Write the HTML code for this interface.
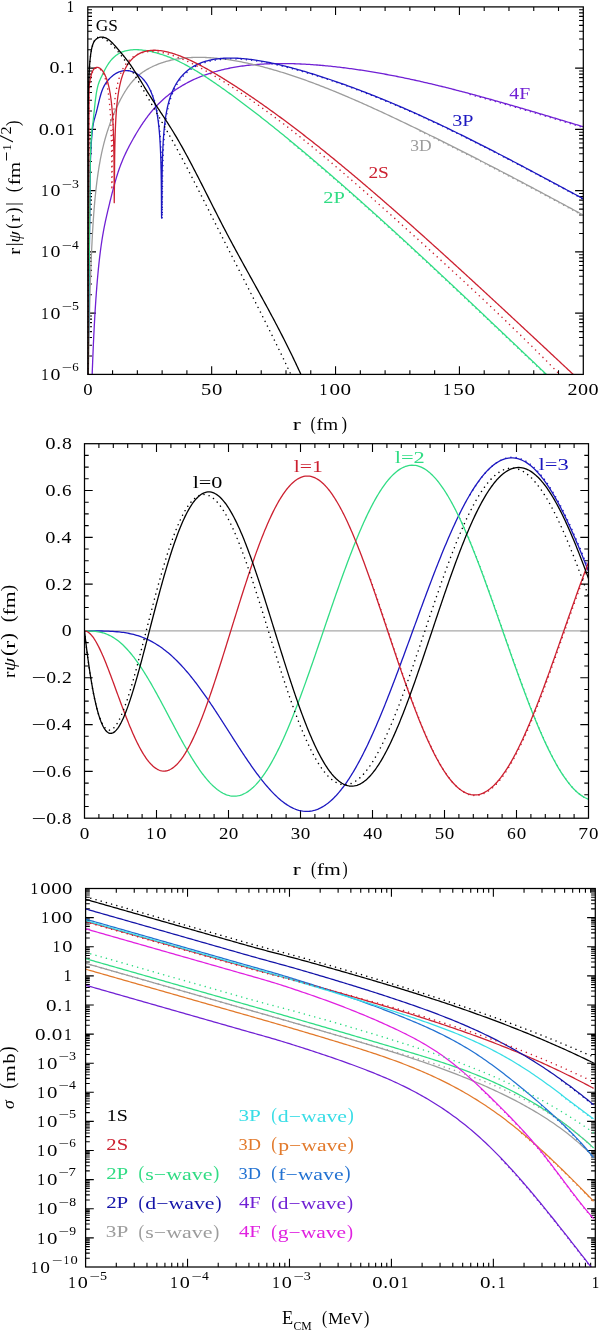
<!DOCTYPE html>
<html><head><meta charset="utf-8"><style>
html,body{margin:0;padding:0;background:#fff;}
body{width:600px;height:1331px;overflow:hidden;font-family:"Liberation Serif",serif;}
svg{display:block;will-change:transform;}
</style></head><body>
<svg width="600" height="1331" viewBox="0 0 600 1331">
<rect width="600" height="1331" fill="#fff"/>
<path d="M112.57 374.40v-4.2M112.57 6.90v4.2M137.35 374.40v-4.2M137.35 6.90v4.2M162.12 374.40v-4.2M162.12 6.90v4.2M186.90 374.40v-4.2M186.90 6.90v4.2M211.67 374.40v-8.2M211.67 6.90v8.2M236.45 374.40v-4.2M236.45 6.90v4.2M261.22 374.40v-4.2M261.22 6.90v4.2M286.00 374.40v-4.2M286.00 6.90v4.2M310.77 374.40v-4.2M310.77 6.90v4.2M335.55 374.40v-8.2M335.55 6.90v8.2M360.32 374.40v-4.2M360.32 6.90v4.2M385.10 374.40v-4.2M385.10 6.90v4.2M409.88 374.40v-4.2M409.88 6.90v4.2M434.65 374.40v-4.2M434.65 6.90v4.2M459.42 374.40v-8.2M459.42 6.90v8.2M484.20 374.40v-4.2M484.20 6.90v4.2M508.97 374.40v-4.2M508.97 6.90v4.2M533.75 374.40v-4.2M533.75 6.90v4.2M558.52 374.40v-4.2M558.52 6.90v4.2M87.80 49.71h4.2M583.30 49.71h-4.2M87.80 38.93h4.2M583.30 38.93h-4.2M87.80 31.27h4.2M583.30 31.27h-4.2M87.80 25.34h4.2M583.30 25.34h-4.2M87.80 20.49h4.2M583.30 20.49h-4.2M87.80 16.39h4.2M583.30 16.39h-4.2M87.80 12.84h4.2M583.30 12.84h-4.2M87.80 9.70h4.2M583.30 9.70h-4.2M87.80 110.96h4.2M583.30 110.96h-4.2M87.80 100.18h4.2M583.30 100.18h-4.2M87.80 92.52h4.2M583.30 92.52h-4.2M87.80 86.59h4.2M583.30 86.59h-4.2M87.80 81.74h4.2M583.30 81.74h-4.2M87.80 77.64h4.2M583.30 77.64h-4.2M87.80 74.09h4.2M583.30 74.09h-4.2M87.80 70.95h4.2M583.30 70.95h-4.2M87.80 172.21h4.2M583.30 172.21h-4.2M87.80 161.43h4.2M583.30 161.43h-4.2M87.80 153.77h4.2M583.30 153.77h-4.2M87.80 147.84h4.2M583.30 147.84h-4.2M87.80 142.99h4.2M583.30 142.99h-4.2M87.80 138.89h4.2M583.30 138.89h-4.2M87.80 135.34h4.2M583.30 135.34h-4.2M87.80 132.20h4.2M583.30 132.20h-4.2M87.80 233.46h4.2M583.30 233.46h-4.2M87.80 222.68h4.2M583.30 222.68h-4.2M87.80 215.02h4.2M583.30 215.02h-4.2M87.80 209.09h4.2M583.30 209.09h-4.2M87.80 204.24h4.2M583.30 204.24h-4.2M87.80 200.14h4.2M583.30 200.14h-4.2M87.80 196.59h4.2M583.30 196.59h-4.2M87.80 193.45h4.2M583.30 193.45h-4.2M87.80 294.71h4.2M583.30 294.71h-4.2M87.80 283.93h4.2M583.30 283.93h-4.2M87.80 276.27h4.2M583.30 276.27h-4.2M87.80 270.34h4.2M583.30 270.34h-4.2M87.80 265.49h4.2M583.30 265.49h-4.2M87.80 261.39h4.2M583.30 261.39h-4.2M87.80 257.84h4.2M583.30 257.84h-4.2M87.80 254.70h4.2M583.30 254.70h-4.2M87.80 355.96h4.2M583.30 355.96h-4.2M87.80 345.18h4.2M583.30 345.18h-4.2M87.80 337.52h4.2M583.30 337.52h-4.2M87.80 331.59h4.2M583.30 331.59h-4.2M87.80 326.74h4.2M583.30 326.74h-4.2M87.80 322.64h4.2M583.30 322.64h-4.2M87.80 319.09h4.2M583.30 319.09h-4.2M87.80 315.95h4.2M583.30 315.95h-4.2M87.80 68.15h8.2M583.30 68.15h-8.2M87.80 129.40h8.2M583.30 129.40h-8.2M87.80 190.65h8.2M583.30 190.65h-8.2M87.80 251.90h8.2M583.30 251.90h-8.2M87.80 313.15h8.2M583.30 313.15h-8.2" stroke="#000" stroke-width="1.1" fill="none"/>
<path d="M98.90 818.20v-4.2M98.90 443.70v4.2M113.30 818.20v-4.2M113.30 443.70v4.2M127.70 818.20v-4.2M127.70 443.70v4.2M142.10 818.20v-4.2M142.10 443.70v4.2M156.50 818.20v-8.2M156.50 443.70v8.2M170.90 818.20v-4.2M170.90 443.70v4.2M185.30 818.20v-4.2M185.30 443.70v4.2M199.70 818.20v-4.2M199.70 443.70v4.2M214.10 818.20v-4.2M214.10 443.70v4.2M228.50 818.20v-8.2M228.50 443.70v8.2M242.90 818.20v-4.2M242.90 443.70v4.2M257.30 818.20v-4.2M257.30 443.70v4.2M271.70 818.20v-4.2M271.70 443.70v4.2M286.10 818.20v-4.2M286.10 443.70v4.2M300.50 818.20v-8.2M300.50 443.70v8.2M314.90 818.20v-4.2M314.90 443.70v4.2M329.30 818.20v-4.2M329.30 443.70v4.2M343.70 818.20v-4.2M343.70 443.70v4.2M358.10 818.20v-4.2M358.10 443.70v4.2M372.50 818.20v-8.2M372.50 443.70v8.2M386.90 818.20v-4.2M386.90 443.70v4.2M401.30 818.20v-4.2M401.30 443.70v4.2M415.70 818.20v-4.2M415.70 443.70v4.2M430.10 818.20v-4.2M430.10 443.70v4.2M444.50 818.20v-8.2M444.50 443.70v8.2M458.90 818.20v-4.2M458.90 443.70v4.2M473.30 818.20v-4.2M473.30 443.70v4.2M487.70 818.20v-4.2M487.70 443.70v4.2M502.10 818.20v-4.2M502.10 443.70v4.2M516.50 818.20v-8.2M516.50 443.70v8.2M530.90 818.20v-4.2M530.90 443.70v4.2M545.30 818.20v-4.2M545.30 443.70v4.2M559.70 818.20v-4.2M559.70 443.70v4.2M574.10 818.20v-4.2M574.10 443.70v4.2M84.50 455.40h4.2M588.50 455.40h-4.2M84.50 467.11h4.2M588.50 467.11h-4.2M84.50 478.81h4.2M588.50 478.81h-4.2M84.50 490.51h8.2M588.50 490.51h-8.2M84.50 502.22h4.2M588.50 502.22h-4.2M84.50 513.92h4.2M588.50 513.92h-4.2M84.50 525.62h4.2M588.50 525.62h-4.2M84.50 537.33h8.2M588.50 537.33h-8.2M84.50 549.03h4.2M588.50 549.03h-4.2M84.50 560.73h4.2M588.50 560.73h-4.2M84.50 572.43h4.2M588.50 572.43h-4.2M84.50 584.14h8.2M588.50 584.14h-8.2M84.50 595.84h4.2M588.50 595.84h-4.2M84.50 607.54h4.2M588.50 607.54h-4.2M84.50 619.25h4.2M588.50 619.25h-4.2M84.50 630.95h8.2M588.50 630.95h-8.2M84.50 642.65h4.2M588.50 642.65h-4.2M84.50 654.36h4.2M588.50 654.36h-4.2M84.50 666.06h4.2M588.50 666.06h-4.2M84.50 677.76h8.2M588.50 677.76h-8.2M84.50 689.47h4.2M588.50 689.47h-4.2M84.50 701.17h4.2M588.50 701.17h-4.2M84.50 712.87h4.2M588.50 712.87h-4.2M84.50 724.58h8.2M588.50 724.58h-8.2M84.50 736.28h4.2M588.50 736.28h-4.2M84.50 747.98h4.2M588.50 747.98h-4.2M84.50 759.68h4.2M588.50 759.68h-4.2M84.50 771.39h8.2M588.50 771.39h-8.2M84.50 783.09h4.2M588.50 783.09h-4.2M84.50 794.79h4.2M588.50 794.79h-4.2M84.50 806.50h4.2M588.50 806.50h-4.2" stroke="#000" stroke-width="1.1" fill="none"/>
<path d="M116.29 1267.00v-4.2M116.29 888.50v4.2M134.24 1267.00v-4.2M134.24 888.50v4.2M146.97 1267.00v-4.2M146.97 888.50v4.2M156.85 1267.00v-4.2M156.85 888.50v4.2M164.92 1267.00v-4.2M164.92 888.50v4.2M171.75 1267.00v-4.2M171.75 888.50v4.2M177.66 1267.00v-4.2M177.66 888.50v4.2M182.88 1267.00v-4.2M182.88 888.50v4.2M187.54 1267.00v-8.2M187.54 888.50v8.2M218.23 1267.00v-4.2M218.23 888.50v4.2M236.18 1267.00v-4.2M236.18 888.50v4.2M248.91 1267.00v-4.2M248.91 888.50v4.2M258.79 1267.00v-4.2M258.79 888.50v4.2M266.86 1267.00v-4.2M266.86 888.50v4.2M273.69 1267.00v-4.2M273.69 888.50v4.2M279.60 1267.00v-4.2M279.60 888.50v4.2M284.82 1267.00v-4.2M284.82 888.50v4.2M289.48 1267.00v-8.2M289.48 888.50v8.2M320.17 1267.00v-4.2M320.17 888.50v4.2M338.12 1267.00v-4.2M338.12 888.50v4.2M350.85 1267.00v-4.2M350.85 888.50v4.2M360.73 1267.00v-4.2M360.73 888.50v4.2M368.80 1267.00v-4.2M368.80 888.50v4.2M375.63 1267.00v-4.2M375.63 888.50v4.2M381.54 1267.00v-4.2M381.54 888.50v4.2M386.76 1267.00v-4.2M386.76 888.50v4.2M391.42 1267.00v-8.2M391.42 888.50v8.2M422.11 1267.00v-4.2M422.11 888.50v4.2M440.06 1267.00v-4.2M440.06 888.50v4.2M452.79 1267.00v-4.2M452.79 888.50v4.2M462.67 1267.00v-4.2M462.67 888.50v4.2M470.74 1267.00v-4.2M470.74 888.50v4.2M477.57 1267.00v-4.2M477.57 888.50v4.2M483.48 1267.00v-4.2M483.48 888.50v4.2M488.70 1267.00v-4.2M488.70 888.50v4.2M493.36 1267.00v-8.2M493.36 888.50v8.2M524.05 1267.00v-4.2M524.05 888.50v4.2M542.00 1267.00v-4.2M542.00 888.50v4.2M554.73 1267.00v-4.2M554.73 888.50v4.2M564.61 1267.00v-4.2M564.61 888.50v4.2M572.68 1267.00v-4.2M572.68 888.50v4.2M579.51 1267.00v-4.2M579.51 888.50v4.2M585.42 1267.00v-4.2M585.42 888.50v4.2M590.64 1267.00v-4.2M590.64 888.50v4.2M85.60 1258.24h4.2M595.30 1258.24h-4.2M85.60 1253.11h4.2M595.30 1253.11h-4.2M85.60 1249.47h4.2M595.30 1249.47h-4.2M85.60 1246.65h4.2M595.30 1246.65h-4.2M85.60 1244.34h4.2M595.30 1244.34h-4.2M85.60 1242.39h4.2M595.30 1242.39h-4.2M85.60 1240.71h4.2M595.30 1240.71h-4.2M85.60 1239.22h4.2M595.30 1239.22h-4.2M85.60 1237.88h8.2M595.30 1237.88h-8.2M85.60 1229.12h4.2M595.30 1229.12h-4.2M85.60 1223.99h4.2M595.30 1223.99h-4.2M85.60 1220.36h4.2M595.30 1220.36h-4.2M85.60 1217.53h4.2M595.30 1217.53h-4.2M85.60 1215.23h4.2M595.30 1215.23h-4.2M85.60 1213.28h4.2M595.30 1213.28h-4.2M85.60 1211.59h4.2M595.30 1211.59h-4.2M85.60 1210.10h4.2M595.30 1210.10h-4.2M85.60 1208.77h8.2M595.30 1208.77h-8.2M85.60 1200.00h4.2M595.30 1200.00h-4.2M85.60 1194.88h4.2M595.30 1194.88h-4.2M85.60 1191.24h4.2M595.30 1191.24h-4.2M85.60 1188.42h4.2M595.30 1188.42h-4.2M85.60 1186.11h4.2M595.30 1186.11h-4.2M85.60 1184.16h4.2M595.30 1184.16h-4.2M85.60 1182.48h4.2M595.30 1182.48h-4.2M85.60 1180.99h4.2M595.30 1180.99h-4.2M85.60 1179.65h8.2M595.30 1179.65h-8.2M85.60 1170.89h4.2M595.30 1170.89h-4.2M85.60 1165.76h4.2M595.30 1165.76h-4.2M85.60 1162.12h4.2M595.30 1162.12h-4.2M85.60 1159.30h4.2M595.30 1159.30h-4.2M85.60 1157.00h4.2M595.30 1157.00h-4.2M85.60 1155.05h4.2M595.30 1155.05h-4.2M85.60 1153.36h4.2M595.30 1153.36h-4.2M85.60 1151.87h4.2M595.30 1151.87h-4.2M85.60 1150.54h8.2M595.30 1150.54h-8.2M85.60 1141.77h4.2M595.30 1141.77h-4.2M85.60 1136.65h4.2M595.30 1136.65h-4.2M85.60 1133.01h4.2M595.30 1133.01h-4.2M85.60 1130.19h4.2M595.30 1130.19h-4.2M85.60 1127.88h4.2M595.30 1127.88h-4.2M85.60 1125.93h4.2M595.30 1125.93h-4.2M85.60 1124.24h4.2M595.30 1124.24h-4.2M85.60 1122.76h4.2M595.30 1122.76h-4.2M85.60 1121.42h8.2M595.30 1121.42h-8.2M85.60 1112.66h4.2M595.30 1112.66h-4.2M85.60 1107.53h4.2M595.30 1107.53h-4.2M85.60 1103.89h4.2M595.30 1103.89h-4.2M85.60 1101.07h4.2M595.30 1101.07h-4.2M85.60 1098.77h4.2M595.30 1098.77h-4.2M85.60 1096.82h4.2M595.30 1096.82h-4.2M85.60 1095.13h4.2M595.30 1095.13h-4.2M85.60 1093.64h4.2M595.30 1093.64h-4.2M85.60 1092.31h8.2M595.30 1092.31h-8.2M85.60 1083.54h4.2M595.30 1083.54h-4.2M85.60 1078.42h4.2M595.30 1078.42h-4.2M85.60 1074.78h4.2M595.30 1074.78h-4.2M85.60 1071.96h4.2M595.30 1071.96h-4.2M85.60 1069.65h4.2M595.30 1069.65h-4.2M85.60 1067.70h4.2M595.30 1067.70h-4.2M85.60 1066.01h4.2M595.30 1066.01h-4.2M85.60 1064.52h4.2M595.30 1064.52h-4.2M85.60 1063.19h8.2M595.30 1063.19h-8.2M85.60 1054.43h4.2M595.30 1054.43h-4.2M85.60 1049.30h4.2M595.30 1049.30h-4.2M85.60 1045.66h4.2M595.30 1045.66h-4.2M85.60 1042.84h4.2M595.30 1042.84h-4.2M85.60 1040.54h4.2M595.30 1040.54h-4.2M85.60 1038.59h4.2M595.30 1038.59h-4.2M85.60 1036.90h4.2M595.30 1036.90h-4.2M85.60 1035.41h4.2M595.30 1035.41h-4.2M85.60 1034.08h8.2M595.30 1034.08h-8.2M85.60 1025.31h4.2M595.30 1025.31h-4.2M85.60 1020.19h4.2M595.30 1020.19h-4.2M85.60 1016.55h4.2M595.30 1016.55h-4.2M85.60 1013.73h4.2M595.30 1013.73h-4.2M85.60 1011.42h4.2M595.30 1011.42h-4.2M85.60 1009.47h4.2M595.30 1009.47h-4.2M85.60 1007.78h4.2M595.30 1007.78h-4.2M85.60 1006.29h4.2M595.30 1006.29h-4.2M85.60 1004.96h8.2M595.30 1004.96h-8.2M85.60 996.20h4.2M595.30 996.20h-4.2M85.60 991.07h4.2M595.30 991.07h-4.2M85.60 987.43h4.2M595.30 987.43h-4.2M85.60 984.61h4.2M595.30 984.61h-4.2M85.60 982.31h4.2M595.30 982.31h-4.2M85.60 980.36h4.2M595.30 980.36h-4.2M85.60 978.67h4.2M595.30 978.67h-4.2M85.60 977.18h4.2M595.30 977.18h-4.2M85.60 975.85h8.2M595.30 975.85h-8.2M85.60 967.08h4.2M595.30 967.08h-4.2M85.60 961.95h4.2M595.30 961.95h-4.2M85.60 958.32h4.2M595.30 958.32h-4.2M85.60 955.50h4.2M595.30 955.50h-4.2M85.60 953.19h4.2M595.30 953.19h-4.2M85.60 951.24h4.2M595.30 951.24h-4.2M85.60 949.55h4.2M595.30 949.55h-4.2M85.60 948.06h4.2M595.30 948.06h-4.2M85.60 946.73h8.2M595.30 946.73h-8.2M85.60 937.97h4.2M595.30 937.97h-4.2M85.60 932.84h4.2M595.30 932.84h-4.2M85.60 929.20h4.2M595.30 929.20h-4.2M85.60 926.38h4.2M595.30 926.38h-4.2M85.60 924.07h4.2M595.30 924.07h-4.2M85.60 922.13h4.2M595.30 922.13h-4.2M85.60 920.44h4.2M595.30 920.44h-4.2M85.60 918.95h4.2M595.30 918.95h-4.2M85.60 917.62h8.2M595.30 917.62h-8.2M85.60 908.85h4.2M595.30 908.85h-4.2M85.60 903.72h4.2M595.30 903.72h-4.2M85.60 900.09h4.2M595.30 900.09h-4.2M85.60 897.26h4.2M595.30 897.26h-4.2M85.60 894.96h4.2M595.30 894.96h-4.2M85.60 893.01h4.2M595.30 893.01h-4.2M85.60 891.32h4.2M595.30 891.32h-4.2M85.60 889.83h4.2M595.30 889.83h-4.2" stroke="#000" stroke-width="1.1" fill="none"/>
<line x1="84.50" y1="630.95" x2="588.50" y2="630.95" stroke="#a8a8a8" stroke-width="1.2"/>
<defs><clipPath id="cp1"><rect x="87.8" y="6.9" width="495.49999999999994" height="367.5"/></clipPath><clipPath id="cp2"><rect x="84.5" y="443.7" width="504" height="374.5"/></clipPath><clipPath id="cp3"><rect x="85.6" y="888.5" width="509.7" height="378.5"/></clipPath></defs>
<polyline points="91.92,380.93 91.98,379.36 92.04,377.82 92.10,376.29 92.16,374.79 92.22,373.23 92.28,371.54 92.34,369.88 92.40,368.24 92.47,366.61 92.53,365.01 92.59,363.42 92.65,361.85 92.71,360.29 92.77,358.76 92.83,357.23 92.89,355.73 92.96,354.24 93.02,352.76 93.08,351.30 93.14,349.86 93.26,347.00 93.38,344.21 93.51,341.53 93.63,338.95 93.75,336.42 93.87,333.93 94.00,331.49 94.12,329.09 94.24,326.72 94.36,324.40 94.49,322.11 94.61,319.86 94.73,317.70 94.85,315.63 94.98,313.58 95.10,311.56 95.22,309.58 95.34,307.62 95.46,305.69 95.59,303.79 95.71,301.92 95.83,300.07 95.95,298.29 96.08,296.58 96.20,294.90 96.32,293.24 96.44,291.59 96.57,289.98 96.69,288.38 96.81,286.80 96.93,285.24 97.06,283.70 97.18,282.22 97.30,280.80 97.42,279.39 97.55,278.00 97.73,275.95 97.91,273.94 98.10,271.96 98.28,270.02 98.46,268.16 98.65,266.38 98.83,264.63 99.01,262.91 99.20,261.22 99.38,259.56 99.57,257.92 99.75,256.38 99.93,254.88 100.12,253.40 100.30,251.94 100.48,250.51 100.67,249.10 100.85,247.72 101.10,245.98 101.34,244.28 101.59,242.61 101.83,240.98 102.07,239.39 102.32,237.88 102.56,236.39 102.81,234.94 103.05,233.52 103.30,232.12 103.54,230.79 103.79,229.47 104.03,228.18 104.28,226.92 104.58,225.38 104.89,223.87 105.20,222.40 105.50,220.97 105.81,219.56 106.11,218.16 106.42,216.79 106.73,215.45 107.03,214.12 107.34,212.78 107.64,211.47 107.95,210.18 108.26,208.90 108.56,207.59 108.87,206.31 109.17,205.04 109.48,203.79 109.79,202.52 110.09,201.26 110.40,200.03 110.70,198.80 111.01,197.56 111.32,196.34 111.62,195.14 111.99,193.70 112.30,192.51 112.66,191.09 113.03,189.70 113.40,188.31 113.76,186.94 114.13,185.59 114.50,184.25 114.87,182.94 115.23,181.64 115.60,180.36 115.97,179.10 116.33,177.86 116.70,176.64 117.07,175.45 117.44,174.28 117.80,173.13 118.23,171.82 118.66,170.55 119.09,169.29 119.52,168.08 119.95,166.89 120.37,165.72 120.80,164.59 121.23,163.48 121.66,162.39 122.15,161.17 122.64,159.99 123.13,158.82 123.62,157.69 124.11,156.58 124.60,155.49 125.09,154.43 125.58,153.38 126.07,152.36 126.62,151.22 127.17,150.11 127.72,149.01 128.27,147.93 128.82,146.87 129.37,145.82 129.92,144.78 130.47,143.75 131.02,142.73 131.57,141.73 132.12,140.73 132.68,139.74 133.23,138.76 133.78,137.79 134.33,136.83 134.88,135.87 135.49,134.83 136.10,133.79 136.71,132.76 137.33,131.75 137.94,130.75 138.55,129.76 139.16,128.78 139.77,127.81 140.39,126.85 141.00,125.90 141.61,124.97 142.22,124.05 142.83,123.14 143.45,122.24 144.12,121.26 144.79,120.30 145.47,119.36 146.14,118.43 146.81,117.51 147.49,116.61 148.16,115.73 148.83,114.86 149.51,114.01 150.18,113.17 150.91,112.28 151.65,111.39 152.38,110.53 153.12,109.68 153.85,108.85 154.59,108.03 155.32,107.23 156.05,106.44 156.79,105.67 157.58,104.84 158.38,104.04 159.18,103.25 159.97,102.47 160.77,101.71 161.56,100.96 162.36,100.23 163.15,99.51 163.95,98.80 164.81,98.06 165.66,97.33 166.52,96.61 167.38,95.91 168.23,95.22 169.09,94.54 169.95,93.88 170.80,93.23 171.72,92.55 172.64,91.88 173.56,91.22 174.48,90.58 175.39,89.94 176.31,89.33 177.23,88.72 178.15,88.12 179.07,87.54 180.05,86.93 181.02,86.33 182.00,85.74 182.98,85.17 183.96,84.61 184.94,84.06 185.92,83.52 186.90,82.99 188.02,82.40 189.01,81.89 190.50,81.14 191.98,80.41 193.47,79.71 194.96,79.03 196.45,78.37 197.94,77.73 199.42,77.11 200.91,76.51 202.40,75.93 203.89,75.37 205.37,74.83 206.86,74.30 208.35,73.80 209.84,73.30 211.33,72.83 212.81,72.37 214.30,71.93 215.79,71.50 217.28,71.08 218.77,70.68 220.25,70.30 221.74,69.93 223.23,69.57 224.72,69.22 226.21,68.89 227.69,68.57 229.18,68.26 230.67,67.97 232.16,67.68 233.64,67.41 235.13,67.15 236.62,66.90 238.11,66.66 239.60,66.43 241.08,66.21 242.57,66.00 244.06,65.80 245.55,65.61 247.04,65.43 248.52,65.26 250.01,65.10 251.50,64.95 252.99,64.80 254.48,64.67 255.96,64.54 257.45,64.42 258.94,64.31 260.43,64.21 261.91,64.11 263.40,64.03 264.89,63.95 266.38,63.87 267.87,63.81 269.35,63.75 270.84,63.70 272.33,63.66 273.82,63.62 275.31,63.59 276.79,63.57 278.28,63.55 280.27,63.53 282.25,63.53 284.23,63.54 285.72,63.55 287.21,63.57 288.70,63.59 290.18,63.62 291.67,63.66 293.16,63.70 294.65,63.74 296.14,63.79 297.62,63.85 299.11,63.91 300.60,63.98 302.09,64.05 303.58,64.12 305.06,64.20 306.55,64.29 308.04,64.37 309.53,64.47 311.02,64.57 312.50,64.67 313.99,64.78 315.48,64.89 316.97,65.00 318.45,65.12 319.94,65.25 321.43,65.37 322.92,65.50 324.41,65.64 325.89,65.78 327.38,65.92 328.87,66.07 330.36,66.22 331.85,66.38 333.33,66.54 334.82,66.70 336.31,66.87 337.80,67.04 339.29,67.21 340.77,67.39 342.26,67.57 343.75,67.75 345.24,67.94 346.72,68.13 348.21,68.33 349.70,68.53 351.19,68.73 352.68,68.93 354.16,69.14 355.65,69.35 357.14,69.57 358.63,69.79 360.12,70.01 361.60,70.23 363.09,70.46 364.58,70.69 366.07,70.93 367.56,71.16 369.04,71.40 370.53,71.64 372.02,71.89 373.51,72.14 374.99,72.39 376.48,72.65 377.97,72.90 379.46,73.17 380.95,73.43 382.43,73.70 383.92,73.96 385.41,74.24 386.90,74.51 388.39,74.79 389.87,75.07 391.36,75.35 392.85,75.64 394.34,75.93 395.83,76.22 397.31,76.51 398.80,76.81 400.29,77.11 401.78,77.41 403.26,77.72 404.75,78.03 406.24,78.34 407.73,78.65 409.22,78.96 410.70,79.28 412.19,79.60 413.68,79.93 415.17,80.25 416.66,80.58 418.14,80.91 419.63,81.24 421.12,81.58 422.61,81.92 424.10,82.26 425.58,82.60 427.07,82.94 428.56,83.29 430.05,83.64 431.53,83.99 433.02,84.34 434.51,84.70 436.00,85.05 437.49,85.41 438.97,85.78 440.46,86.14 441.95,86.50 443.44,86.87 444.93,87.24 446.41,87.61 447.90,87.99 449.39,88.36 450.88,88.74 452.37,89.12 453.85,89.50 455.34,89.88 456.83,90.26 458.32,90.65 459.80,91.03 461.29,91.42 462.78,91.81 464.27,92.21 465.76,92.60 467.24,92.99 468.73,93.39 470.22,93.79 471.71,94.19 473.20,94.59 474.68,94.99 476.17,95.39 477.66,95.80 479.15,96.21 480.64,96.61 482.12,97.02 483.61,97.43 485.10,97.84 486.59,98.26 488.07,98.67 489.56,99.09 491.05,99.50 492.54,99.92 494.03,100.34 495.51,100.76 497.00,101.18 498.49,101.60 499.98,102.03 501.47,102.45 502.95,102.87 504.44,103.30 505.93,103.73 507.42,104.15 508.91,104.58 510.39,105.01 511.88,105.44 513.37,105.87 514.86,106.31 516.34,106.74 517.83,107.17 519.32,107.61 520.81,108.04 522.30,108.48 523.78,108.92 525.27,109.35 526.76,109.79 528.25,110.23 529.74,110.67 531.22,111.11 532.71,111.55 534.20,111.99 535.69,112.43 537.18,112.87 538.66,113.32 540.15,113.76 541.64,114.20 543.13,114.65 544.61,115.09 546.10,115.54 547.59,115.98 549.08,116.43 550.57,116.87 552.05,117.32 553.54,117.77 555.03,118.22 556.52,118.66 558.01,119.11 559.49,119.56 560.98,120.01 562.47,120.45 563.96,120.90 565.45,121.35 566.93,121.80 568.42,122.25 569.91,122.70 571.40,123.15 572.88,123.60 574.37,124.05 575.86,124.50 577.35,124.95 578.84,125.40 580.32,125.85 581.81,126.30 583.30,126.74" fill="none" stroke="#7020d4" stroke-width="1.3" stroke-linejoin="round" clip-path="url(#cp1)"/>
<polyline points="470.22,94.59 471.71,94.99 473.20,95.39 474.68,95.79 476.17,96.19 477.66,96.60 479.15,97.01 480.64,97.41 482.12,97.82 483.61,98.23 485.10,98.64 486.59,99.06 488.07,99.47 489.56,99.89 491.05,100.30 492.54,100.72 494.03,101.14 495.51,101.56 497.00,101.98 498.49,102.40 499.98,102.83 501.47,103.25 502.95,103.67 504.44,104.10 505.93,104.53 507.42,104.95 508.91,105.38 510.39,105.81 511.88,106.24 513.37,106.67 514.86,107.11 516.34,107.54 517.83,107.97 519.32,108.41 520.81,108.84 522.30,109.28 523.78,109.72 525.27,110.15 526.76,110.59 528.25,111.03 529.74,111.47 531.22,111.91 532.71,112.35 534.20,112.79 535.69,113.23 537.18,113.67 538.66,114.12 540.15,114.56 541.64,115.00 543.13,115.45 544.61,115.89 546.10,116.34 547.59,116.78 549.08,117.23 550.57,117.67 552.05,118.12 553.54,118.57 555.03,119.02 556.52,119.46 558.01,119.91 559.49,120.36 560.98,120.81 562.47,121.25 563.96,121.70 565.45,122.15 566.93,122.60 568.42,123.05 569.91,123.50 571.40,123.95 572.88,124.40 574.37,124.85 575.86,125.30 577.35,125.75 578.84,126.20 580.32,126.65 581.81,127.10 583.30,127.54" fill="none" stroke="#7020d4" stroke-width="1.5" stroke-dasharray="0.01 5.2" stroke-linecap="round" clip-path="url(#cp1)"/>
<polyline points="87.80,400.00 89.04,340.23 89.10,336.38 89.16,332.71 89.22,329.20 89.28,325.84 89.34,322.61 89.41,319.51 89.47,316.52 89.53,313.65 89.59,310.87 89.65,308.19 89.71,305.59 89.77,303.08 89.83,300.64 89.90,298.27 89.96,295.98 90.02,293.74 90.08,291.57 90.14,289.46 90.20,287.40 90.26,285.39 90.32,283.43 90.39,281.52 90.45,279.65 90.51,277.83 90.57,276.04 90.63,274.30 90.69,272.59 90.75,270.92 90.81,269.28 90.87,267.68 90.94,266.10 91.00,264.56 91.06,263.05 91.12,261.56 91.18,260.11 91.30,257.27 91.43,254.53 91.55,251.88 91.67,249.31 91.79,246.83 91.92,244.40 92.04,241.94 92.16,239.55 92.28,237.22 92.40,234.95 92.53,232.74 92.65,230.58 92.77,228.47 92.89,226.41 93.02,224.39 93.14,222.43 93.26,220.63 93.38,218.87 93.51,217.14 93.63,215.46 93.75,213.81 93.87,212.19 94.00,210.60 94.12,209.05 94.24,207.52 94.36,206.03 94.49,204.63 94.67,202.58 94.85,200.58 95.04,198.64 95.22,196.75 95.40,194.91 95.59,193.11 95.77,191.39 95.95,189.72 96.14,188.09 96.32,186.49 96.51,184.94 96.69,183.42 96.87,181.93 97.06,180.50 97.24,179.10 97.42,177.73 97.61,176.39 97.85,174.65 98.10,172.95 98.34,171.33 98.59,169.74 98.83,168.19 99.08,166.69 99.32,165.22 99.57,163.80 99.81,162.41 100.06,161.06 100.30,159.74 100.54,158.45 100.85,156.89 101.16,155.37 101.46,153.89 101.77,152.45 102.07,151.06 102.38,149.70 102.69,148.37 102.99,147.08 103.30,145.82 103.60,144.58 103.91,143.38 104.28,141.98 104.65,140.61 105.01,139.27 105.38,137.97 105.75,136.70 106.11,135.45 106.48,134.24 106.85,133.05 107.22,131.88 107.58,130.73 108.01,129.43 108.44,128.14 108.87,126.88 109.30,125.65 109.72,124.44 110.15,123.25 110.58,122.08 111.01,120.93 111.44,119.81 111.87,118.69 112.30,117.60 112.78,116.38 113.27,115.17 113.76,113.99 114.25,112.83 114.74,111.68 115.23,110.56 115.72,109.46 116.21,108.37 116.70,107.30 117.19,106.25 117.68,105.22 118.17,104.20 118.72,103.08 119.27,101.97 119.82,100.89 120.37,99.82 120.92,98.78 121.48,97.76 122.03,96.75 122.58,95.76 123.13,94.80 123.74,93.74 124.35,92.71 124.96,91.71 125.58,90.73 126.19,89.77 126.80,88.84 127.41,87.93 128.09,86.95 128.76,86.01 129.43,85.10 130.10,84.21 130.78,83.36 131.51,82.46 132.25,81.60 132.98,80.77 133.72,79.96 134.45,79.19 135.25,78.39 136.04,77.61 136.84,76.87 137.63,76.16 138.49,75.42 139.35,74.72 140.20,74.04 141.06,73.38 141.98,72.72 142.90,72.07 143.81,71.46 144.73,70.86 145.71,70.25 146.69,69.67 147.67,69.10 148.65,68.56 149.63,68.03 150.67,67.49 151.71,66.97 152.75,66.46 153.79,65.98 154.83,65.51 155.93,65.04 157.03,64.58 158.14,64.14 159.24,63.72 160.34,63.32 161.50,62.91 162.66,62.53 163.83,62.15 164.99,61.80 166.15,61.46 167.38,61.12 168.60,60.80 169.82,60.50 171.05,60.21 172.33,59.93 173.62,59.66 174.90,59.41 176.19,59.18 177.47,58.96 178.82,58.75 180.17,58.56 181.51,58.38 182.86,58.22 184.27,58.06 185.68,57.93 187.52,57.77 189.01,57.67 190.50,57.58 191.98,57.50 193.47,57.44 194.96,57.40 196.45,57.37 197.94,57.36 199.92,57.36 201.41,57.38 202.89,57.41 204.38,57.45 205.87,57.51 207.36,57.58 208.85,57.66 210.33,57.75 211.82,57.85 213.31,57.97 214.80,58.09 216.29,58.23 217.77,58.37 219.26,58.53 220.75,58.70 222.24,58.87 223.73,59.06 225.21,59.25 226.70,59.46 228.19,59.67 229.68,59.90 231.16,60.13 232.65,60.37 234.14,60.61 235.63,60.87 237.12,61.14 238.60,61.41 240.09,61.69 241.58,61.98 243.07,62.27 244.56,62.57 246.04,62.88 247.53,63.20 249.02,63.52 250.51,63.86 252.00,64.19 253.48,64.54 254.97,64.89 256.46,65.25 257.95,65.61 259.43,65.98 260.92,66.36 262.41,66.74 263.90,67.13 265.39,67.53 266.87,67.93 268.36,68.33 269.85,68.75 271.34,69.16 272.83,69.59 274.31,70.02 275.80,70.45 277.29,70.89 278.78,71.34 280.27,71.79 281.75,72.25 283.24,72.71 284.73,73.17 286.22,73.65 287.70,74.12 289.19,74.61 290.68,75.09 292.17,75.58 293.66,76.08 295.14,76.58 296.63,77.09 298.12,77.60 299.61,78.11 301.10,78.63 302.58,79.16 304.07,79.69 305.56,80.22 307.05,80.76 308.54,81.30 310.02,81.85 311.51,82.40 313.00,82.95 314.49,83.51 315.97,84.08 317.46,84.64 318.95,85.21 320.44,85.79 321.93,86.36 323.41,86.95 324.90,87.53 326.39,88.12 327.88,88.71 329.37,89.31 330.85,89.91 332.34,90.51 333.83,91.12 335.32,91.72 336.81,92.34 338.29,92.95 339.78,93.57 341.27,94.19 342.76,94.82 344.24,95.44 345.73,96.07 347.22,96.71 348.71,97.34 350.20,97.98 351.68,98.62 353.17,99.27 354.66,99.91 356.15,100.56 357.64,101.21 359.12,101.87 360.61,102.53 362.10,103.19 363.59,103.85 365.08,104.51 366.56,105.18 368.05,105.85 369.54,106.52 371.03,107.19 372.51,107.86 374.00,108.54 375.49,109.22 376.98,109.90 378.47,110.58 379.95,111.27 381.44,111.96 382.93,112.65 384.42,113.34 385.91,114.03 387.39,114.72 388.88,115.42 390.37,116.12 391.86,116.82 393.35,117.52 394.83,118.22 396.32,118.92 397.81,119.63 399.30,120.34 400.78,121.05 402.27,121.76 403.76,122.47 405.25,123.18 406.74,123.89 408.22,124.61 409.71,125.33 411.20,126.04 412.69,126.76 414.18,127.48 415.66,128.20 417.15,128.93 418.64,129.65 420.13,130.38 421.62,131.10 423.10,131.83 424.59,132.56 426.08,133.29 427.57,134.02 429.05,134.75 430.54,135.48 432.03,136.22 433.52,136.95 435.01,137.69 436.49,138.43 437.98,139.16 439.47,139.90 440.96,140.64 442.45,141.38 443.93,142.13 445.42,142.87 446.91,143.61 448.40,144.36 449.89,145.10 451.37,145.85 452.86,146.60 454.35,147.35 455.84,148.10 457.32,148.85 458.81,149.60 460.30,150.35 461.79,151.10 463.28,151.86 464.76,152.61 466.25,153.37 467.74,154.13 469.23,154.88 470.72,155.64 472.20,156.40 473.69,157.16 475.18,157.92 476.67,158.68 477.66,159.19 478.65,159.70 479.64,160.21 480.64,160.72 481.63,161.23 482.62,161.74 483.61,162.25 484.60,162.76 485.59,163.27 486.59,163.78 487.58,164.30 488.57,164.81 489.56,165.32 490.55,165.83 491.55,166.35 492.54,166.86 493.53,167.37 494.52,167.89 495.51,168.40 496.51,168.92 497.50,169.43 498.49,169.95 499.48,170.46 500.47,170.98 501.47,171.50 502.46,172.01 503.45,172.53 504.44,173.05 505.43,173.57 506.43,174.08 507.42,174.60 508.41,175.12 509.40,175.64 510.39,176.16 511.39,176.68 512.38,177.20 513.37,177.72 514.36,178.24 515.35,178.76 516.34,179.28 517.34,179.80 518.33,180.33 519.32,180.85 520.31,181.37 521.30,181.89 522.30,182.42 523.29,182.94 524.28,183.46 525.27,183.99 526.26,184.51 527.26,185.04 528.25,185.56 529.24,186.09 530.23,186.61 531.22,187.14 532.22,187.66 533.21,188.19 534.20,188.72 535.19,189.24 536.18,189.77 537.18,190.30 538.17,190.83 539.16,191.35 540.15,191.88 541.14,192.41 542.13,192.94 543.13,193.47 544.12,194.00 545.11,194.53 546.10,195.06 547.09,195.59 548.09,196.12 549.08,196.65 550.07,197.18 551.06,197.71 552.05,198.24 553.05,198.77 554.04,199.31 555.03,199.84 556.02,200.37 557.01,200.90 558.01,201.44 559.00,201.97 559.99,202.50 560.98,203.04 561.97,203.57 562.97,204.11 563.96,204.64 564.95,205.18 565.94,205.71 566.93,206.25 567.93,206.78 568.92,207.32 569.91,207.85 570.90,208.39 571.89,208.93 572.88,209.47 573.88,210.00 574.87,210.54 575.86,211.08 576.85,211.62 577.84,212.15 578.84,212.69 579.83,213.23 580.82,213.77 581.81,214.31 582.80,214.85 583.30,215.12" fill="none" stroke="#9c9c9c" stroke-width="1.3" stroke-linejoin="round" clip-path="url(#cp1)"/>
<polyline points="420.13,131.18 421.62,131.90 423.10,132.63 424.59,133.36 426.08,134.09 427.57,134.82 429.05,135.55 430.54,136.28 432.03,137.02 433.52,137.75 435.01,138.49 436.49,139.23 437.98,139.96 439.47,140.70 440.96,141.44 442.45,142.18 443.93,142.93 445.42,143.67 446.91,144.41 448.40,145.16 449.89,145.90 451.37,146.65 452.86,147.40 454.35,148.15 455.84,148.90 457.32,149.65 458.81,150.40 460.30,151.15 461.79,151.90 463.28,152.66 464.76,153.41 466.25,154.17 467.74,154.93 469.23,155.68 470.72,156.44 472.20,157.20 473.69,157.96 475.18,158.72 476.67,159.48 477.66,159.99 478.65,160.50 479.64,161.01 480.64,161.52 481.63,162.03 482.62,162.54 483.61,163.05 484.60,163.56 485.59,164.07 486.59,164.58 487.58,165.10 488.57,165.61 489.56,166.12 490.55,166.63 491.55,167.15 492.54,167.66 493.53,168.17 494.52,168.69 495.51,169.20 496.51,169.72 497.50,170.23 498.49,170.75 499.48,171.26 500.47,171.78 501.47,172.30 502.46,172.81 503.45,173.33 504.44,173.85 505.43,174.37 506.43,174.88 507.42,175.40 508.41,175.92 509.40,176.44 510.39,176.96 511.39,177.48 512.38,178.00 513.37,178.52 514.36,179.04 515.35,179.56 516.34,180.08 517.34,180.60 518.33,181.13 519.32,181.65 520.31,182.17 521.30,182.69 522.30,183.22 523.29,183.74 524.28,184.26 525.27,184.79 526.26,185.31 527.26,185.84 528.25,186.36 529.24,186.89 530.23,187.41 531.22,187.94 532.22,188.46 533.21,188.99 534.20,189.52 535.19,190.04 536.18,190.57 537.18,191.10 538.17,191.63 539.16,192.15 540.15,192.68 541.14,193.21 542.13,193.74 543.13,194.27 544.12,194.80 545.11,195.33 546.10,195.86 547.09,196.39 548.09,196.92 549.08,197.45 550.07,197.98 551.06,198.51 552.05,199.04 553.05,199.57 554.04,200.11 555.03,200.64 556.02,201.17 557.01,201.70 558.01,202.24 559.00,202.77 559.99,203.30 560.98,203.84 561.97,204.37 562.97,204.91 563.96,205.44 564.95,205.98 565.94,206.51 566.93,207.05 567.93,207.58 568.92,208.12 569.91,208.65 570.90,209.19 571.89,209.73 572.88,210.27 573.88,210.80 574.87,211.34 575.86,211.88 576.85,212.42 577.84,212.95 578.84,213.49 579.83,214.03 580.82,214.57 581.81,215.11 582.80,215.65 583.30,215.92" fill="none" stroke="#9c9c9c" stroke-width="1.5" stroke-dasharray="0.01 5.2" stroke-linecap="round" clip-path="url(#cp1)"/>
<polyline points="87.80,400.00 90.28,164.16 90.34,162.68 90.40,161.23 90.52,158.42 90.64,155.71 90.76,153.10 90.88,150.58 91.00,148.14 91.12,145.77 91.24,143.52 91.37,141.86 91.49,140.26 91.61,138.72 91.73,137.23 91.85,135.79 91.97,134.40 92.15,132.40 92.33,130.49 92.51,128.77 92.75,127.10 93.00,125.55 93.24,124.12 93.48,122.79 93.78,121.31 94.08,120.10 94.45,118.81 94.87,117.50 95.23,116.16 95.60,114.86 95.96,113.67 96.32,112.37 96.62,111.09 96.92,109.86 97.29,108.47 97.59,107.21 97.89,105.87 98.19,104.59 98.50,103.35 98.80,102.09 99.10,100.82 99.40,99.58 99.70,98.38 100.07,97.02 100.43,95.72 100.79,94.47 101.15,93.27 101.58,92.03 102.00,90.84 102.42,89.71 102.91,88.56 103.39,87.47 103.93,86.36 104.48,85.33 105.08,84.29 105.69,83.34 106.35,82.38 107.02,81.50 107.74,80.60 108.47,79.76 109.19,78.95 109.98,78.15 110.76,77.38 111.55,76.66 112.39,75.94 113.24,75.27 114.15,74.60 115.05,73.99 116.02,73.40 116.99,72.87 118.01,72.37 119.10,71.91 120.25,71.51 121.46,71.17 122.73,70.90 124.06,70.72 125.51,70.62 127.02,70.64 128.41,70.76 129.74,70.98 131.01,71.27 132.21,71.63 133.36,72.05 134.45,72.52 135.48,73.02 136.44,73.56 137.41,74.15 138.32,74.77 139.22,75.44 140.07,76.13 140.92,76.87 141.70,77.61 142.49,78.41 143.21,79.20 143.94,80.03 144.66,80.93 145.33,81.80 145.99,82.73 146.66,83.71 147.26,84.66 147.86,85.66 148.47,86.72 149.01,87.73 149.56,88.79 150.10,89.91 150.58,90.96 151.07,92.07 151.55,93.24 152.03,94.47 152.46,95.61 152.88,96.81 153.30,98.07 153.67,99.21 154.03,100.40 154.39,101.66 154.75,102.99 155.12,104.40 155.42,105.63 155.72,106.93 156.02,108.30 156.32,109.75 156.63,111.29 156.87,112.58 157.11,113.95 157.35,115.40 157.59,116.93 157.83,118.56 158.08,120.30 158.26,121.68 158.44,123.14 158.62,124.69 158.80,126.34 158.98,128.09 159.16,129.97 159.35,132.00 159.47,133.44 159.59,134.96 159.71,136.58 159.83,138.31 159.95,140.15 160.07,142.13 160.19,144.28 160.31,146.61 160.43,149.17 160.55,152.00 160.61,153.53 160.67,155.17 160.74,156.90 160.80,158.76 160.86,160.76 160.92,162.93 160.98,165.28 161.04,167.87 161.10,170.73 161.16,173.94 161.22,177.59 161.28,181.82 161.34,186.85 161.40,193.06 161.46,201.19 161.52,212.94 161.58,218.00 161.76,207.60 161.82,197.63 161.88,190.40 161.94,184.72 162.00,180.04 162.06,176.06 162.12,172.60 162.19,169.54 162.25,166.80 162.31,164.31 162.37,162.04 162.43,159.94 162.49,158.00 162.55,156.19 162.61,154.49 162.67,152.90 162.73,151.40 162.85,148.63 162.97,146.12 163.09,143.82 163.21,141.71 163.33,139.76 163.45,137.94 163.58,136.23 163.70,134.63 163.82,133.12 163.94,131.70 164.12,129.69 164.30,127.83 164.48,126.08 164.66,124.45 164.84,122.91 165.03,121.46 165.21,120.08 165.45,118.35 165.69,116.73 165.93,115.21 166.17,113.76 166.42,112.40 166.66,111.10 166.96,109.56 167.26,108.12 167.56,106.75 167.87,105.44 168.17,104.21 168.53,102.80 168.89,101.46 169.26,100.20 169.62,98.99 169.98,97.84 170.40,96.57 170.83,95.36 171.25,94.20 171.67,93.10 172.16,91.90 172.64,90.76 173.12,89.67 173.61,88.64 174.15,87.52 174.69,86.46 175.24,85.45 175.78,84.48 176.39,83.45 176.99,82.47 177.59,81.54 178.26,80.56 178.92,79.62 179.59,78.73 180.25,77.87 180.98,76.99 181.70,76.14 182.43,75.33 183.21,74.49 184.00,73.69 184.79,72.93 185.57,72.21 186.42,71.46 187.52,70.54 188.51,69.76 189.50,69.02 190.50,68.32 191.49,67.66 192.48,67.04 193.47,66.44 194.46,65.88 195.46,65.35 196.94,64.60 198.43,63.91 199.92,63.27 201.41,62.69 202.89,62.15 204.38,61.65 205.87,61.20 207.36,60.78 208.85,60.41 210.33,60.06 211.82,59.75 213.31,59.47 214.80,59.22 216.29,59.00 217.77,58.81 219.26,58.64 220.75,58.49 222.24,58.37 223.73,58.27 225.21,58.19 226.70,58.13 228.19,58.09 229.68,58.07 231.66,58.07 233.15,58.09 234.64,58.13 236.12,58.18 237.61,58.25 239.10,58.33 240.59,58.43 242.08,58.54 243.56,58.66 245.05,58.80 246.54,58.95 248.03,59.11 249.52,59.28 251.00,59.47 252.49,59.66 253.98,59.87 255.47,60.09 256.95,60.31 258.44,60.55 259.93,60.79 261.42,61.05 262.91,61.31 264.39,61.59 265.88,61.87 267.37,62.16 268.86,62.45 270.35,62.76 271.83,63.07 273.32,63.39 274.81,63.71 276.30,64.05 277.79,64.39 279.27,64.74 280.76,65.09 282.25,65.45 283.74,65.81 285.22,66.19 286.71,66.56 288.20,66.95 289.69,67.33 291.18,67.73 292.66,68.13 294.15,68.53 295.64,68.94 297.13,69.35 298.62,69.77 300.10,70.19 301.59,70.62 303.08,71.05 304.57,71.49 306.06,71.93 307.54,72.37 309.03,72.82 310.52,73.27 312.01,73.73 313.49,74.19 314.98,74.65 316.47,75.12 317.96,75.59 319.45,76.07 320.93,76.55 322.42,77.03 323.91,77.52 325.40,78.01 326.89,78.50 328.37,79.00 329.86,79.50 331.35,80.00 332.84,80.51 334.33,81.02 335.81,81.54 337.30,82.05 338.79,82.57 340.28,83.10 341.76,83.62 343.25,84.15 344.74,84.69 346.23,85.22 347.72,85.76 349.20,86.30 350.69,86.85 352.18,87.40 353.67,87.95 355.16,88.50 356.64,89.06 358.13,89.62 359.62,90.18 361.11,90.74 362.60,91.31 364.08,91.88 365.57,92.46 367.06,93.04 368.55,93.61 370.04,94.20 371.52,94.78 373.01,95.37 374.50,95.96 375.99,96.56 377.47,97.15 378.96,97.75 380.45,98.35 381.94,98.96 383.43,99.56 384.91,100.17 386.40,100.79 387.89,101.40 389.38,102.02 390.87,102.64 392.35,103.27 393.84,103.89 395.33,104.52 396.82,105.15 398.31,105.79 399.79,106.43 401.28,107.07 402.77,107.71 404.26,108.35 405.74,109.00 407.23,109.65 408.72,110.31 410.21,110.96 411.70,111.62 413.18,112.28 414.67,112.95 416.16,113.61 417.65,114.28 419.14,114.96 420.62,115.63 422.11,116.31 423.60,116.99 425.09,117.67 426.58,118.35 428.06,119.04 429.55,119.73 431.04,120.42 432.53,121.11 434.01,121.81 435.50,122.51 436.99,123.21 438.48,123.91 439.97,124.62 441.45,125.32 442.94,126.03 444.43,126.74 445.92,127.46 447.41,128.17 448.89,128.89 450.38,129.61 451.87,130.33 453.36,131.05 454.85,131.77 456.33,132.50 457.82,133.23 459.31,133.96 460.80,134.69 462.28,135.42 463.77,136.16 465.26,136.89 466.75,137.63 468.24,138.37 469.72,139.11 471.21,139.86 472.70,140.60 474.19,141.35 475.68,142.10 477.16,142.85 478.65,143.60 480.14,144.35 481.63,145.10 483.12,145.86 484.60,146.61 486.09,147.37 487.58,148.13 489.07,148.89 490.55,149.65 491.55,150.16 492.54,150.67 493.53,151.18 494.52,151.69 495.51,152.20 496.51,152.71 497.50,153.22 498.49,153.74 499.48,154.25 500.47,154.76 501.47,155.28 502.46,155.79 503.45,156.31 504.44,156.82 505.43,157.34 506.43,157.85 507.42,158.37 508.41,158.89 509.40,159.40 510.39,159.92 511.39,160.44 512.38,160.96 513.37,161.48 514.36,162.00 515.35,162.52 516.34,163.04 517.34,163.56 518.33,164.08 519.32,164.60 520.31,165.13 521.30,165.65 522.30,166.17 523.29,166.69 524.28,167.22 525.27,167.74 526.26,168.27 527.26,168.79 528.25,169.32 529.24,169.84 530.23,170.37 531.22,170.89 532.22,171.42 533.21,171.95 534.20,172.47 535.19,173.00 536.18,173.53 537.18,174.05 538.17,174.58 539.16,175.11 540.15,175.64 541.14,176.17 542.13,176.70 543.13,177.23 544.12,177.76 545.11,178.29 546.10,178.82 547.09,179.35 548.09,179.88 549.08,180.41 550.07,180.94 551.06,181.47 552.05,182.00 553.05,182.53 554.04,183.06 555.03,183.60 556.02,184.13 557.01,184.66 558.01,185.19 559.00,185.72 559.99,186.26 560.98,186.79 561.97,187.32 562.97,187.86 563.96,188.39 564.95,188.92 565.94,189.46 566.93,189.99 567.93,190.52 568.92,191.06 569.91,191.59 570.90,192.13 571.89,192.66 572.88,193.19 573.88,193.73 574.87,194.26 575.86,194.80 576.85,195.33 577.84,195.87 578.84,196.40 579.83,196.94 580.82,197.47 581.81,198.01 582.80,198.54 583.30,198.81" fill="none" stroke="#1c18c0" stroke-width="1.3" stroke-linejoin="round" clip-path="url(#cp1)"/>
<polyline points="150.78,90.88 151.27,91.95 151.76,93.09 152.25,94.28 152.68,95.38 153.10,96.54 153.53,97.76 153.96,99.05 154.33,100.21 154.70,101.44 155.06,102.72 155.43,104.09 155.74,105.28 156.04,106.53 156.35,107.86 156.65,109.25 156.96,110.73 157.27,112.30 157.51,113.63 157.76,115.03 158.00,116.51 158.25,118.08 158.49,119.75 158.67,121.08 158.86,122.48 159.04,123.96 159.22,125.53 159.41,127.20 159.59,128.98 159.78,130.90 159.96,132.96 160.08,134.43 160.20,135.99 160.33,137.64 160.45,139.41 160.57,141.30 160.69,143.33 160.82,145.54 160.94,147.95 161.06,150.59 161.18,153.54 161.24,155.14 161.31,156.84 161.37,158.67 161.43,160.62 161.49,162.74 161.55,165.03 161.61,167.54 161.67,170.32 161.73,173.41 161.80,176.92 161.86,180.96 161.92,185.73 161.98,191.54 162.04,198.99 162.10,209.38 162.16,218.80 162.35,211.87 162.41,200.65 162.47,192.79 162.53,186.73 162.59,181.79 162.65,177.63 162.71,174.03 162.77,170.87 162.84,168.04 162.90,165.48 162.96,163.14 163.02,161.00 163.08,159.01 163.14,157.17 163.20,155.44 163.26,153.82 163.33,152.29 163.39,150.85 163.51,148.17 163.63,145.74 163.75,143.52 163.88,141.47 164.00,139.56 164.12,137.78 164.24,136.12 164.37,134.55 164.49,133.07 164.61,131.67 164.79,129.70 164.98,127.87 165.16,126.15 165.35,124.54 165.53,123.03 165.71,121.59 165.90,120.23 166.14,118.52 166.39,116.92 166.63,115.41 166.88,113.98 167.12,112.63 167.36,111.34 167.67,109.82 167.98,108.38 168.28,107.02 168.59,105.73 168.89,104.50 169.26,103.11 169.63,101.78 170.00,100.52 170.36,99.32 170.73,98.18 171.16,96.91 171.59,95.71 172.02,94.56 172.44,93.47 172.93,92.27 173.42,91.14 173.91,90.06 174.40,89.03 174.95,87.92 175.50,86.86 176.06,85.86 176.61,84.89 177.22,83.87 177.83,82.90 178.44,81.97 179.05,81.08 179.73,80.14 180.40,79.25 181.07,78.40 181.81,77.51 182.54,76.67 183.28,75.86 184.01,75.09 184.81,74.29 185.60,73.53 186.40,72.80 187.26,72.06 188.12,71.34 189.11,70.56 190.10,69.82 191.10,69.12 192.09,68.46 193.08,67.84 194.07,67.24 195.06,66.68 196.06,66.15 197.54,65.40 199.03,64.71 200.52,64.07 202.01,63.49 203.49,62.95 204.98,62.45 206.47,62.00 207.96,61.58 209.45,61.21 210.93,60.86 212.42,60.55 213.91,60.27 215.40,60.02 216.89,59.80 218.37,59.61 219.86,59.44 221.35,59.29 222.84,59.17 224.33,59.07 225.81,58.99 227.30,58.93 228.79,58.89 230.28,58.87 232.26,58.87 233.75,58.89 235.24,58.93 236.72,58.98 238.21,59.05 239.70,59.13 241.19,59.23 242.68,59.34 244.16,59.46 245.65,59.60 247.14,59.75 248.63,59.91 250.12,60.08 251.60,60.27 253.09,60.46 254.58,60.67 256.07,60.89 257.55,61.11 259.04,61.35 260.53,61.59 262.02,61.85 263.51,62.11 264.99,62.39 266.48,62.67 267.97,62.96 269.46,63.25 270.95,63.56 272.43,63.87 273.92,64.19 275.41,64.51 276.90,64.85 278.39,65.19 279.87,65.54 281.36,65.89 282.85,66.25 284.34,66.61 285.82,66.99 287.31,67.36 288.80,67.75 290.29,68.13 291.78,68.53 293.26,68.93 294.75,69.33 296.24,69.74 297.73,70.15 299.22,70.57 300.70,70.99 302.19,71.42 303.68,71.85 305.17,72.29 306.66,72.73 308.14,73.17 309.63,73.62 311.12,74.07 312.61,74.53 314.09,74.99 315.58,75.45 317.07,75.92 318.56,76.39 320.05,76.87 321.53,77.35 323.02,77.83 324.51,78.32 326.00,78.81 327.49,79.30 328.97,79.80 330.46,80.30 331.95,80.80 333.44,81.31 334.93,81.82 336.41,82.34 337.90,82.85 339.39,83.37 340.88,83.90 342.36,84.42 343.85,84.95 345.34,85.49 346.83,86.02 348.32,86.56 349.80,87.10 351.29,87.65 352.78,88.20 354.27,88.75 355.76,89.30 357.24,89.86 358.73,90.42 360.22,90.98 361.71,91.54 363.20,92.11 364.68,92.68 366.17,93.26 367.66,93.84 369.15,94.41 370.64,95.00 372.12,95.58 373.61,96.17 375.10,96.76 376.59,97.36 378.07,97.95 379.56,98.55 381.05,99.15 382.54,99.76 384.03,100.36 385.51,100.97 387.00,101.59 388.49,102.20 389.98,102.82 391.47,103.44 392.95,104.07 394.44,104.69 395.93,105.32 397.42,105.95 398.91,106.59 400.39,107.23 401.88,107.87 403.37,108.51 404.86,109.15 406.34,109.80 407.83,110.45 409.32,111.11 410.81,111.76 412.30,112.42 413.78,113.08 415.27,113.75 416.76,114.41 418.25,115.08 419.74,115.76 421.22,116.43 422.71,117.11 424.20,117.79 425.69,118.47 427.18,119.15 428.66,119.84 430.15,120.53 431.64,121.22 433.13,121.91 434.61,122.61 436.10,123.31 437.59,124.01 439.08,124.71 440.57,125.42 442.05,126.12 443.54,126.83 445.03,127.54 446.52,128.26 448.01,128.97 449.49,129.69 450.98,130.41 452.47,131.13 453.96,131.85 455.45,132.57 456.93,133.30 458.42,134.03 459.91,134.76 461.40,135.49 462.88,136.22 464.37,136.96 465.86,137.69 467.35,138.43 468.84,139.17 470.32,139.91 471.81,140.66 473.30,141.40 474.79,142.15 476.28,142.90 477.76,143.65 479.25,144.40 480.74,145.15 482.23,145.90 483.72,146.66 485.20,147.41 486.69,148.17 488.18,148.93 489.67,149.69 491.15,150.45 492.15,150.96 493.14,151.47 494.13,151.98 495.12,152.49 496.11,153.00 497.11,153.51 498.10,154.02 499.09,154.54 500.08,155.05 501.07,155.56 502.07,156.08 503.06,156.59 504.05,157.11 505.04,157.62 506.03,158.14 507.03,158.65 508.02,159.17 509.01,159.69 510.00,160.20 510.99,160.72 511.99,161.24 512.98,161.76 513.97,162.28 514.96,162.80 515.95,163.32 516.94,163.84 517.94,164.36 518.93,164.88 519.92,165.40 520.91,165.93 521.90,166.45 522.90,166.97 523.89,167.49 524.88,168.02 525.87,168.54 526.86,169.07 527.86,169.59 528.85,170.12 529.84,170.64 530.83,171.17 531.82,171.69 532.82,172.22 533.81,172.75 534.80,173.27 535.79,173.80 536.78,174.33 537.78,174.85 538.77,175.38 539.76,175.91 540.75,176.44 541.74,176.97 542.73,177.50 543.73,178.03 544.72,178.56 545.71,179.09 546.70,179.62 547.69,180.15 548.69,180.68 549.68,181.21 550.67,181.74 551.66,182.27 552.65,182.80 553.65,183.33 554.64,183.86 555.63,184.40 556.62,184.93 557.61,185.46 558.61,185.99 559.60,186.52 560.59,187.06 561.58,187.59 562.57,188.12 563.57,188.66 564.56,189.19 565.55,189.72 566.54,190.26 567.53,190.79 568.53,191.32 569.52,191.86 570.51,192.39 571.50,192.93 572.49,193.46 573.48,193.99 574.48,194.53 575.47,195.06 576.46,195.60 577.45,196.13 578.44,196.67 579.44,197.20 580.43,197.74 581.42,198.27 582.41,198.81 583.40,199.34 583.90,199.61" fill="none" stroke="#1c18c0" stroke-width="1.5" stroke-dasharray="0.01 5.2" stroke-linecap="round" clip-path="url(#cp1)"/>
<polyline points="87.80,400.00 90.28,156.90 90.40,154.37 90.52,151.95 90.64,149.64 90.76,147.42 90.88,145.29 91.00,143.25 91.12,141.28 91.24,139.37 91.37,137.54 91.49,135.77 91.61,134.05 91.73,132.39 91.85,130.78 92.03,129.05 92.21,127.66 92.45,125.95 92.69,124.38 92.94,122.94 93.12,121.54 93.30,119.68 93.48,117.88 93.66,116.14 93.84,114.44 94.02,112.80 94.21,111.15 94.39,109.34 94.57,107.56 94.75,105.82 94.93,104.11 95.11,102.44 95.29,100.81 95.47,99.42 95.66,98.09 95.90,96.35 96.14,94.67 96.38,93.03 96.62,91.67 96.92,90.14 97.23,88.68 97.53,87.26 97.89,85.90 98.25,84.66 98.62,83.48 99.04,82.29 99.52,81.07 100.01,79.92 100.49,78.82 100.97,77.79 101.46,76.71 101.94,75.69 102.42,74.67 102.97,73.54 103.51,72.45 104.05,71.36 104.60,70.30 105.14,69.26 105.69,68.26 106.23,67.27 106.83,66.23 107.44,65.23 108.04,64.27 108.65,63.37 109.31,62.42 109.98,61.53 110.64,60.70 111.37,59.83 112.09,59.03 112.88,58.21 113.66,57.44 114.51,56.68 115.35,55.97 116.20,55.32 117.11,54.67 118.07,54.04 119.04,53.47 120.07,52.92 121.10,52.43 122.18,51.96 123.33,51.53 124.48,51.16 125.69,50.82 126.96,50.52 128.23,50.27 129.55,50.06 130.94,49.89 132.33,49.78 133.78,49.70 135.30,49.67 136.81,49.69 138.26,49.74 139.71,49.84 141.10,49.96 142.49,50.10 143.88,50.28 145.21,50.47 146.53,50.69 147.86,50.93 149.13,51.17 150.40,51.43 151.67,51.71 152.94,52.01 154.15,52.31 155.36,52.62 156.57,52.95 157.77,53.29 158.98,53.64 160.19,54.01 161.34,54.37 162.49,54.75 163.64,55.14 164.78,55.53 165.93,55.95 167.08,56.37 168.17,56.78 169.26,57.21 170.34,57.64 171.43,58.09 172.52,58.54 173.61,59.01 174.69,59.49 175.78,59.98 176.87,60.48 177.90,60.96 178.92,61.45 179.95,61.96 180.98,62.46 182.01,62.98 183.03,63.51 184.06,64.04 185.09,64.58 186.11,65.14 187.52,65.90 188.51,66.45 189.50,67.00 190.50,67.56 191.49,68.13 192.48,68.71 193.47,69.29 194.46,69.87 195.46,70.46 196.45,71.06 197.44,71.66 198.43,72.27 199.42,72.89 200.41,73.50 201.41,74.13 202.40,74.76 203.39,75.39 204.38,76.03 205.37,76.67 206.37,77.32 207.36,77.97 208.35,78.62 209.34,79.28 210.33,79.94 211.33,80.61 212.32,81.28 213.31,81.96 214.30,82.63 215.29,83.31 216.29,84.00 217.28,84.68 218.27,85.38 219.26,86.07 220.25,86.76 221.25,87.46 222.24,88.16 223.23,88.87 224.22,89.58 225.21,90.28 226.21,91.00 227.20,91.71 228.19,92.42 229.18,93.14 230.17,93.86 231.16,94.59 232.16,95.31 233.15,96.04 234.14,96.76 235.13,97.50 236.12,98.23 237.12,98.96 238.11,99.70 239.10,100.44 240.09,101.18 241.08,101.92 242.08,102.67 243.07,103.41 244.06,104.16 245.05,104.91 246.04,105.66 247.04,106.41 248.03,107.17 249.02,107.93 250.01,108.68 251.00,109.44 252.00,110.21 252.99,110.97 253.98,111.73 254.97,112.50 255.96,113.27 256.95,114.04 257.95,114.81 258.94,115.58 259.93,116.36 260.92,117.13 261.91,117.91 262.91,118.69 263.90,119.47 264.89,120.25 265.88,121.04 266.87,121.82 267.87,122.61 268.86,123.40 269.85,124.18 270.84,124.97 271.83,125.77 272.83,126.56 273.82,127.35 274.81,128.15 275.80,128.95 276.79,129.75 277.79,130.55 278.78,131.35 279.77,132.15 280.76,132.95 281.75,133.76 282.75,134.56 283.74,135.37 284.73,136.18 285.72,136.99 286.71,137.80 287.70,138.61 288.70,139.43 289.69,140.24 290.68,141.06 291.67,141.88 292.66,142.69 293.66,143.51 294.65,144.33 295.64,145.16 296.63,145.98 297.62,146.80 298.62,147.63 299.61,148.46 300.60,149.28 301.59,150.11 302.58,150.94 303.58,151.77 304.57,152.61 305.56,153.44 306.55,154.27 307.54,155.11 308.54,155.94 309.53,156.78 310.52,157.62 311.51,158.46 312.50,159.30 313.49,160.14 314.49,160.99 315.48,161.83 316.47,162.67 317.46,163.52 318.45,164.37 319.45,165.21 320.44,166.06 321.43,166.91 322.42,167.76 323.41,168.61 324.41,169.46 325.40,170.32 326.39,171.17 327.38,172.03 328.37,172.88 329.37,173.74 330.36,174.60 331.35,175.46 332.34,176.32 333.33,177.18 334.33,178.04 335.32,178.90 336.31,179.76 337.30,180.62 338.29,181.49 339.29,182.35 340.28,183.22 341.27,184.09 342.26,184.96 343.25,185.82 344.24,186.69 345.24,187.56 346.23,188.43 347.22,189.31 348.21,190.18 349.20,191.05 350.20,191.93 351.19,192.80 352.18,193.68 353.17,194.55 354.16,195.43 355.16,196.31 356.15,197.19 357.14,198.07 358.13,198.95 359.12,199.83 360.12,200.71 361.11,201.59 362.10,202.47 363.09,203.36 364.08,204.24 365.08,205.13 366.07,206.01 367.06,206.90 368.05,207.79 369.04,208.67 370.04,209.56 371.03,210.45 372.02,211.34 373.01,212.23 374.00,213.12 374.99,214.02 375.99,214.91 376.98,215.80 377.97,216.70 378.96,217.59 379.95,218.48 380.95,219.38 381.94,220.28 382.93,221.17 383.92,222.07 384.91,222.97 385.91,223.87 386.90,224.77 387.89,225.67 388.88,226.57 389.87,227.47 390.87,228.37 391.86,229.28 392.85,230.18 393.84,231.08 394.83,231.99 395.83,232.89 396.82,233.80 397.81,234.70 398.80,235.61 399.79,236.52 400.78,237.43 401.78,238.33 402.77,239.24 403.76,240.15 404.75,241.06 405.74,241.97 406.74,242.88 407.73,243.80 408.72,244.71 409.71,245.62 410.70,246.54 411.70,247.45 412.69,248.36 413.68,249.28 414.67,250.20 415.66,251.11 416.66,252.03 417.65,252.95 418.64,253.86 419.63,254.78 420.62,255.70 421.62,256.62 422.61,257.54 423.60,258.46 424.59,259.38 425.58,260.30 426.58,261.22 427.57,262.14 428.56,263.07 429.55,263.99 430.54,264.91 431.53,265.84 432.53,266.76 433.52,267.69 434.51,268.61 435.50,269.54 436.49,270.46 437.49,271.39 438.48,272.32 439.47,273.24 440.46,274.17 441.45,275.10 442.45,276.03 443.44,276.95 444.43,277.88 445.42,278.81 446.41,279.74 447.41,280.67 448.40,281.60 449.39,282.53 450.38,283.46 451.37,284.40 452.37,285.33 453.36,286.26 454.35,287.19 455.34,288.12 456.33,289.06 457.32,289.99 458.32,290.92 459.31,291.86 460.30,292.79 461.29,293.73 462.28,294.66 463.28,295.59 464.27,296.53 465.26,297.46 466.25,298.40 467.24,299.34 468.24,300.27 469.23,301.21 470.22,302.14 471.21,303.08 472.20,304.02 473.20,304.96 474.19,305.89 475.18,306.83 476.17,307.77 477.16,308.71 478.16,309.64 479.15,310.58 480.14,311.52 481.13,312.46 482.12,313.40 483.12,314.34 484.11,315.28 485.10,316.22 486.09,317.16 487.08,318.10 488.07,319.03 489.07,319.97 490.06,320.91 491.05,321.85 492.04,322.80 493.03,323.74 494.03,324.68 495.02,325.62 496.01,326.56 497.00,327.50 497.99,328.44 498.99,329.38 499.98,330.32 500.97,331.26 501.96,332.20 502.95,333.15 503.95,334.09 504.94,335.03 505.93,335.97 506.92,336.91 507.91,337.85 508.91,338.79 509.90,339.74 510.89,340.68 511.88,341.62 512.87,342.56 513.86,343.50 514.86,344.45 515.85,345.39 516.84,346.33 517.83,347.27 518.82,348.21 519.82,349.16 520.81,350.10 521.80,351.04 522.79,351.98 523.78,352.92 524.78,353.86 525.77,354.81 526.76,355.75 527.75,356.69 528.74,357.63 529.74,358.57 530.73,359.51 531.72,360.46 532.71,361.40 533.70,362.34 534.70,363.28 535.69,364.22 536.68,365.16 537.67,366.10 538.66,367.05 539.66,367.99 540.65,368.93 541.64,369.87 542.63,370.81 543.62,371.75 544.61,372.69 545.61,373.63 546.60,374.57 547.59,375.51 548.58,376.45 549.57,377.39 550.57,378.34 551.56,379.28 552.55,380.22" fill="none" stroke="#30dc84" stroke-width="1.3" stroke-linejoin="round" clip-path="url(#cp1)"/>
<polyline points="290.18,141.45 291.18,142.27 292.17,143.08 293.16,143.90 294.15,144.72 295.14,145.55 296.14,146.37 297.13,147.19 298.12,148.02 299.11,148.84 300.10,149.67 301.10,150.50 302.09,151.33 303.08,152.16 304.07,152.99 305.06,153.82 306.06,154.66 307.05,155.49 308.04,156.33 309.03,157.16 310.02,158.00 311.02,158.84 312.01,159.68 313.00,160.52 313.99,161.36 314.98,162.21 315.97,163.05 316.97,163.90 317.96,164.74 318.95,165.59 319.94,166.44 320.93,167.29 321.93,168.14 322.92,168.99 323.91,169.84 324.90,170.69 325.89,171.54 326.89,172.40 327.88,173.25 328.87,174.11 329.86,174.97 330.85,175.83 331.85,176.69 332.84,177.55 333.83,178.41 334.82,179.27 335.81,180.13 336.81,180.99 337.80,181.86 338.79,182.72 339.78,183.59 340.77,184.45 341.76,185.32 342.76,186.19 343.75,187.06 344.74,187.93 345.73,188.80 346.72,189.67 347.72,190.54 348.71,191.42 349.70,192.29 350.69,193.16 351.68,194.04 352.68,194.92 353.67,195.79 354.66,196.67 355.65,197.55 356.64,198.43 357.64,199.31 358.63,200.19 359.62,201.07 360.61,201.95 361.60,202.83 362.60,203.72 363.59,204.60 364.58,205.48 365.57,206.37 366.56,207.26 367.56,208.14 368.55,209.03 369.54,209.92 370.53,210.81 371.52,211.70 372.51,212.59 373.51,213.48 374.50,214.37 375.49,215.26 376.48,216.15 377.47,217.05 378.47,217.94 379.46,218.84 380.45,219.73 381.44,220.63 382.43,221.53 383.43,222.42 384.42,223.32 385.41,224.22 386.40,225.12 387.39,226.02 388.39,226.92 389.38,227.82 390.37,228.72 391.36,229.62 392.35,230.53 393.35,231.43 394.34,232.33 395.33,233.24 396.32,234.14 397.31,235.05 398.31,235.96 399.30,236.86 400.29,237.77 401.28,238.68 402.27,239.59 403.26,240.50 404.26,241.41 405.25,242.32 406.24,243.23 407.23,244.14 408.22,245.05 409.22,245.97 410.21,246.88 411.20,247.79 412.19,248.71 413.18,249.62 414.18,250.54 415.17,251.45 416.16,252.37 417.15,253.29 418.14,254.20 419.14,255.12 420.13,256.04 421.12,256.96 422.11,257.88 423.10,258.80 424.10,259.72 425.09,260.64 426.08,261.56 427.07,262.48 428.06,263.41 429.05,264.33 430.05,265.25 431.04,266.18 432.03,267.10 433.02,268.02 434.01,268.95 435.01,269.87 436.00,270.80 436.99,271.73 437.98,272.65 438.97,273.58 439.97,274.51 440.96,275.43 441.95,276.36 442.94,277.29 443.93,278.22 444.93,279.15 445.92,280.08 446.91,281.01 447.90,281.94 448.89,282.87 449.89,283.80 450.88,284.73 451.87,285.66 452.86,286.59 453.85,287.53 454.85,288.46 455.84,289.39 456.83,290.32 457.82,291.26 458.81,292.19 459.80,293.12 460.80,294.06 461.79,294.99 462.78,295.93 463.77,296.86 464.76,297.80 465.76,298.73 466.75,299.67 467.74,300.60 468.73,301.54 469.72,302.48 470.72,303.41 471.71,304.35 472.70,305.29 473.69,306.22 474.68,307.16 475.68,308.10 476.67,309.04 477.66,309.98 478.65,310.91 479.64,311.85 480.64,312.79 481.63,313.73 482.62,314.67 483.61,315.61 484.60,316.55 485.59,317.49 486.59,318.43 487.58,319.36 488.57,320.30 489.56,321.24 490.55,322.18 491.55,323.13 492.54,324.07 493.53,325.01 494.52,325.95 495.51,326.89 496.51,327.83 497.50,328.77 498.49,329.71 499.48,330.65 500.47,331.59 501.47,332.53 502.46,333.47 503.45,334.42 504.44,335.36 505.43,336.30 506.43,337.24 507.42,338.18 508.41,339.12 509.40,340.07 510.39,341.01 511.39,341.95 512.38,342.89 513.37,343.83 514.36,344.77 515.35,345.72 516.34,346.66 517.34,347.60 518.33,348.54 519.32,349.48 520.31,350.43 521.30,351.37 522.30,352.31 523.29,353.25 524.28,354.19 525.27,355.14 526.26,356.08 527.26,357.02 528.25,357.96 529.24,358.90 530.23,359.84 531.22,360.79 532.22,361.73 533.21,362.67 534.20,363.61 535.19,364.55 536.18,365.49 537.18,366.43 538.17,367.38 539.16,368.32 540.15,369.26 541.14,370.20 542.13,371.14 543.13,372.08 544.12,373.02 545.11,373.96 546.10,374.90 547.09,375.84 548.09,376.78 549.08,377.72 550.07,378.66 551.06,379.61 552.05,380.55 552.55,381.02" fill="none" stroke="#30dc84" stroke-width="1.5" stroke-dasharray="0.01 5.2" stroke-linecap="round" clip-path="url(#cp1)"/>
<polyline points="87.80,400.00 89.04,86.92 89.22,85.05 89.41,83.64 89.65,82.29 89.96,80.62 90.20,79.11 90.51,77.62 90.87,76.27 91.24,74.94 91.61,73.65 92.04,72.47 92.53,71.31 93.08,70.24 93.69,69.33 94.42,68.49 95.28,67.81 96.38,67.37 97.91,67.39 99.08,67.79 100.06,68.38 100.91,69.08 101.71,69.88 102.44,70.75 103.12,71.68 103.73,72.63 104.28,73.58 104.83,74.64 105.32,75.67 105.81,76.80 106.24,77.88 106.66,79.04 107.09,80.30 107.46,81.47 107.83,82.73 108.19,84.08 108.50,85.29 108.81,86.58 109.11,87.95 109.42,89.43 109.66,90.70 109.91,92.04 110.15,93.46 110.40,94.99 110.64,96.62 110.89,98.38 111.07,99.79 111.25,101.28 111.44,102.88 111.62,104.58 111.81,106.41 111.99,108.39 112.11,109.81 112.23,111.30 112.36,112.89 112.48,114.58 112.60,116.40 112.72,118.35 112.85,120.46 112.97,122.76 113.09,125.29 113.21,128.08 113.27,129.60 113.34,131.21 113.40,132.93 113.46,134.77 113.52,136.74 113.58,138.88 113.64,141.20 113.70,143.75 113.76,146.58 113.83,149.73 113.89,153.32 113.95,157.48 114.01,162.40 114.07,168.46 114.13,176.32 114.19,187.53 114.25,202.70 114.44,185.01 114.50,174.62 114.56,167.16 114.62,161.34 114.68,156.57 114.74,152.52 114.80,149.01 114.87,145.91 114.93,143.13 114.99,140.61 115.05,138.31 115.11,136.19 115.17,134.23 115.23,132.40 115.29,130.69 115.36,129.09 115.42,127.58 115.54,124.78 115.66,122.26 115.78,119.95 115.91,117.83 116.03,115.86 116.15,114.03 116.27,112.32 116.40,110.72 116.52,109.20 116.64,107.77 116.82,105.76 117.01,103.90 117.19,102.16 117.38,100.53 117.56,99.00 117.74,97.55 117.93,96.19 118.17,94.48 118.42,92.87 118.66,91.37 118.91,89.95 119.15,88.61 119.39,87.34 119.70,85.85 120.01,84.44 120.31,83.12 120.62,81.87 120.99,80.46 121.35,79.13 121.72,77.88 122.09,76.70 122.52,75.41 122.94,74.20 123.37,73.06 123.80,71.98 124.29,70.82 124.78,69.74 125.27,68.71 125.82,67.63 126.37,66.62 126.92,65.67 127.53,64.68 128.15,63.76 128.82,62.80 129.49,61.91 130.17,61.08 130.90,60.23 131.64,59.43 132.43,58.63 133.23,57.88 134.08,57.14 134.94,56.45 135.86,55.76 136.78,55.13 137.76,54.52 138.73,53.95 139.77,53.41 140.82,52.92 141.92,52.45 143.02,52.04 144.18,51.65 145.41,51.31 146.63,51.01 147.91,50.76 149.26,50.55 150.67,50.39 152.08,50.29 153.55,50.24 155.08,50.25 156.54,50.30 157.95,50.40 159.36,50.53 160.71,50.70 162.05,50.90 163.34,51.12 164.62,51.36 165.91,51.63 167.13,51.91 168.36,52.22 169.58,52.54 170.80,52.88 171.97,53.22 173.13,53.58 174.29,53.95 175.46,54.34 176.62,54.74 177.78,55.16 178.88,55.57 179.98,55.98 181.09,56.41 182.19,56.85 183.29,57.30 184.39,57.76 185.49,58.23 186.59,58.71 188.02,59.34 189.50,60.01 190.99,60.70 192.48,61.41 193.97,62.13 195.46,62.86 196.94,63.61 198.43,64.37 199.42,64.88 200.41,65.40 201.41,65.92 202.40,66.45 203.39,66.98 204.38,67.52 205.37,68.06 206.37,68.61 207.36,69.16 208.35,69.72 209.34,70.28 210.33,70.84 211.33,71.41 212.32,71.98 213.31,72.56 214.30,73.14 215.29,73.72 216.29,74.30 217.28,74.89 218.27,75.49 219.26,76.08 220.25,76.68 221.25,77.29 222.24,77.89 223.23,78.50 224.22,79.11 225.21,79.72 226.21,80.34 227.20,80.96 228.19,81.58 229.18,82.21 230.17,82.83 231.16,83.46 232.16,84.10 233.15,84.73 234.14,85.37 235.13,86.01 236.12,86.65 237.12,87.29 238.11,87.94 239.10,88.59 240.09,89.24 241.08,89.89 242.08,90.55 243.07,91.20 244.06,91.86 245.05,92.53 246.04,93.19 247.04,93.86 248.03,94.52 249.02,95.19 250.01,95.87 251.00,96.54 252.00,97.22 252.99,97.89 253.98,98.57 254.97,99.26 255.96,99.94 256.95,100.63 257.95,101.31 258.94,102.00 259.93,102.70 260.92,103.39 261.91,104.08 262.91,104.78 263.90,105.48 264.89,106.18 265.88,106.88 266.87,107.59 267.87,108.29 268.86,109.00 269.85,109.71 270.84,110.42 271.83,111.14 272.83,111.85 273.82,112.57 274.81,113.29 275.80,114.01 276.79,114.73 277.79,115.45 278.78,116.18 279.77,116.90 280.76,117.63 281.75,118.36 282.75,119.10 283.74,119.83 284.73,120.56 285.72,121.30 286.71,122.04 287.70,122.78 288.70,123.52 289.69,124.27 290.68,125.01 291.67,125.76 292.66,126.51 293.66,127.26 294.65,128.01 295.64,128.77 296.63,129.52 297.62,130.28 298.62,131.04 299.61,131.80 300.60,132.56 301.59,133.33 302.58,134.09 303.58,134.86 304.57,135.63 305.56,136.40 306.55,137.17 307.54,137.95 308.54,138.72 309.53,139.50 310.52,140.28 311.51,141.06 312.50,141.84 313.49,142.62 314.49,143.41 315.48,144.19 316.47,144.98 317.46,145.77 318.45,146.56 319.45,147.35 320.44,148.14 321.43,148.94 322.42,149.73 323.41,150.53 324.41,151.33 325.40,152.13 326.39,152.93 327.38,153.73 328.37,154.53 329.37,155.34 330.36,156.14 331.35,156.95 332.34,157.76 333.33,158.57 334.33,159.38 335.32,160.19 336.31,161.01 337.30,161.82 338.29,162.64 339.29,163.46 340.28,164.27 341.27,165.09 342.26,165.91 343.25,166.74 344.24,167.56 345.24,168.38 346.23,169.21 347.22,170.03 348.21,170.86 349.20,171.69 350.20,172.52 351.19,173.35 352.18,174.18 353.17,175.01 354.16,175.85 355.16,176.68 356.15,177.52 357.14,178.36 358.13,179.19 359.12,180.03 360.12,180.87 361.11,181.71 362.10,182.56 363.09,183.40 364.08,184.24 365.08,185.09 366.07,185.93 367.06,186.78 368.05,187.63 369.04,188.47 370.04,189.32 371.03,190.17 372.02,191.02 373.01,191.88 374.00,192.73 374.99,193.58 375.99,194.44 376.98,195.29 377.97,196.15 378.96,197.01 379.95,197.86 380.95,198.72 381.94,199.58 382.93,200.44 383.92,201.31 384.91,202.17 385.91,203.03 386.90,203.89 387.89,204.76 388.88,205.62 389.87,206.49 390.87,207.36 391.86,208.22 392.85,209.09 393.84,209.96 394.83,210.83 395.83,211.70 396.82,212.57 397.81,213.45 398.80,214.32 399.79,215.19 400.78,216.07 401.78,216.94 402.77,217.82 403.76,218.69 404.75,219.57 405.74,220.45 406.74,221.32 407.73,222.20 408.72,223.08 409.71,223.96 410.70,224.84 411.70,225.73 412.69,226.61 413.68,227.49 414.67,228.37 415.66,229.26 416.66,230.14 417.65,231.03 418.64,231.91 419.63,232.80 420.62,233.69 421.62,234.57 422.61,235.46 423.60,236.35 424.59,237.24 425.58,238.13 426.58,239.02 427.57,239.91 428.56,240.80 429.55,241.69 430.54,242.59 431.53,243.48 432.53,244.37 433.52,245.27 434.51,246.16 435.50,247.06 436.49,247.95 437.49,248.85 438.48,249.75 439.47,250.64 440.46,251.54 441.45,252.44 442.45,253.34 443.44,254.24 444.43,255.14 445.42,256.04 446.41,256.94 447.41,257.84 448.40,258.74 449.39,259.64 450.38,260.54 451.37,261.45 452.37,262.35 453.36,263.25 454.35,264.16 455.34,265.06 456.33,265.97 457.32,266.87 458.32,267.78 459.31,268.68 460.30,269.59 461.29,270.50 462.28,271.41 463.28,272.31 464.27,273.22 465.26,274.13 466.25,275.04 467.24,275.95 468.24,276.86 469.23,277.77 470.22,278.68 471.21,279.59 472.20,280.50 473.20,281.41 474.19,282.32 475.18,283.23 476.17,284.15 477.16,285.06 478.16,285.97 479.15,286.88 480.14,287.80 481.13,288.71 482.12,289.63 483.12,290.54 484.11,291.46 485.10,292.37 486.09,293.29 487.08,294.20 488.07,295.12 489.07,296.03 490.06,296.95 491.05,297.87 492.04,298.78 493.03,299.70 494.03,300.62 495.02,301.54 496.01,302.45 497.00,303.37 497.99,304.29 498.99,305.21 499.98,306.13 500.97,307.05 501.96,307.97 502.95,308.89 503.95,309.81 504.94,310.73 505.93,311.65 506.92,312.57 507.91,313.49 508.91,314.41 509.90,315.33 510.89,316.25 511.88,317.17 512.87,318.10 513.86,319.02 514.86,319.94 515.85,320.86 516.84,321.79 517.83,322.71 518.82,323.63 519.82,324.55 520.81,325.48 521.80,326.40 522.79,327.32 523.78,328.25 524.78,329.17 525.77,330.10 526.76,331.02 527.75,331.94 528.74,332.87 529.74,333.79 530.73,334.72 531.72,335.64 532.71,336.57 533.70,337.49 534.70,338.42 535.69,339.34 536.68,340.27 537.67,341.19 538.66,342.12 539.66,343.04 540.65,343.97 541.64,344.89 542.63,345.82 543.62,346.75 544.61,347.67 545.61,348.60 546.60,349.52 547.59,350.45 548.58,351.38 549.57,352.30 550.57,353.23 551.56,354.16 552.55,355.08 553.54,356.01 554.53,356.93 555.53,357.86 556.52,358.79 557.51,359.71 558.50,360.64 559.49,361.57 560.49,362.50 561.48,363.42 562.47,364.35 563.46,365.28 564.45,366.20 565.45,367.13 566.44,368.06 567.43,368.98 568.42,369.91 569.41,370.84 570.40,371.76 571.40,372.69 572.39,373.62 573.38,374.54 574.37,375.47 575.36,376.40 576.36,377.33 577.35,378.25 578.34,379.18 579.33,380.11" fill="none" stroke="#cc2030" stroke-width="1.3" stroke-linejoin="round" clip-path="url(#cp1)"/>
<polyline points="87.80,400.00 89.04,96.37 89.16,94.01 89.28,91.86 89.41,89.90 89.53,88.09 89.65,86.41 89.77,84.86 89.90,83.40 90.08,81.39 90.26,80.07 90.51,78.62 90.81,77.11 91.12,75.89 91.49,74.60 91.92,73.31 92.40,72.20 92.89,71.19 93.51,70.26 94.18,69.42 95.04,68.69 96.08,68.18 97.42,68.02 98.65,68.32 99.63,68.87 100.48,69.57 101.22,70.34 101.89,71.22 102.50,72.16 103.05,73.14 103.60,74.26 104.09,75.38 104.52,76.47 104.95,77.68 105.38,79.00 105.75,80.26 106.11,81.63 106.42,82.85 106.73,84.18 107.03,85.63 107.34,87.18 107.58,88.52 107.83,89.95 108.07,91.49 108.32,93.15 108.50,94.48 108.68,95.88 108.87,97.37 109.05,98.97 109.24,100.68 109.42,102.52 109.60,104.50 109.72,105.91 109.85,107.40 109.97,108.98 110.09,110.66 110.21,112.47 110.34,114.41 110.46,116.51 110.58,118.79 110.70,121.27 110.83,124.02 110.89,125.50 110.95,127.08 111.01,128.75 111.07,130.54 111.13,132.45 111.19,134.51 111.25,136.74 111.32,139.18 111.38,141.87 111.44,144.85 111.50,148.21 111.56,152.06 111.62,156.55 111.68,161.95 111.74,168.74 111.81,177.85 111.87,190.00 112.11,176.84 112.17,168.05 112.23,161.46 112.30,156.19 112.36,151.79 112.42,148.03 112.48,144.74 112.54,141.81 112.60,139.18 112.66,136.79 112.72,134.59 112.78,132.57 112.85,130.70 112.91,128.95 112.97,127.31 113.03,125.76 113.09,124.31 113.21,121.62 113.34,119.19 113.46,116.97 113.58,114.92 113.70,113.03 113.83,111.28 113.95,109.63 114.07,108.09 114.19,106.64 114.38,104.62 114.56,102.74 114.74,101.00 114.93,99.38 115.11,97.87 115.29,96.44 115.48,95.10 115.72,93.43 115.97,91.86 116.21,90.40 116.46,89.03 116.70,87.74 117.01,86.23 117.31,84.82 117.62,83.49 117.93,82.25 118.29,80.85 118.66,79.54 119.03,78.31 119.39,77.15 119.82,75.88 120.25,74.69 120.68,73.58 121.17,72.39 121.66,71.27 122.15,70.22 122.70,69.11 123.25,68.08 123.80,67.11 124.41,66.10 125.03,65.16 125.70,64.19 126.37,63.29 127.04,62.45 127.78,61.59 128.51,60.79 129.31,59.99 130.10,59.24 130.96,58.50 131.82,57.81 132.74,57.13 133.65,56.50 134.63,55.89 135.61,55.33 136.65,54.79 137.69,54.30 138.80,53.83 139.90,53.42 141.06,53.03 142.22,52.69 143.45,52.38 144.73,52.11 146.02,51.89 147.36,51.72 148.77,51.59 150.24,51.51 151.77,51.49 153.30,51.52 154.77,51.60 156.18,51.71 157.58,51.87 158.93,52.05 160.28,52.26 161.56,52.49 162.85,52.75 164.13,53.03 165.36,53.32 166.58,53.63 167.81,53.96 169.03,54.30 170.19,54.65 171.35,55.01 172.52,55.39 173.68,55.78 174.84,56.19 176.01,56.61 177.11,57.02 178.21,57.44 179.31,57.87 180.41,58.32 181.51,58.77 182.62,59.24 183.72,59.71 184.82,60.19 185.86,60.66 186.90,61.13 188.02,61.64 189.50,62.35 190.99,63.06 192.48,63.79 193.97,64.53 195.46,65.29 196.45,65.80 197.44,66.32 198.43,66.84 199.42,67.37 200.41,67.90 201.41,68.44 202.40,68.98 203.39,69.53 204.38,70.09 205.37,70.64 206.37,71.20 207.36,71.77 208.35,72.34 209.34,72.92 210.33,73.49 211.33,74.08 212.32,74.66 213.31,75.25 214.30,75.85 215.29,76.45 216.29,77.05 217.28,77.65 218.27,78.26 219.26,78.87 220.25,79.49 221.25,80.11 222.24,80.73 223.23,81.35 224.22,81.98 225.21,82.61 226.21,83.25 227.20,83.88 228.19,84.52 229.18,85.16 230.17,85.81 231.16,86.46 232.16,87.11 233.15,87.76 234.14,88.42 235.13,89.07 236.12,89.74 237.12,90.40 238.11,91.06 239.10,91.73 240.09,92.40 241.08,93.08 242.08,93.75 243.07,94.43 244.06,95.11 245.05,95.79 246.04,96.48 247.04,97.17 248.03,97.86 249.02,98.55 250.01,99.24 251.00,99.94 252.00,100.64 252.99,101.34 253.98,102.04 254.97,102.74 255.96,103.45 256.95,104.16 257.95,104.87 258.94,105.59 259.93,106.30 260.92,107.02 261.91,107.74 262.91,108.46 263.90,109.18 264.89,109.91 265.88,110.64 266.87,111.36 267.87,112.10 268.86,112.83 269.85,113.57 270.84,114.30 271.83,115.04 272.83,115.78 273.82,116.53 274.81,117.27 275.80,118.02 276.79,118.77 277.79,119.52 278.78,120.27 279.77,121.03 280.76,121.78 281.75,122.54 282.75,123.30 283.74,124.06 284.73,124.83 285.72,125.59 286.71,126.36 287.70,127.13 288.70,127.90 289.69,128.67 290.68,129.45 291.67,130.23 292.66,131.01 293.66,131.79 294.65,132.57 295.64,133.35 296.63,134.14 297.62,134.93 298.62,135.72 299.61,136.51 300.60,137.30 301.59,138.10 302.58,138.90 303.58,139.69 304.57,140.49 305.56,141.30 306.55,142.10 307.54,142.91 308.54,143.71 309.53,144.52 310.52,145.33 311.51,146.15 312.50,146.96 313.49,147.78 314.49,148.59 315.48,149.41 316.47,150.23 317.46,151.05 318.45,151.88 319.45,152.70 320.44,153.53 321.43,154.35 322.42,155.18 323.41,156.01 324.41,156.84 325.40,157.68 326.39,158.51 327.38,159.35 328.37,160.18 329.37,161.02 330.36,161.86 331.35,162.70 332.34,163.54 333.33,164.39 334.33,165.23 335.32,166.08 336.31,166.92 337.30,167.77 338.29,168.62 339.29,169.47 340.28,170.32 341.27,171.17 342.26,172.03 343.25,172.88 344.24,173.74 345.24,174.59 346.23,175.45 347.22,176.31 348.21,177.17 349.20,178.03 350.20,178.89 351.19,179.76 352.18,180.62 353.17,181.48 354.16,182.35 355.16,183.22 356.15,184.08 357.14,184.95 358.13,185.82 359.12,186.69 360.12,187.56 361.11,188.43 362.10,189.30 363.09,190.18 364.08,191.05 365.08,191.93 366.07,192.80 367.06,193.68 368.05,194.55 369.04,195.43 370.04,196.31 371.03,197.19 372.02,198.07 373.01,198.95 374.00,199.83 374.99,200.71 375.99,201.59 376.98,202.48 377.97,203.36 378.96,204.24 379.95,205.13 380.95,206.01 381.94,206.90 382.93,207.79 383.92,208.67 384.91,209.56 385.91,210.45 386.90,211.34 387.89,212.22 388.88,213.11 389.87,214.00 390.87,214.89 391.86,215.78 392.85,216.68 393.84,217.57 394.83,218.46 395.83,219.35 396.82,220.24 397.81,221.14 398.80,222.03 399.79,222.92 400.78,223.82 401.78,224.71 402.77,225.61 403.76,226.50 404.75,227.40 405.74,228.29 406.74,229.19 407.73,230.08 408.72,230.98 409.71,231.88 410.70,232.77 411.70,233.67 412.69,234.57 413.68,235.47 414.67,236.36 415.66,237.26 416.66,238.16 417.65,239.06 418.64,239.96 419.63,240.86 420.62,241.76 421.62,242.66 422.61,243.56 423.60,244.46 424.59,245.36 425.58,246.26 426.58,247.16 427.57,248.06 428.56,248.96 429.55,249.86 430.54,250.77 431.53,251.67 432.53,252.57 433.52,253.48 434.51,254.38 435.50,255.29 436.49,256.19 437.49,257.10 438.48,258.00 439.47,258.91 440.46,259.81 441.45,260.72 442.45,261.63 443.44,262.54 444.43,263.45 445.42,264.35 446.41,265.26 447.41,266.17 448.40,267.08 449.39,268.00 450.38,268.91 451.37,269.82 452.37,270.73 453.36,271.64 454.35,272.56 455.34,273.47 456.33,274.39 457.32,275.30 458.32,276.22 459.31,277.13 460.30,278.05 461.29,278.97 462.28,279.89 463.28,280.81 464.27,281.73 465.26,282.65 466.25,283.57 467.24,284.49 468.24,285.41 469.23,286.33 470.22,287.26 471.21,288.18 472.20,289.10 473.20,290.03 474.19,290.96 475.18,291.88 476.17,292.81 477.16,293.74 478.16,294.67 479.15,295.60 480.14,296.53 481.13,297.46 482.12,298.39 483.12,299.33 484.11,300.26 485.10,301.19 486.09,302.13 487.08,303.07 488.07,304.00 489.07,304.94 490.06,305.88 491.05,306.82 492.04,307.76 493.03,308.70 494.03,309.64 495.02,310.59 496.01,311.53 497.00,312.47 497.99,313.42 498.99,314.37 499.98,315.31 500.97,316.26 501.96,317.21 502.95,318.16 503.95,319.11 504.94,320.07 505.93,321.02 506.92,321.97 507.91,322.93 508.91,323.89 509.90,324.84 510.89,325.80 511.88,326.76 512.87,327.72 513.86,328.68 514.86,329.65 515.85,330.61 516.84,331.58 517.83,332.54 518.82,333.51 519.82,334.48 520.81,335.45 521.80,336.42 522.79,337.39 523.78,338.36 524.78,339.33 525.77,340.31 526.76,341.28 527.75,342.26 528.74,343.24 529.74,344.22 530.73,345.20 531.72,346.18 532.71,347.17 533.70,348.15 534.70,349.14 535.69,350.12 536.68,351.11 537.67,352.10 538.66,353.09 539.66,354.08 540.65,355.08 541.64,356.07 542.63,357.07 543.62,358.07 544.61,359.06 545.61,360.06 546.60,361.06 547.59,362.07 548.58,363.07 549.57,364.08 550.57,365.08 551.56,366.09 552.55,367.10 553.54,368.11 554.53,369.13 555.53,370.14 556.52,371.15 557.51,372.17 558.50,373.19 559.49,374.21 560.49,375.23 561.48,376.25 562.47,377.27 563.46,378.29 564.45,379.31 565.45,380.34" fill="none" stroke="#cc2030" stroke-width="1.5" stroke-dasharray="0.01 5.2" stroke-linecap="round" clip-path="url(#cp1)"/>
<polyline points="87.80,400.00 88.05,117.65 88.11,111.72 88.17,106.88 88.23,102.79 88.30,99.24 88.36,96.11 88.42,93.31 88.48,90.77 88.54,88.46 88.60,86.33 88.67,84.36 88.73,82.53 88.79,80.81 88.85,79.20 88.91,77.68 89.04,74.88 89.16,72.34 89.28,70.03 89.41,67.90 89.53,65.98 89.66,64.35 89.78,62.84 89.90,61.44 90.09,59.51 90.27,57.77 90.46,56.17 90.64,54.72 90.83,53.40 91.08,51.79 91.32,50.37 91.57,49.09 91.88,47.68 92.19,46.45 92.56,45.18 92.99,43.93 93.49,42.75 94.04,41.69 94.66,40.76 95.40,39.88 96.21,39.12 97.07,38.48 98.06,37.92 99.18,37.48 100.41,37.19 101.83,37.10 103.26,37.24 104.49,37.54 105.60,37.94 106.66,38.43 107.65,39.00 108.57,39.63 109.44,40.30 110.30,41.02 111.11,41.75 111.91,42.52 112.71,43.33 113.46,44.10 114.20,44.90 114.94,45.72 115.68,46.55 116.42,47.40 117.17,48.25 117.91,49.11 118.65,49.97 119.39,50.84 120.13,51.71 120.87,52.58 121.62,53.46 122.36,54.35 123.04,55.18 123.72,56.01 124.40,56.85 125.08,57.70 125.76,58.56 126.44,59.44 127.12,60.32 127.80,61.22 128.48,62.14 129.16,63.07 129.84,64.02 130.52,64.98 131.14,65.88 131.76,66.78 132.37,67.70 132.99,68.63 133.61,69.57 134.23,70.52 134.85,71.49 135.46,72.45 136.08,73.43 136.70,74.42 137.32,75.41 137.94,76.40 138.56,77.41 139.17,78.41 139.79,79.42 140.41,80.43 141.03,81.45 141.65,82.46 142.27,83.48 142.88,84.50 143.50,85.51 144.12,86.53 144.74,87.54 145.36,88.55 145.97,89.55 146.59,90.55 147.21,91.55 147.83,92.54 148.45,93.53 149.07,94.51 149.68,95.48 150.30,96.45 150.92,97.42 151.54,98.38 152.16,99.34 152.77,100.29 153.39,101.25 154.01,102.19 154.63,103.14 155.25,104.08 155.87,105.02 156.48,105.96 157.10,106.90 157.72,107.84 158.34,108.78 158.96,109.71 159.57,110.65 160.19,111.58 160.81,112.52 161.43,113.45 162.05,114.39 162.67,115.33 163.28,116.27 163.90,117.21 164.52,118.15 165.14,119.10 165.76,120.05 166.38,121.00 166.99,121.96 167.61,122.92 168.23,123.88 168.85,124.84 169.47,125.82 170.08,126.79 170.70,127.77 171.32,128.76 171.94,129.75 172.56,130.75 173.18,131.76 173.79,132.77 174.41,133.79 175.03,134.82 175.65,135.85 176.27,136.89 176.88,137.94 177.44,138.89 178.00,139.84 178.55,140.80 179.11,141.77 179.67,142.74 180.22,143.72 180.78,144.70 181.34,145.68 181.89,146.67 182.45,147.67 183.01,148.67 183.56,149.67 184.12,150.68 184.67,151.69 185.23,152.71 185.79,153.73 186.34,154.75 186.90,155.78 187.52,156.93 188.51,158.78 189.50,160.64 190.50,162.51 191.49,164.39 192.48,166.28 193.47,168.18 194.46,170.09 195.46,172.01 196.45,173.93 197.44,175.86 198.43,177.80 199.42,179.74 200.41,181.68 201.41,183.64 202.40,185.59 203.39,187.55 204.38,189.51 205.37,191.47 206.37,193.44 207.36,195.40 208.35,197.37 209.34,199.34 210.33,201.31 211.33,203.27 212.32,205.24 213.31,207.20 214.30,209.16 215.29,211.12 216.29,213.07 217.28,215.02 218.27,216.97 219.26,218.91 220.25,220.84 221.25,222.77 222.24,224.69 223.23,226.60 224.22,228.51 225.21,230.41 226.21,232.30 227.20,234.18 228.19,236.06 229.18,237.93 230.17,239.79 231.16,241.64 232.16,243.49 233.15,245.34 234.14,247.18 235.13,249.01 236.12,250.84 237.12,252.66 238.11,254.48 239.10,256.30 240.09,258.11 241.08,259.92 242.08,261.72 243.07,263.52 244.06,265.32 245.05,267.12 246.04,268.92 247.04,270.71 248.03,272.50 249.02,274.30 250.01,276.09 251.00,277.88 252.00,279.67 252.99,281.46 253.98,283.25 254.97,285.04 255.96,286.84 256.95,288.63 257.95,290.43 258.94,292.23 259.93,294.03 260.92,295.84 261.91,297.64 262.91,299.45 263.90,301.27 264.89,303.08 265.88,304.91 266.87,306.73 267.87,308.56 268.86,310.40 269.85,312.24 270.84,314.09 271.83,315.95 272.83,317.81 273.82,319.67 274.81,321.55 275.80,323.43 276.79,325.32 277.79,327.21 278.78,329.12 279.77,331.03 280.76,332.95 281.75,334.88 282.75,336.83 283.74,338.78 284.73,340.74 285.72,342.71 286.71,344.69 287.70,346.68 288.70,348.69 289.19,349.69 289.69,350.70 290.18,351.71 290.68,352.73 291.18,353.75 291.67,354.77 292.17,355.79 292.66,356.82 293.16,357.85 293.66,358.89 294.15,359.92 294.65,360.96 295.14,362.01 295.64,363.06 296.14,364.11 296.63,365.16 297.13,366.22 297.62,367.28 298.12,368.35 298.62,369.41 299.11,370.49 299.61,371.56 300.10,372.64 300.60,373.73 301.10,374.81 301.59,375.90 302.09,376.99 302.58,378.07 303.08,379.16 303.58,380.25" fill="none" stroke="#000000" stroke-width="1.3" stroke-linejoin="round" clip-path="url(#cp1)"/>
<polyline points="87.80,400.00 88.05,119.08 88.11,113.15 88.17,108.31 88.23,104.21 88.30,100.66 88.36,97.53 88.42,94.73 88.48,92.20 88.54,89.89 88.60,87.76 88.67,85.79 88.73,83.95 88.79,82.24 88.85,80.62 88.91,79.10 89.04,76.30 89.16,73.77 89.28,71.46 89.41,69.33 89.53,67.36 89.66,65.52 89.78,63.80 89.90,62.19 90.03,60.72 90.21,58.93 90.40,57.30 90.58,55.81 90.77,54.44 91.02,52.78 91.26,51.29 91.51,49.94 91.82,48.43 92.13,47.08 92.44,45.87 92.81,44.60 93.24,43.30 93.67,42.19 94.17,41.12 94.72,40.11 95.34,39.22 96.08,38.40 96.95,37.74 98.00,37.28 99.36,37.09 100.72,37.26 101.90,37.60 103.01,38.07 104.00,38.58 104.99,39.17 105.91,39.79 106.84,40.46 107.71,41.13 108.57,41.84 109.44,42.59 110.24,43.32 111.05,44.07 111.85,44.85 112.65,45.65 113.39,46.41 114.14,47.19 114.88,47.98 115.62,48.80 116.36,49.63 117.10,50.49 117.85,51.35 118.59,52.24 119.27,53.06 119.95,53.90 120.63,54.75 121.31,55.62 121.99,56.50 122.67,57.39 123.35,58.29 124.03,59.21 124.71,60.14 125.39,61.08 126.07,62.04 126.75,63.00 127.37,63.89 127.98,64.79 128.60,65.71 129.22,66.63 129.84,67.56 130.46,68.50 131.08,69.46 131.69,70.42 132.31,71.39 132.93,72.38 133.55,73.37 134.17,74.37 134.78,75.37 135.40,76.39 136.02,77.41 136.64,78.43 137.26,79.47 137.88,80.50 138.49,81.55 139.11,82.59 139.67,83.54 140.22,84.49 140.78,85.44 141.34,86.40 141.89,87.36 142.45,88.32 143.01,89.28 143.56,90.24 144.12,91.21 144.68,92.17 145.23,93.14 145.79,94.10 146.35,95.07 146.90,96.03 147.46,97.00 148.01,97.96 148.57,98.93 149.13,99.89 149.68,100.86 150.24,101.82 150.80,102.78 151.35,103.74 151.91,104.71 152.47,105.67 153.02,106.63 153.58,107.59 154.13,108.55 154.69,109.52 155.25,110.48 155.80,111.44 156.36,112.40 156.92,113.37 157.47,114.33 158.03,115.29 158.59,116.26 159.14,117.22 159.70,118.19 160.26,119.15 160.81,120.12 161.37,121.09 161.92,122.06 162.48,123.03 163.04,124.00 163.59,124.97 164.15,125.95 164.71,126.92 165.26,127.90 165.82,128.88 166.38,129.86 166.93,130.84 167.49,131.82 168.04,132.80 168.60,133.79 169.16,134.78 169.71,135.77 170.27,136.76 170.83,137.76 171.38,138.75 171.94,139.75 172.50,140.75 173.05,141.76 173.61,142.77 174.16,143.77 174.72,144.79 175.28,145.80 175.83,146.82 176.39,147.84 176.95,148.86 177.50,149.89 178.06,150.92 178.62,151.95 179.17,152.98 179.73,154.01 180.29,155.05 180.84,156.09 181.40,157.13 181.95,158.18 182.51,159.23 183.07,160.28 183.62,161.33 184.18,162.38 184.74,163.43 185.29,164.49 185.85,165.55 186.41,166.61 187.02,167.79 188.02,169.69 189.01,171.60 190.00,173.51 190.99,175.42 191.98,177.34 192.98,179.27 193.97,181.20 194.96,183.13 195.95,185.07 196.94,187.01 197.94,188.95 198.93,190.90 199.92,192.85 200.91,194.80 201.90,196.76 202.89,198.72 203.89,200.68 204.88,202.64 205.87,204.61 206.86,206.57 207.85,208.54 208.85,210.51 209.84,212.48 210.83,214.45 211.82,216.42 212.81,218.39 213.81,220.36 214.80,222.33 215.79,224.30 216.78,226.27 217.77,228.24 218.77,230.21 219.76,232.17 220.75,234.14 221.74,236.10 222.73,238.07 223.73,240.03 224.72,241.99 225.71,243.94 226.70,245.90 227.69,247.85 228.68,249.80 229.68,251.75 230.67,253.70 231.66,255.64 232.65,257.59 233.64,259.53 234.64,261.47 235.63,263.41 236.62,265.36 237.61,267.30 238.60,269.24 239.60,271.18 240.59,273.12 241.58,275.06 242.57,277.00 243.56,278.94 244.56,280.88 245.55,282.82 246.54,284.76 247.53,286.70 248.52,288.65 249.52,290.59 250.51,292.54 251.50,294.49 252.49,296.43 253.48,298.38 254.48,300.34 255.47,302.29 256.46,304.25 257.45,306.20 258.44,308.17 259.43,310.13 260.43,312.09 261.42,314.06 262.41,316.03 263.40,318.01 264.39,319.99 265.39,321.97 266.38,323.95 267.37,325.94 268.36,327.93 269.35,329.92 270.35,331.92 271.34,333.93 272.33,335.93 272.83,336.94 273.32,337.95 273.82,338.95 274.31,339.96 274.81,340.97 275.31,341.98 275.80,343.00 276.30,344.01 276.79,345.03 277.29,346.04 277.79,347.06 278.28,348.08 278.78,349.10 279.27,350.12 279.77,351.14 280.27,352.17 280.76,353.19 281.26,354.22 281.75,355.25 282.25,356.28 282.75,357.31 283.24,358.34 283.74,359.38 284.23,360.41 284.73,361.45 285.22,362.49 285.72,363.53 286.22,364.57 286.71,365.61 287.21,366.66 287.70,367.71 288.20,368.75 288.70,369.81 289.19,370.86 289.69,371.91 290.18,372.97 290.68,374.02 291.18,375.08 291.67,376.14 292.17,377.19 292.66,378.25 293.16,379.31 293.66,380.36" fill="none" stroke="#000000" stroke-width="1.5" stroke-dasharray="0.01 5.2" stroke-linecap="round" clip-path="url(#cp1)"/>
<polyline points="84.57,630.95 86.73,630.95 88.90,630.95 91.06,630.95 93.22,630.95 95.39,630.96 97.55,630.97 99.71,630.99 101.87,631.02 104.04,631.06 106.20,631.12 108.36,631.19 110.53,631.29 112.69,631.41 114.85,631.55 117.01,631.73 119.18,631.94 120.62,632.10 122.06,632.28 123.50,632.48 124.94,632.70 126.39,632.94 127.83,633.20 129.27,633.49 130.71,633.79 132.15,634.13 133.60,634.49 135.04,634.87 136.48,635.29 137.92,635.73 139.36,636.20 140.80,636.70 142.25,637.24 143.69,637.80 145.13,638.40 146.57,639.03 148.01,639.69 149.46,640.39 150.90,641.13 152.34,641.90 153.78,642.70 155.22,643.55 156.66,644.43 158.11,645.35 159.55,646.30 160.99,647.29 162.43,648.33 163.87,649.40 165.32,650.51 166.76,651.65 168.20,652.84 169.64,654.07 171.08,655.33 172.53,656.63 173.97,657.98 175.41,659.36 176.85,660.77 178.29,662.23 179.73,663.72 181.18,665.25 182.62,666.82 184.06,668.43 185.50,670.07 186.94,671.74 188.39,673.45 189.83,675.19 190.55,676.08 191.27,676.97 191.99,677.87 192.71,678.78 193.43,679.69 194.15,680.62 194.87,681.55 195.59,682.49 196.32,683.44 197.04,684.39 197.76,685.35 198.48,686.32 199.20,687.30 199.92,688.28 200.64,689.27 201.36,690.26 202.08,691.27 202.80,692.27 203.52,693.29 204.25,694.31 204.97,695.34 205.69,696.37 206.41,697.41 207.13,698.45 207.85,699.50 208.57,700.56 209.29,701.61 210.01,702.68 210.73,703.75 211.46,704.82 212.18,705.90 212.90,706.98 213.62,708.07 214.34,709.16 215.06,710.25 215.78,711.35 216.50,712.45 217.22,713.55 217.94,714.66 218.66,715.77 219.39,716.88 220.11,718.00 220.83,719.12 221.55,720.24 222.27,721.36 222.99,722.48 223.71,723.60 224.43,724.73 225.15,725.86 225.87,726.99 226.59,728.12 227.32,729.24 228.04,730.37 228.76,731.50 229.48,732.63 230.20,733.76 230.92,734.89 231.64,736.02 232.36,737.15 233.08,738.28 233.80,739.40 234.52,740.53 235.25,741.65 235.97,742.77 236.69,743.89 237.41,745.01 238.13,746.12 238.85,747.23 239.57,748.34 240.29,749.45 241.01,750.55 241.73,751.65 242.46,752.74 243.18,753.84 243.90,754.92 244.62,756.01 245.34,757.08 246.06,758.16 246.78,759.23 247.50,760.29 248.22,761.35 248.94,762.40 249.66,763.45 250.39,764.49 251.11,765.52 251.83,766.55 252.55,767.57 253.27,768.58 253.99,769.59 254.71,770.59 255.43,771.58 256.15,772.57 256.87,773.54 257.59,774.51 258.32,775.47 259.04,776.42 259.76,777.37 260.48,778.30 261.20,779.23 261.92,780.14 262.64,781.05 263.36,781.95 264.08,782.83 265.52,784.58 266.97,786.28 268.41,787.93 269.85,789.55 271.29,791.11 272.73,792.63 274.18,794.10 275.62,795.52 277.06,796.88 278.50,798.20 279.94,799.45 281.39,800.66 282.83,801.80 284.27,802.88 285.71,803.91 287.15,804.87 288.59,805.78 290.04,806.61 291.48,807.39 292.92,808.10 294.36,808.74 295.80,809.31 297.25,809.82 298.69,810.26 300.13,810.63 301.57,810.92 303.01,811.15 305.18,811.35 307.34,811.39 309.50,811.26 310.94,811.08 312.38,810.82 313.83,810.49 315.27,810.09 316.71,809.60 318.15,809.04 319.59,808.41 321.04,807.69 322.48,806.90 323.92,806.03 325.36,805.09 326.80,804.07 328.25,802.97 329.69,801.79 331.13,800.54 332.57,799.20 334.01,797.80 335.45,796.32 336.90,794.76 338.34,793.12 339.78,791.41 340.50,790.53 341.22,789.63 341.94,788.71 342.66,787.77 343.38,786.82 344.11,785.84 344.83,784.85 345.55,783.84 346.27,782.81 346.99,781.77 347.71,780.70 348.43,779.62 349.15,778.52 349.87,777.40 350.59,776.27 351.32,775.12 352.04,773.95 352.76,772.76 353.48,771.56 354.20,770.34 354.92,769.11 355.64,767.85 356.36,766.58 357.08,765.30 357.80,764.00 358.52,762.68 359.25,761.35 359.97,760.00 360.69,758.63 361.41,757.25 362.13,755.86 362.85,754.45 363.57,753.02 364.29,751.58 365.01,750.13 365.73,748.66 366.45,747.17 367.18,745.67 367.90,744.16 368.62,742.63 369.34,741.09 370.06,739.54 370.78,737.97 371.50,736.39 372.22,734.80 372.94,733.20 373.66,731.58 374.38,729.95 375.11,728.30 375.83,726.65 376.55,724.98 377.27,723.30 377.99,721.61 378.71,719.91 379.43,718.20 380.15,716.47 380.87,714.74 381.59,713.00 382.31,711.24 383.04,709.48 383.76,707.70 384.48,705.92 385.20,704.12 385.92,702.32 386.64,700.51 387.36,698.69 388.08,696.86 388.80,695.02 389.52,693.18 390.25,691.33 390.97,689.47 391.69,687.60 392.41,685.72 393.13,683.84 393.85,681.95 394.57,680.06 395.29,678.16 396.01,676.25 396.73,674.34 397.45,672.42 398.18,670.49 398.90,668.56 399.62,666.63 400.34,664.69 401.06,662.75 401.78,660.80 402.50,658.85 403.22,656.90 403.94,654.94 404.66,652.98 405.38,651.02 406.11,649.05 406.83,647.09 407.55,645.12 408.27,643.14 408.99,641.17 409.71,639.20 410.43,637.22 411.15,635.24 411.87,633.27 412.59,631.29 413.31,629.31 414.04,627.34 414.76,625.36 415.48,623.38 416.20,621.41 416.92,619.43 417.64,617.46 418.36,615.49 419.08,613.52 419.80,611.56 420.52,609.59 421.24,607.63 421.97,605.67 422.69,603.72 423.41,601.77 424.13,599.82 424.85,597.88 425.57,595.94 426.29,594.00 427.01,592.07 427.73,590.15 428.45,588.23 429.18,586.31 429.90,584.41 430.62,582.50 431.34,580.61 432.06,578.72 432.78,576.84 433.50,574.96 434.22,573.09 434.94,571.23 435.66,569.38 436.38,567.53 437.11,565.70 437.83,563.87 438.55,562.05 439.27,560.24 439.99,558.43 440.71,556.64 441.43,554.86 442.15,553.09 442.87,551.32 443.59,549.57 444.31,547.83 445.04,546.10 445.76,544.38 446.48,542.67 447.20,540.97 447.92,539.29 448.64,537.61 449.36,535.95 450.08,534.30 450.80,532.67 451.52,531.04 452.24,529.43 452.97,527.84 453.69,526.25 454.41,524.68 455.13,523.13 455.85,521.58 456.57,520.06 457.29,518.54 458.01,517.04 458.73,515.56 459.45,514.09 460.17,512.64 460.90,511.20 461.62,509.78 462.34,508.37 463.06,506.98 463.78,505.60 464.50,504.25 465.22,502.90 465.94,501.58 466.66,500.27 467.38,498.98 468.11,497.71 468.83,496.45 469.55,495.21 470.27,493.99 470.99,492.79 471.71,491.61 472.43,490.44 473.15,489.29 473.87,488.16 474.59,487.05 475.31,485.96 476.04,484.89 476.76,483.83 477.48,482.80 478.20,481.78 478.92,480.79 479.64,479.81 480.36,478.85 481.08,477.92 481.80,477.00 482.52,476.11 483.97,474.37 485.41,472.73 486.85,471.16 488.29,469.68 489.73,468.28 491.17,466.97 492.62,465.74 494.06,464.60 495.50,463.55 496.94,462.59 498.38,461.71 499.83,460.92 501.27,460.23 502.71,459.62 504.15,459.10 505.59,458.67 507.04,458.33 508.48,458.09 510.64,457.89 512.80,457.89 514.97,458.10 516.41,458.35 517.85,458.69 519.29,459.13 520.73,459.65 522.17,460.26 523.62,460.97 525.06,461.76 526.50,462.64 527.94,463.61 529.38,464.67 530.83,465.81 532.27,467.04 533.71,468.36 535.15,469.76 536.59,471.25 538.04,472.82 539.48,474.47 540.92,476.21 541.64,477.11 542.36,478.03 543.08,478.97 543.80,479.92 544.52,480.90 545.24,481.90 545.97,482.92 546.69,483.95 547.41,485.01 548.13,486.09 548.85,487.18 549.57,488.29 550.29,489.42 551.01,490.58 551.73,491.74 552.45,492.93 553.17,494.14 553.90,495.36 554.62,496.60 555.34,497.86 556.06,499.13 556.78,500.43 557.50,501.74 558.22,503.06 558.94,504.41 559.66,505.77 560.38,507.14 561.10,508.54 561.83,509.95 562.55,511.37 563.27,512.81 563.99,514.27 564.71,515.74 565.43,517.22 566.15,518.73 566.87,520.24 567.59,521.77 568.31,523.32 569.03,524.87 569.76,526.45 570.48,528.03 571.20,529.63 571.92,531.25 572.64,532.87 573.36,534.51 574.08,536.16 574.80,537.82 575.52,539.50 576.24,541.19 576.97,542.89 577.69,544.60 578.41,546.32 579.13,548.05 579.85,549.80 580.57,551.55 581.29,553.32 582.01,555.09 582.73,556.88 583.45,558.67 584.17,560.48 584.90,562.29 585.62,564.11 586.34,565.94 587.06,567.78 587.78,569.63 588.50,571.49" fill="none" stroke="#1c18c0" stroke-width="1.3" stroke-linejoin="round" clip-path="url(#cp2)"/>
<polyline points="470.15,494.61 470.87,493.39 471.59,492.19 472.31,491.01 473.03,489.84 473.75,488.69 474.47,487.56 475.19,486.45 475.91,485.36 476.64,484.29 477.36,483.23 478.08,482.20 478.80,481.18 479.52,480.19 480.24,479.21 480.96,478.25 481.68,477.32 482.40,476.40 483.12,475.51 484.57,473.77 486.01,472.13 487.45,470.56 488.89,469.08 490.33,467.68 491.77,466.37 493.22,465.14 494.66,464.00 496.10,462.95 497.54,461.99 498.98,461.11 500.43,460.32 501.87,459.63 503.31,459.02 504.75,458.50 506.19,458.07 507.64,457.73 509.08,457.49 511.24,457.29 513.40,457.29 515.57,457.50 517.01,457.75 518.45,458.09 519.89,458.53 521.33,459.05 522.77,459.66 524.22,460.37 525.66,461.16 527.10,462.04 528.54,463.01 529.98,464.07 531.43,465.21 532.87,466.44 534.31,467.76 535.75,469.16 537.19,470.65 538.64,472.22 540.08,473.87 541.52,475.61 542.24,476.51 542.96,477.43 543.68,478.37 544.40,479.32 545.12,480.30 545.84,481.30 546.57,482.32 547.29,483.35 548.01,484.41 548.73,485.49 549.45,486.58 550.17,487.69 550.89,488.82 551.61,489.98 552.33,491.14 553.05,492.33 553.77,493.54 554.50,494.76 555.22,496.00 555.94,497.26 556.66,498.53 557.38,499.83 558.10,501.14 558.82,502.46 559.54,503.81 560.26,505.17 560.98,506.54 561.70,507.94 562.43,509.35 563.15,510.77 563.87,512.21 564.59,513.67 565.31,515.14 566.03,516.62 566.75,518.13 567.47,519.64 568.19,521.17 568.91,522.72 569.63,524.27 570.36,525.85 571.08,527.43 571.80,529.03 572.52,530.65 573.24,532.27 573.96,533.91 574.68,535.56 575.40,537.22 576.12,538.90 576.84,540.59 577.57,542.29 578.29,544.00 579.01,545.72 579.73,547.45 580.45,549.20 581.17,550.95 581.89,552.72 582.61,554.49 583.33,556.28 584.05,558.07 584.77,559.88 585.50,561.69 586.22,563.51 586.94,565.34 587.66,567.18 588.38,569.03 589.10,570.89" fill="none" stroke="#1c18c0" stroke-width="1.5" stroke-dasharray="0.01 5.2" stroke-linecap="round" clip-path="url(#cp2)"/>
<polyline points="84.57,630.95 86.73,630.95 88.90,630.98 91.06,631.05 93.22,631.17 95.39,631.37 96.83,631.55 98.27,631.78 99.71,632.05 101.15,632.38 102.60,632.75 104.04,633.19 105.48,633.68 106.92,634.24 108.36,634.86 109.80,635.54 111.25,636.29 112.69,637.12 114.13,638.00 115.57,638.96 117.01,640.00 118.46,641.10 119.90,642.27 121.34,643.52 122.78,644.84 124.22,646.23 125.66,647.69 127.11,649.22 128.55,650.82 129.99,652.49 131.43,654.23 132.15,655.12 132.87,656.03 133.60,656.96 134.32,657.90 135.04,658.86 135.76,659.83 136.48,660.82 137.20,661.82 137.92,662.84 138.64,663.88 139.36,664.93 140.08,665.99 140.80,667.06 141.53,668.15 142.25,669.26 142.97,670.37 143.69,671.50 144.41,672.65 145.13,673.80 145.85,674.97 146.57,676.15 147.29,677.34 148.01,678.54 148.73,679.75 149.46,680.97 150.18,682.20 150.90,683.44 151.62,684.69 152.34,685.95 153.06,687.22 153.78,688.50 154.50,689.78 155.22,691.08 155.94,692.38 156.66,693.68 157.39,695.00 158.11,696.32 158.83,697.64 159.55,698.98 160.27,700.31 160.99,701.65 161.71,703.00 162.43,704.35 163.15,705.70 163.87,707.06 164.59,708.42 165.32,709.78 166.04,711.14 166.76,712.50 167.48,713.87 168.20,715.24 168.92,716.61 169.64,717.97 170.36,719.34 171.08,720.71 171.80,722.07 172.53,723.43 173.25,724.80 173.97,726.16 174.69,727.51 175.41,728.87 176.13,730.22 176.85,731.56 177.57,732.90 178.29,734.24 179.01,735.57 179.73,736.90 180.46,738.22 181.18,739.53 181.90,740.84 182.62,742.14 183.34,743.44 184.06,744.72 184.78,746.00 185.50,747.27 186.22,748.53 186.94,749.78 187.66,751.02 188.39,752.25 189.11,753.47 189.83,754.68 190.55,755.88 191.27,757.07 191.99,758.24 192.71,759.41 193.43,760.56 194.15,761.70 194.87,762.82 195.59,763.93 196.32,765.03 197.04,766.12 197.76,767.18 198.48,768.24 199.20,769.28 199.92,770.30 200.64,771.31 201.36,772.30 202.08,773.28 202.80,774.24 203.52,775.18 204.25,776.10 204.97,777.01 205.69,777.90 207.13,779.62 208.57,781.27 210.01,782.84 211.46,784.34 212.90,785.75 214.34,787.08 215.78,788.33 217.22,789.49 218.66,790.56 220.11,791.54 221.55,792.44 222.99,793.24 224.43,793.94 225.87,794.56 227.32,795.07 228.76,795.49 230.20,795.81 231.64,796.04 233.80,796.19 235.97,796.11 237.41,795.93 238.85,795.66 240.29,795.27 241.73,794.79 243.18,794.21 244.62,793.52 246.06,792.73 247.50,791.84 248.94,790.85 250.39,789.75 251.83,788.55 253.27,787.26 254.71,785.86 256.15,784.36 257.59,782.77 259.04,781.07 259.76,780.19 260.48,779.28 261.20,778.35 261.92,777.39 262.64,776.41 263.36,775.41 264.08,774.38 264.80,773.33 265.52,772.26 266.25,771.16 266.97,770.04 267.69,768.90 268.41,767.74 269.13,766.55 269.85,765.34 270.57,764.11 271.29,762.85 272.01,761.58 272.73,760.28 273.45,758.97 274.18,757.63 274.90,756.27 275.62,754.89 276.34,753.49 277.06,752.06 277.78,750.62 278.50,749.16 279.22,747.68 279.94,746.18 280.66,744.66 281.39,743.13 282.11,741.57 282.83,740.00 283.55,738.40 284.27,736.79 284.99,735.17 285.71,733.52 286.43,731.86 287.15,730.18 287.87,728.48 288.59,726.77 289.32,725.05 290.04,723.30 290.76,721.54 291.48,719.77 292.20,717.98 292.92,716.18 293.64,714.36 294.36,712.53 295.08,710.69 295.80,708.83 296.52,706.96 297.25,705.08 297.97,703.18 298.69,701.27 299.41,699.36 300.13,697.43 300.85,695.48 301.57,693.53 302.29,691.57 303.01,689.60 303.73,687.61 304.45,685.62 305.18,683.62 305.90,681.61 306.62,679.59 307.34,677.57 308.06,675.53 308.78,673.49 309.50,671.44 310.22,669.39 310.94,667.32 311.66,665.26 312.38,663.18 313.11,661.10 313.83,659.02 314.55,656.93 315.27,654.84 315.99,652.74 316.71,650.64 317.43,648.54 318.15,646.43 318.87,644.32 319.59,642.21 320.32,640.10 321.04,637.98 321.76,635.87 322.48,633.75 323.20,631.63 323.92,629.51 324.64,627.40 325.36,625.28 326.08,623.16 326.80,621.05 327.52,618.94 328.25,616.83 328.97,614.72 329.69,612.61 330.41,610.51 331.13,608.41 331.85,606.32 332.57,604.22 333.29,602.14 334.01,600.05 334.73,597.98 335.45,595.91 336.18,593.84 336.90,591.78 337.62,589.73 338.34,587.68 339.06,585.64 339.78,583.61 340.50,581.59 341.22,579.57 341.94,577.56 342.66,575.56 343.38,573.57 344.11,571.59 344.83,569.62 345.55,567.66 346.27,565.71 346.99,563.78 347.71,561.85 348.43,559.93 349.15,558.03 349.87,556.13 350.59,554.25 351.32,552.39 352.04,550.53 352.76,548.69 353.48,546.86 354.20,545.05 354.92,543.25 355.64,541.46 356.36,539.69 357.08,537.94 357.80,536.19 358.52,534.47 359.25,532.76 359.97,531.07 360.69,529.39 361.41,527.73 362.13,526.09 362.85,524.46 363.57,522.85 364.29,521.26 365.01,519.69 365.73,518.13 366.45,516.60 367.18,515.08 367.90,513.58 368.62,512.10 369.34,510.64 370.06,509.20 370.78,507.78 371.50,506.38 372.22,505.00 372.94,503.64 373.66,502.30 374.38,500.98 375.11,499.68 375.83,498.41 376.55,497.15 377.27,495.92 377.99,494.71 378.71,493.52 379.43,492.36 380.15,491.21 380.87,490.09 381.59,488.99 382.31,487.92 383.04,486.87 383.76,485.84 384.48,484.83 385.20,483.85 385.92,482.90 386.64,481.96 387.36,481.05 388.08,480.17 389.52,478.47 390.97,476.87 392.41,475.38 393.85,473.98 395.29,472.68 396.73,471.48 398.18,470.39 399.62,469.40 401.06,468.52 402.50,467.74 403.94,467.06 405.38,466.49 406.83,466.02 408.27,465.66 409.71,465.41 411.87,465.23 414.04,465.28 415.48,465.45 416.92,465.72 418.36,466.10 419.80,466.59 421.24,467.18 422.69,467.87 424.13,468.67 425.57,469.57 427.01,470.57 428.45,471.67 429.90,472.87 431.34,474.18 432.78,475.58 434.22,477.08 435.66,478.68 437.11,480.38 437.83,481.26 438.55,482.16 439.27,483.09 439.99,484.05 440.71,485.02 441.43,486.02 442.15,487.04 442.87,488.09 443.59,489.16 444.31,490.25 445.04,491.36 445.76,492.49 446.48,493.64 447.20,494.82 447.92,496.02 448.64,497.24 449.36,498.48 450.08,499.74 450.80,501.02 451.52,502.32 452.24,503.64 452.97,504.98 453.69,506.34 454.41,507.72 455.13,509.12 455.85,510.54 456.57,511.98 457.29,513.43 458.01,514.91 458.73,516.40 459.45,517.91 460.17,519.44 460.90,520.98 461.62,522.55 462.34,524.13 463.06,525.72 463.78,527.33 464.50,528.96 465.22,530.60 465.94,532.26 466.66,533.94 467.38,535.63 468.11,537.33 468.83,539.05 469.55,540.79 470.27,542.53 470.99,544.29 471.71,546.07 472.43,547.86 473.15,549.66 473.87,551.47 474.59,553.29 475.31,555.13 476.04,556.98 476.76,558.84 477.48,560.71 478.20,562.59 478.92,564.49 479.64,566.39 480.36,568.30 481.08,570.22 481.80,572.16 482.52,574.10 483.24,576.05 483.97,578.01 484.69,579.97 485.41,581.95 486.13,583.93 486.85,585.92 487.57,587.91 488.29,589.91 489.01,591.92 489.73,593.94 490.45,595.96 491.17,597.98 491.90,600.01 492.62,602.05 493.34,604.09 494.06,606.13 494.78,608.18 495.50,610.23 496.22,612.29 496.94,614.34 497.66,616.40 498.38,618.47 499.11,620.53 499.83,622.59 500.55,624.66 501.27,626.73 501.99,628.80 502.71,630.87 503.43,632.93 504.15,635.00 504.87,637.07 505.59,639.14 506.31,641.20 507.04,643.27 507.76,645.33 508.48,647.39 509.20,649.45 509.92,651.50 510.64,653.55 511.36,655.60 512.08,657.65 512.80,659.69 513.52,661.72 514.24,663.75 514.97,665.78 515.69,667.80 516.41,669.82 517.13,671.83 517.85,673.83 518.57,675.83 519.29,677.82 520.01,679.80 520.73,681.78 521.45,683.74 522.17,685.70 522.90,687.66 523.62,689.60 524.34,691.53 525.06,693.46 525.78,695.37 526.50,697.28 527.22,699.18 527.94,701.06 528.66,702.94 529.38,704.80 530.10,706.66 530.83,708.50 531.55,710.33 532.27,712.15 532.99,713.96 533.71,715.75 534.43,717.53 535.15,719.30 535.87,721.05 536.59,722.80 537.31,724.52 538.04,726.24 538.76,727.94 539.48,729.62 540.20,731.29 540.92,732.95 541.64,734.59 542.36,736.21 543.08,737.82 543.80,739.42 544.52,740.99 545.24,742.55 545.97,744.10 546.69,745.62 547.41,747.13 548.13,748.63 548.85,750.10 549.57,751.56 550.29,753.00 551.01,754.42 551.73,755.82 552.45,757.21 553.17,758.57 553.90,759.92 554.62,761.25 555.34,762.55 556.06,763.84 556.78,765.11 557.50,766.36 558.22,767.59 558.94,768.80 559.66,769.99 560.38,771.15 561.10,772.30 561.83,773.43 562.55,774.53 563.27,775.61 563.99,776.68 564.71,777.72 565.43,778.74 566.15,779.73 566.87,780.71 567.59,781.66 568.31,782.59 569.03,783.50 569.76,784.39 571.20,786.09 572.64,787.70 574.08,789.22 575.52,790.65 576.97,791.98 578.41,793.22 579.85,794.37 581.29,795.41 582.73,796.36 584.17,797.22 585.62,797.97 587.06,798.63 588.50,799.19" fill="none" stroke="#30dc84" stroke-width="1.3" stroke-linejoin="round" clip-path="url(#cp2)"/>
<polyline points="460.05,518.51 460.77,520.04 461.50,521.58 462.22,523.15 462.94,524.73 463.66,526.32 464.38,527.93 465.10,529.56 465.82,531.20 466.54,532.86 467.26,534.54 467.98,536.23 468.71,537.93 469.43,539.65 470.15,541.39 470.87,543.13 471.59,544.89 472.31,546.67 473.03,548.46 473.75,550.26 474.47,552.07 475.19,553.89 475.91,555.73 476.64,557.58 477.36,559.44 478.08,561.31 478.80,563.19 479.52,565.09 480.24,566.99 480.96,568.90 481.68,570.82 482.40,572.76 483.12,574.70 483.84,576.65 484.57,578.61 485.29,580.57 486.01,582.55 486.73,584.53 487.45,586.52 488.17,588.51 488.89,590.51 489.61,592.52 490.33,594.54 491.05,596.56 491.77,598.58 492.50,600.61 493.22,602.65 493.94,604.69 494.66,606.73 495.38,608.78 496.10,610.83 496.82,612.89 497.54,614.94 498.26,617.00 498.98,619.07 499.71,621.13 500.43,623.19 501.15,625.26 501.87,627.33 502.59,629.40 503.31,631.47 504.03,633.53 504.75,635.60 505.47,637.67 506.19,639.74 506.91,641.80 507.64,643.87 508.36,645.93 509.08,647.99 509.80,650.05 510.52,652.10 511.24,654.15 511.96,656.20 512.68,658.25 513.40,660.29 514.12,662.32 514.84,664.35 515.57,666.38 516.29,668.40 517.01,670.42 517.73,672.43 518.45,674.43 519.17,676.43 519.89,678.42 520.61,680.40 521.33,682.38 522.05,684.34 522.77,686.30 523.50,688.26 524.22,690.20 524.94,692.13 525.66,694.06 526.38,695.97 527.10,697.88 527.82,699.78 528.54,701.66 529.26,703.54 529.98,705.40 530.70,707.26 531.43,709.10 532.15,710.93 532.87,712.75 533.59,714.56 534.31,716.35 535.03,718.13 535.75,719.90 536.47,721.65 537.19,723.40 537.91,725.12 538.64,726.84 539.36,728.54 540.08,730.22 540.80,731.89 541.52,733.55 542.24,735.19 542.96,736.81 543.68,738.42 544.40,740.02 545.12,741.59 545.84,743.15 546.57,744.70 547.29,746.22 548.01,747.73 548.73,749.23 549.45,750.70 550.17,752.16 550.89,753.60 551.61,755.02 552.33,756.42 553.05,757.81 553.77,759.17 554.50,760.52 555.22,761.85 555.94,763.15 556.66,764.44 557.38,765.71 558.10,766.96 558.82,768.19 559.54,769.40 560.26,770.59 560.98,771.75 561.70,772.90 562.43,774.03 563.15,775.13 563.87,776.21 564.59,777.28 565.31,778.32 566.03,779.34 566.75,780.33 567.47,781.31 568.19,782.26 568.91,783.19 569.63,784.10 570.36,784.99 571.80,786.69 573.24,788.30 574.68,789.82 576.12,791.25 577.57,792.58 579.01,793.82 580.45,794.97 581.89,796.01 583.33,796.96 584.77,797.82 586.22,798.57 587.66,799.23 589.10,799.79" fill="none" stroke="#30dc84" stroke-width="1.5" stroke-dasharray="0.01 5.2" stroke-linecap="round" clip-path="url(#cp2)"/>
<polyline points="84.57,630.95 86.01,631.17 87.46,631.76 88.90,632.71 90.34,633.99 91.78,635.58 92.50,636.48 93.22,637.45 93.94,638.49 94.66,639.59 95.39,640.75 96.11,641.97 96.83,643.25 97.55,644.57 98.27,645.96 98.99,647.38 99.71,648.86 100.43,650.38 101.15,651.94 101.87,653.54 102.60,655.18 103.32,656.85 104.04,658.56 104.76,660.30 105.48,662.06 106.20,663.85 106.92,665.67 107.64,667.51 108.36,669.37 109.08,671.25 109.80,673.15 110.53,675.06 111.25,676.99 111.97,678.92 112.69,680.87 113.41,682.82 114.13,684.79 114.85,686.75 115.57,688.72 116.29,690.69 117.01,692.67 117.73,694.64 118.46,696.61 119.18,698.57 119.90,700.53 120.62,702.48 121.34,704.42 122.06,706.36 122.78,708.28 123.50,710.19 124.22,712.08 124.94,713.97 125.66,715.83 126.39,717.68 127.11,719.51 127.83,721.33 128.55,723.12 129.27,724.89 129.99,726.64 130.71,728.36 131.43,730.06 132.15,731.74 132.87,733.39 133.60,735.01 134.32,736.61 135.04,738.17 135.76,739.71 136.48,741.22 137.20,742.70 137.92,744.14 138.64,745.55 139.36,746.93 140.08,748.28 140.80,749.59 141.53,750.87 142.25,752.11 142.97,753.32 143.69,754.49 144.41,755.63 145.13,756.72 145.85,757.78 146.57,758.80 147.29,759.78 148.01,760.73 148.73,761.63 150.18,763.32 151.62,764.84 153.06,766.21 154.50,767.40 155.94,768.43 157.39,769.30 158.83,769.99 160.27,770.52 161.71,770.87 163.15,771.05 165.32,771.01 166.76,770.77 168.20,770.36 169.64,769.78 171.08,769.04 172.53,768.13 173.97,767.06 175.41,765.83 176.85,764.44 178.29,762.89 179.73,761.19 180.46,760.28 181.18,759.33 181.90,758.35 182.62,757.33 183.34,756.27 184.06,755.18 184.78,754.05 185.50,752.89 186.22,751.69 186.94,750.46 187.66,749.19 188.39,747.89 189.11,746.55 189.83,745.19 190.55,743.79 191.27,742.35 191.99,740.89 192.71,739.40 193.43,737.87 194.15,736.32 194.87,734.74 195.59,733.13 196.32,731.48 197.04,729.82 197.76,728.12 198.48,726.40 199.20,724.65 199.92,722.88 200.64,721.08 201.36,719.25 202.08,717.40 202.80,715.53 203.52,713.64 204.25,711.72 204.97,709.78 205.69,707.82 206.41,705.84 207.13,703.84 207.85,701.82 208.57,699.78 209.29,697.72 210.01,695.64 210.73,693.55 211.46,691.44 212.18,689.32 212.90,687.18 213.62,685.02 214.34,682.85 215.06,680.67 215.78,678.47 216.50,676.26 217.22,674.04 217.94,671.81 218.66,669.57 219.39,667.32 220.11,665.05 220.83,662.78 221.55,660.51 222.27,658.22 222.99,655.93 223.71,653.63 224.43,651.32 225.15,649.01 225.87,646.70 226.59,644.38 227.32,642.05 228.04,639.73 228.76,637.40 229.48,635.07 230.20,632.74 230.92,630.41 231.64,628.08 232.36,625.75 233.08,623.42 233.80,621.10 234.52,618.77 235.25,616.45 235.97,614.13 236.69,611.82 237.41,609.51 238.13,607.21 238.85,604.91 239.57,602.62 240.29,600.34 241.01,598.06 241.73,595.79 242.46,593.53 243.18,591.28 243.90,589.04 244.62,586.80 245.34,584.58 246.06,582.37 246.78,580.18 247.50,577.99 248.22,575.82 248.94,573.65 249.66,571.51 250.39,569.37 251.11,567.26 251.83,565.15 252.55,563.06 253.27,560.99 253.99,558.94 254.71,556.90 255.43,554.88 256.15,552.87 256.87,550.89 257.59,548.92 258.32,546.97 259.04,545.05 259.76,543.14 260.48,541.25 261.20,539.38 261.92,537.54 262.64,535.71 263.36,533.91 264.08,532.13 264.80,530.37 265.52,528.63 266.25,526.92 266.97,525.23 267.69,523.57 268.41,521.93 269.13,520.31 269.85,518.72 270.57,517.15 271.29,515.61 272.01,514.10 272.73,512.61 273.45,511.15 274.18,509.72 274.90,508.31 275.62,506.93 276.34,505.58 277.06,504.25 277.78,502.96 278.50,501.69 279.22,500.45 279.94,499.24 280.66,498.05 281.39,496.90 282.11,495.78 282.83,494.68 283.55,493.62 284.27,492.58 284.99,491.58 285.71,490.61 286.43,489.66 287.15,488.75 287.87,487.87 289.32,486.20 290.76,484.65 292.20,483.23 293.64,481.94 295.08,480.77 296.52,479.73 297.97,478.82 299.41,478.04 300.85,477.39 302.29,476.87 303.73,476.47 305.18,476.21 307.34,476.06 309.50,476.19 310.94,476.44 312.38,476.82 313.83,477.32 315.27,477.96 316.71,478.71 318.15,479.59 319.59,480.60 321.04,481.72 322.48,482.97 323.92,484.33 325.36,485.82 326.80,487.42 328.25,489.13 328.97,490.03 329.69,490.96 330.41,491.92 331.13,492.90 331.85,493.91 332.57,494.95 333.29,496.02 334.01,497.11 334.73,498.23 335.45,499.38 336.18,500.55 336.90,501.74 337.62,502.97 338.34,504.21 339.06,505.49 339.78,506.78 340.50,508.10 341.22,509.45 341.94,510.82 342.66,512.21 343.38,513.63 344.11,515.07 344.83,516.53 345.55,518.01 346.27,519.52 346.99,521.04 347.71,522.59 348.43,524.16 349.15,525.75 349.87,527.36 350.59,528.99 351.32,530.64 352.04,532.31 352.76,533.99 353.48,535.70 354.20,537.43 354.92,539.17 355.64,540.93 356.36,542.71 357.08,544.50 357.80,546.31 358.52,548.14 359.25,549.98 359.97,551.84 360.69,553.71 361.41,555.60 362.13,557.50 362.85,559.41 363.57,561.34 364.29,563.29 365.01,565.24 365.73,567.21 366.45,569.19 367.18,571.18 367.90,573.18 368.62,575.19 369.34,577.22 370.06,579.25 370.78,581.29 371.50,583.35 372.22,585.41 372.94,587.48 373.66,589.55 374.38,591.64 375.11,593.73 375.83,595.83 376.55,597.94 377.27,600.05 377.99,602.17 378.71,604.29 379.43,606.42 380.15,608.55 380.87,610.69 381.59,612.83 382.31,614.98 383.04,617.12 383.76,619.27 384.48,621.42 385.20,623.58 385.92,625.73 386.64,627.89 387.36,630.04 388.08,632.20 388.80,634.36 389.52,636.51 390.25,638.67 390.97,640.82 391.69,642.97 392.41,645.12 393.13,647.27 393.85,649.41 394.57,651.55 395.29,653.69 396.01,655.82 396.73,657.95 397.45,660.07 398.18,662.19 398.90,664.30 399.62,666.41 400.34,668.51 401.06,670.60 401.78,672.69 402.50,674.77 403.22,676.84 403.94,678.90 404.66,680.95 405.38,683.00 406.11,685.03 406.83,687.06 407.55,689.08 408.27,691.08 408.99,693.08 409.71,695.06 410.43,697.03 411.15,699.00 411.87,700.95 412.59,702.88 413.31,704.81 414.04,706.72 414.76,708.61 415.48,710.50 416.20,712.37 416.92,714.22 417.64,716.07 418.36,717.89 419.08,719.70 419.80,721.50 420.52,723.28 421.24,725.04 421.97,726.79 422.69,728.52 423.41,730.23 424.13,731.93 424.85,733.61 425.57,735.27 426.29,736.91 427.01,738.53 427.73,740.14 428.45,741.72 429.18,743.29 429.90,744.84 430.62,746.37 431.34,747.87 432.06,749.36 432.78,750.83 433.50,752.28 434.22,753.70 434.94,755.11 435.66,756.49 436.38,757.85 437.11,759.19 437.83,760.51 438.55,761.81 439.27,763.08 439.99,764.33 440.71,765.56 441.43,766.76 442.15,767.94 442.87,769.10 443.59,770.24 444.31,771.35 445.04,772.44 445.76,773.50 446.48,774.54 447.20,775.55 447.92,776.54 448.64,777.51 449.36,778.45 450.08,779.36 450.80,780.25 452.24,781.96 453.69,783.56 455.13,785.06 456.57,786.46 458.01,787.75 459.45,788.93 460.90,790.01 462.34,790.99 463.78,791.85 465.22,792.61 466.66,793.27 468.11,793.81 469.55,794.25 470.99,794.57 472.43,794.79 474.59,794.92 476.76,794.80 478.20,794.58 479.64,794.26 481.08,793.83 482.52,793.30 483.97,792.66 485.41,791.91 486.85,791.05 488.29,790.10 489.73,789.04 491.17,787.87 492.62,786.60 494.06,785.24 495.50,783.77 496.94,782.20 498.38,780.54 499.83,778.78 500.55,777.86 501.27,776.92 501.99,775.96 502.71,774.97 503.43,773.96 504.15,772.93 504.87,771.87 505.59,770.79 506.31,769.69 507.04,768.57 507.76,767.42 508.48,766.26 509.20,765.07 509.92,763.86 510.64,762.63 511.36,761.37 512.08,760.10 512.80,758.81 513.52,757.49 514.24,756.16 514.97,754.80 515.69,753.43 516.41,752.04 517.13,750.62 517.85,749.19 518.57,747.74 519.29,746.27 520.01,744.78 520.73,743.28 521.45,741.76 522.17,740.21 522.90,738.66 523.62,737.08 524.34,735.49 525.06,733.88 525.78,732.26 526.50,730.61 527.22,728.96 527.94,727.29 528.66,725.60 529.38,723.90 530.10,722.18 530.83,720.45 531.55,718.70 532.27,716.95 532.99,715.17 533.71,713.39 534.43,711.59 535.15,709.78 535.87,707.96 536.59,706.12 537.31,704.27 538.04,702.41 538.76,700.54 539.48,698.66 540.20,696.77 540.92,694.87 541.64,692.96 542.36,691.04 543.08,689.11 543.80,687.17 544.52,685.22 545.24,683.26 545.97,681.30 546.69,679.32 547.41,677.34 548.13,675.36 548.85,673.36 549.57,671.36 550.29,669.35 551.01,667.34 551.73,665.32 552.45,663.30 553.17,661.27 553.90,659.23 554.62,657.20 555.34,655.15 556.06,653.11 556.78,651.06 557.50,649.01 558.22,646.95 558.94,644.89 559.66,642.83 560.38,640.77 561.10,638.71 561.83,636.64 562.55,634.58 563.27,632.51 563.99,630.45 564.71,628.38 565.43,626.32 566.15,624.25 566.87,622.19 567.59,620.12 568.31,618.06 569.03,616.01 569.76,613.95 570.48,611.89 571.20,609.84 571.92,607.80 572.64,605.75 573.36,603.71 574.08,601.67 574.80,599.64 575.52,597.62 576.24,595.59 576.97,593.58 577.69,591.57 578.41,589.56 579.13,587.56 579.85,585.57 580.57,583.58 581.29,581.61 582.01,579.64 582.73,577.67 583.45,575.72 584.17,573.77 584.90,571.83 585.62,569.90 586.34,567.99 587.06,566.08 587.78,564.17 588.50,562.28" fill="none" stroke="#cc2030" stroke-width="1.3" stroke-linejoin="round" clip-path="url(#cp2)"/>
<polyline points="370.66,579.85 371.38,581.89 372.10,583.95 372.82,586.01 373.54,588.08 374.26,590.15 374.98,592.24 375.71,594.33 376.43,596.43 377.15,598.54 377.87,600.65 378.59,602.77 379.31,604.89 380.03,607.02 380.75,609.15 381.47,611.29 382.19,613.43 382.91,615.58 383.64,617.72 384.36,619.87 385.08,622.02 385.80,624.18 386.52,626.33 387.24,628.49 387.96,630.64 388.68,632.80 389.40,634.96 390.12,637.11 390.85,639.27 391.57,641.42 392.29,643.57 393.01,645.72 393.73,647.87 394.45,650.01 395.17,652.15 395.89,654.29 396.61,656.42 397.33,658.55 398.05,660.67 398.78,662.79 399.50,664.90 400.22,667.01 400.94,669.11 401.66,671.20 402.38,673.29 403.10,675.37 403.82,677.44 404.54,679.50 405.26,681.55 405.98,683.60 406.71,685.63 407.43,687.66 408.15,689.68 408.87,691.68 409.59,693.68 410.31,695.66 411.03,697.63 411.75,699.60 412.47,701.55 413.19,703.48 413.91,705.41 414.64,707.32 415.36,709.21 416.08,711.10 416.80,712.97 417.52,714.82 418.24,716.67 418.96,718.49 419.68,720.30 420.40,722.10 421.12,723.88 421.84,725.64 422.57,727.39 423.29,729.12 424.01,730.83 424.73,732.53 425.45,734.21 426.17,735.87 426.89,737.51 427.61,739.13 428.33,740.74 429.05,742.32 429.78,743.89 430.50,745.44 431.22,746.97 431.94,748.47 432.66,749.96 433.38,751.43 434.10,752.88 434.82,754.30 435.54,755.71 436.26,757.09 436.98,758.45 437.71,759.79 438.43,761.11 439.15,762.41 439.87,763.68 440.59,764.93 441.31,766.16 442.03,767.36 442.75,768.54 443.47,769.70 444.19,770.84 444.91,771.95 445.64,773.04 446.36,774.10 447.08,775.14 447.80,776.15 448.52,777.14 449.24,778.11 449.96,779.05 450.68,779.96 451.40,780.85 452.84,782.56 454.29,784.16 455.73,785.66 457.17,787.06 458.61,788.35 460.05,789.53 461.50,790.61 462.94,791.59 464.38,792.45 465.82,793.21 467.26,793.87 468.71,794.41 470.15,794.85 471.59,795.17 473.03,795.39 475.19,795.52 477.36,795.40 478.80,795.18 480.24,794.86 481.68,794.43 483.12,793.90 484.57,793.26 486.01,792.51 487.45,791.65 488.89,790.70 490.33,789.64 491.77,788.47 493.22,787.20 494.66,785.84 496.10,784.37 497.54,782.80 498.98,781.14 500.43,779.38 501.15,778.46 501.87,777.52 502.59,776.56 503.31,775.57 504.03,774.56 504.75,773.53 505.47,772.47 506.19,771.39 506.91,770.29 507.64,769.17 508.36,768.02 509.08,766.86 509.80,765.67 510.52,764.46 511.24,763.23 511.96,761.97 512.68,760.70 513.40,759.41 514.12,758.09 514.84,756.76 515.57,755.40 516.29,754.03 517.01,752.64 517.73,751.22 518.45,749.79 519.17,748.34 519.89,746.87 520.61,745.38 521.33,743.88 522.05,742.36 522.77,740.81 523.50,739.26 524.22,737.68 524.94,736.09 525.66,734.48 526.38,732.86 527.10,731.21 527.82,729.56 528.54,727.89 529.26,726.20 529.98,724.50 530.70,722.78 531.43,721.05 532.15,719.30 532.87,717.55 533.59,715.77 534.31,713.99 535.03,712.19 535.75,710.38 536.47,708.56 537.19,706.72 537.91,704.87 538.64,703.01 539.36,701.14 540.08,699.26 540.80,697.37 541.52,695.47 542.24,693.56 542.96,691.64 543.68,689.71 544.40,687.77 545.12,685.82 545.84,683.86 546.57,681.90 547.29,679.92 548.01,677.94 548.73,675.96 549.45,673.96 550.17,671.96 550.89,669.95 551.61,667.94 552.33,665.92 553.05,663.90 553.77,661.87 554.50,659.83 555.22,657.80 555.94,655.75 556.66,653.71 557.38,651.66 558.10,649.61 558.82,647.55 559.54,645.49 560.26,643.43 560.98,641.37 561.70,639.31 562.43,637.24 563.15,635.18 563.87,633.11 564.59,631.05 565.31,628.98 566.03,626.92 566.75,624.85 567.47,622.79 568.19,620.72 568.91,618.66 569.63,616.61 570.36,614.55 571.08,612.49 571.80,610.44 572.52,608.40 573.24,606.35 573.96,604.31 574.68,602.27 575.40,600.24 576.12,598.22 576.84,596.19 577.57,594.18 578.29,592.17 579.01,590.16 579.73,588.16 580.45,586.17 581.17,584.18 581.89,582.21 582.61,580.24 583.33,578.27 584.05,576.32 584.77,574.37 585.50,572.43 586.22,570.50 586.94,568.59 587.66,566.68 588.38,564.77 589.10,562.88" fill="none" stroke="#cc2030" stroke-width="1.5" stroke-dasharray="0.01 5.2" stroke-linecap="round" clip-path="url(#cp2)"/>
<polyline points="84.57,631.59 85.29,637.83 86.01,643.84 86.73,649.62 87.46,655.17 88.18,660.49 88.90,665.59 89.62,670.48 90.34,675.15 91.06,679.61 91.78,683.86 92.50,687.92 93.22,691.77 93.94,695.43 94.66,698.89 95.39,702.17 96.11,705.26 96.83,708.18 97.55,710.91 98.27,713.47 98.99,715.86 99.71,718.08 100.43,720.13 101.15,722.02 101.87,723.76 102.60,725.34 103.32,726.77 104.04,728.05 104.76,729.19 105.48,730.19 106.92,731.76 108.36,732.81 109.80,733.35 111.97,733.27 113.41,732.65 114.85,731.60 116.29,730.16 117.73,728.33 118.46,727.28 119.18,726.15 119.90,724.93 120.62,723.62 121.34,722.24 122.06,720.78 122.78,719.25 123.50,717.65 124.22,715.97 124.94,714.23 125.66,712.42 126.39,710.56 127.11,708.63 127.83,706.64 128.55,704.60 129.27,702.51 129.99,700.37 130.71,698.17 131.43,695.93 132.15,693.65 132.87,691.32 133.60,688.95 134.32,686.55 135.04,684.11 135.76,681.63 136.48,679.13 137.20,676.59 137.92,674.02 138.64,671.43 139.36,668.82 140.08,666.18 140.80,663.52 141.53,660.84 142.25,658.14 142.97,655.43 143.69,652.70 144.41,649.97 145.13,647.22 145.85,644.46 146.57,641.69 147.29,638.92 148.01,636.15 148.73,633.37 149.46,630.59 150.18,627.81 150.90,625.03 151.62,622.26 152.34,619.49 153.06,616.72 153.78,613.97 154.50,611.22 155.22,608.48 155.94,605.75 156.66,603.03 157.39,600.33 158.11,597.64 158.83,594.97 159.55,592.32 160.27,589.68 160.99,587.06 161.71,584.46 162.43,581.89 163.15,579.33 163.87,576.80 164.59,574.29 165.32,571.81 166.04,569.36 166.76,566.93 167.48,564.53 168.20,562.15 168.92,559.81 169.64,557.50 170.36,555.22 171.08,552.97 171.80,550.75 172.53,548.57 173.25,546.42 173.97,544.30 174.69,542.22 175.41,540.18 176.13,538.17 176.85,536.20 177.57,534.27 178.29,532.37 179.01,530.52 179.73,528.70 180.46,526.93 181.18,525.19 181.90,523.50 182.62,521.84 183.34,520.23 184.06,518.66 184.78,517.13 185.50,515.65 186.22,514.21 186.94,512.81 187.66,511.45 188.39,510.14 189.11,508.87 189.83,507.65 190.55,506.48 191.27,505.34 191.99,504.25 192.71,503.21 193.43,502.22 194.15,501.26 194.87,500.36 196.32,498.68 197.76,497.19 199.20,495.89 200.64,494.77 202.08,493.83 203.52,493.08 204.97,492.51 206.41,492.12 207.85,491.91 210.01,491.94 211.46,492.19 212.90,492.61 214.34,493.20 215.78,493.97 217.22,494.91 218.66,496.01 220.11,497.29 221.55,498.72 222.99,500.32 224.43,502.07 225.15,503.01 225.87,503.98 226.59,504.99 227.32,506.03 228.04,507.12 228.76,508.24 229.48,509.40 230.20,510.59 230.92,511.81 231.64,513.08 232.36,514.37 233.08,515.70 233.80,517.06 234.52,518.46 235.25,519.89 235.97,521.34 236.69,522.83 237.41,524.35 238.13,525.90 238.85,527.49 239.57,529.09 240.29,530.73 241.01,532.40 241.73,534.09 242.46,535.81 243.18,537.56 243.90,539.33 244.62,541.13 245.34,542.95 246.06,544.79 246.78,546.66 247.50,548.55 248.22,550.47 248.94,552.41 249.66,554.36 250.39,556.34 251.11,558.34 251.83,560.36 252.55,562.39 253.27,564.45 253.99,566.52 254.71,568.61 255.43,570.72 256.15,572.84 256.87,574.97 257.59,577.13 258.32,579.29 259.04,581.47 259.76,583.66 260.48,585.87 261.20,588.08 261.92,590.31 262.64,592.55 263.36,594.80 264.08,597.05 264.80,599.32 265.52,601.59 266.25,603.87 266.97,606.16 267.69,608.45 268.41,610.75 269.13,613.06 269.85,615.37 270.57,617.68 271.29,620.00 272.01,622.32 272.73,624.64 273.45,626.96 274.18,629.29 274.90,631.61 275.62,633.94 276.34,636.26 277.06,638.58 277.78,640.90 278.50,643.22 279.22,645.54 279.94,647.85 280.66,650.16 281.39,652.46 282.11,654.76 282.83,657.05 283.55,659.33 284.27,661.61 284.99,663.88 285.71,666.15 286.43,668.40 287.15,670.65 287.87,672.88 288.59,675.11 289.32,677.33 290.04,679.53 290.76,681.72 291.48,683.91 292.20,686.07 292.92,688.23 293.64,690.37 294.36,692.50 295.08,694.62 295.80,696.71 296.52,698.80 297.25,700.87 297.97,702.92 298.69,704.95 299.41,706.97 300.13,708.97 300.85,710.95 301.57,712.92 302.29,714.86 303.01,716.79 303.73,718.70 304.45,720.58 305.18,722.45 305.90,724.29 306.62,726.12 307.34,727.92 308.06,729.70 308.78,731.46 309.50,733.19 310.22,734.91 310.94,736.59 311.66,738.26 312.38,739.90 313.11,741.52 313.83,743.11 314.55,744.68 315.27,746.22 315.99,747.73 316.71,749.22 317.43,750.69 318.15,752.12 318.87,753.53 319.59,754.92 320.32,756.27 321.04,757.60 321.76,758.90 322.48,760.18 323.20,761.42 323.92,762.64 324.64,763.82 325.36,764.98 326.08,766.11 326.80,767.21 327.52,768.28 328.25,769.32 328.97,770.33 329.69,771.31 330.41,772.26 331.13,773.18 331.85,774.07 333.29,775.76 334.73,777.32 336.18,778.76 337.62,780.07 339.06,781.26 340.50,782.32 341.94,783.25 343.38,784.05 344.83,784.72 346.27,785.27 347.71,785.69 349.15,785.98 350.59,786.14 352.76,786.13 354.20,785.97 355.64,785.69 357.08,785.27 358.52,784.73 359.97,784.07 361.41,783.28 362.85,782.36 364.29,781.32 365.73,780.17 367.18,778.89 368.62,777.49 370.06,775.98 371.50,774.35 372.94,772.60 373.66,771.69 374.38,770.75 375.11,769.78 375.83,768.78 376.55,767.75 377.27,766.70 377.99,765.62 378.71,764.52 379.43,763.38 380.15,762.23 380.87,761.04 381.59,759.83 382.31,758.60 383.04,757.34 383.76,756.05 384.48,754.75 385.20,753.41 385.92,752.06 386.64,750.68 387.36,749.27 388.08,747.85 388.80,746.40 389.52,744.92 390.25,743.43 390.97,741.91 391.69,740.38 392.41,738.82 393.13,737.24 393.85,735.64 394.57,734.02 395.29,732.38 396.01,730.72 396.73,729.04 397.45,727.35 398.18,725.63 398.90,723.90 399.62,722.15 400.34,720.38 401.06,718.59 401.78,716.79 402.50,714.97 403.22,713.14 403.94,711.29 404.66,709.42 405.38,707.54 406.11,705.64 406.83,703.74 407.55,701.81 408.27,699.88 408.99,697.93 409.71,695.96 410.43,693.99 411.15,692.00 411.87,690.01 412.59,688.00 413.31,685.98 414.04,683.95 414.76,681.91 415.48,679.86 416.20,677.80 416.92,675.74 417.64,673.66 418.36,671.58 419.08,669.49 419.80,667.39 420.52,665.28 421.24,663.17 421.97,661.06 422.69,658.93 423.41,656.81 424.13,654.67 424.85,652.54 425.57,650.39 426.29,648.25 427.01,646.10 427.73,643.95 428.45,641.80 429.18,639.64 429.90,637.49 430.62,635.33 431.34,633.17 432.06,631.01 432.78,628.85 433.50,626.70 434.22,624.54 434.94,622.38 435.66,620.23 436.38,618.07 437.11,615.92 437.83,613.77 438.55,611.63 439.27,609.49 439.99,607.35 440.71,605.22 441.43,603.09 442.15,600.97 442.87,598.85 443.59,596.73 444.31,594.63 445.04,592.53 445.76,590.44 446.48,588.35 447.20,586.27 447.92,584.20 448.64,582.14 449.36,580.09 450.08,578.05 450.80,576.01 451.52,573.99 452.24,571.97 452.97,569.97 453.69,567.98 454.41,566.00 455.13,564.03 455.85,562.07 456.57,560.12 457.29,558.19 458.01,556.27 458.73,554.36 459.45,552.47 460.17,550.59 460.90,548.73 461.62,546.88 462.34,545.04 463.06,543.22 463.78,541.41 464.50,539.63 465.22,537.85 465.94,536.10 466.66,534.36 467.38,532.63 468.11,530.93 468.83,529.24 469.55,527.57 470.27,525.92 470.99,524.28 471.71,522.67 472.43,521.07 473.15,519.49 473.87,517.94 474.59,516.40 475.31,514.88 476.04,513.38 476.76,511.91 477.48,510.45 478.20,509.01 478.92,507.60 479.64,506.21 480.36,504.83 481.08,503.49 481.80,502.16 482.52,500.85 483.24,499.57 483.97,498.31 484.69,497.07 485.41,495.86 486.13,494.67 486.85,493.50 487.57,492.36 488.29,491.24 489.01,490.14 489.73,489.07 490.45,488.03 491.17,487.00 491.90,486.01 492.62,485.03 493.34,484.09 494.06,483.16 494.78,482.27 496.22,480.55 497.66,478.93 499.11,477.42 500.55,476.01 501.99,474.71 503.43,473.51 504.87,472.42 506.31,471.44 507.76,470.57 509.20,469.80 510.64,469.15 512.08,468.60 513.52,468.16 514.97,467.83 516.41,467.61 518.57,467.49 520.73,467.61 522.17,467.83 523.62,468.16 525.06,468.59 526.50,469.14 527.94,469.79 529.38,470.54 530.83,471.41 532.27,472.38 533.71,473.45 535.15,474.63 536.59,475.92 538.04,477.30 539.48,478.79 540.92,480.37 542.36,482.06 543.08,482.94 543.80,483.84 544.52,484.77 545.24,485.72 545.97,486.69 546.69,487.69 547.41,488.71 548.13,489.76 548.85,490.83 549.57,491.92 550.29,493.03 551.01,494.17 551.73,495.33 552.45,496.51 553.17,497.71 553.90,498.94 554.62,500.18 555.34,501.45 556.06,502.74 556.78,504.05 557.50,505.38 558.22,506.73 558.94,508.10 559.66,509.49 560.38,510.90 561.10,512.33 561.83,513.78 562.55,515.24 563.27,516.73 563.99,518.24 564.71,519.76 565.43,521.30 566.15,522.86 566.87,524.43 567.59,526.03 568.31,527.64 569.03,529.26 569.76,530.90 570.48,532.56 571.20,534.24 571.92,535.93 572.64,537.63 573.36,539.35 574.08,541.09 574.80,542.84 575.52,544.60 576.24,546.38 576.97,548.17 577.69,549.98 578.41,551.79 579.13,553.62 579.85,555.46 580.57,557.32 581.29,559.18 582.01,561.06 582.73,562.95 583.45,564.85 584.17,566.76 584.90,568.68 585.62,570.61 586.34,572.55 587.06,574.50 587.78,576.46 588.50,578.42" fill="none" stroke="#000000" stroke-width="1.3" stroke-linejoin="round" clip-path="url(#cp2)"/>
<polyline points="84.57,631.60 85.29,638.00 86.01,644.13 86.73,650.02 87.46,655.65 88.18,661.04 88.90,666.19 89.62,671.11 90.34,675.80 91.06,680.26 91.78,684.49 92.50,688.51 93.22,692.32 93.94,695.92 94.66,699.31 95.39,702.50 96.11,705.50 96.83,708.30 97.55,710.91 98.27,713.34 98.99,715.59 99.71,717.66 100.43,719.55 101.15,721.28 101.87,722.84 102.60,724.24 103.32,725.49 104.04,726.57 104.76,727.51 106.20,728.95 107.64,729.82 109.08,730.17 110.53,730.00 111.97,729.36 113.41,728.27 114.85,726.75 115.57,725.84 116.29,724.83 117.01,723.72 117.73,722.53 118.46,721.24 119.18,719.87 119.90,718.42 120.62,716.89 121.34,715.28 122.06,713.59 122.78,711.84 123.50,710.01 124.22,708.12 124.94,706.16 125.66,704.15 126.39,702.07 127.11,699.94 127.83,697.76 128.55,695.52 129.27,693.24 129.99,690.91 130.71,688.53 131.43,686.12 132.15,683.66 132.87,681.17 133.60,678.64 134.32,676.08 135.04,673.49 135.76,670.87 136.48,668.23 137.20,665.56 137.92,662.87 138.64,660.15 139.36,657.42 140.08,654.68 140.80,651.91 141.53,649.14 142.25,646.35 142.97,643.56 143.69,640.75 144.41,637.95 145.13,635.13 145.85,632.32 146.57,629.50 147.29,626.69 148.01,623.88 148.73,621.07 149.46,618.26 150.18,615.47 150.90,612.68 151.62,609.90 152.34,607.13 153.06,604.38 153.78,601.64 154.50,598.91 155.22,596.20 155.94,593.51 156.66,590.84 157.39,588.19 158.11,585.55 158.83,582.94 159.55,580.36 160.27,577.80 160.99,575.26 161.71,572.75 162.43,570.27 163.15,567.81 163.87,565.39 164.59,562.99 165.32,560.63 166.04,558.30 166.76,556.00 167.48,553.74 168.20,551.51 168.92,549.31 169.64,547.15 170.36,545.03 171.08,542.94 171.80,540.90 172.53,538.89 173.25,536.92 173.97,534.99 174.69,533.10 175.41,531.25 176.13,529.44 176.85,527.68 177.57,525.96 178.29,524.28 179.01,522.64 179.73,521.05 180.46,519.50 181.18,517.99 181.90,516.53 182.62,515.12 183.34,513.75 184.06,512.43 184.78,511.15 185.50,509.92 186.22,508.74 186.94,507.60 187.66,506.51 188.39,505.46 189.11,504.47 189.83,503.52 190.55,502.61 191.99,500.95 193.43,499.48 194.87,498.20 196.32,497.11 197.76,496.21 199.20,495.50 200.64,494.99 202.08,494.65 204.25,494.51 206.41,494.78 207.85,495.19 209.29,495.78 210.73,496.55 212.18,497.49 213.62,498.60 215.06,499.89 216.50,501.34 217.94,502.96 219.39,504.74 220.11,505.69 220.83,506.68 221.55,507.70 222.27,508.77 222.99,509.87 223.71,511.01 224.43,512.18 225.15,513.39 225.87,514.64 226.59,515.92 227.32,517.24 228.04,518.59 228.76,519.97 229.48,521.39 230.20,522.84 230.92,524.32 231.64,525.84 232.36,527.38 233.08,528.96 233.80,530.56 234.52,532.19 235.25,533.86 235.97,535.55 236.69,537.27 237.41,539.01 238.13,540.78 238.85,542.58 239.57,544.40 240.29,546.25 241.01,548.12 241.73,550.01 242.46,551.93 243.18,553.87 243.90,555.83 244.62,557.81 245.34,559.82 246.06,561.84 246.78,563.88 247.50,565.94 248.22,568.02 248.94,570.11 249.66,572.22 250.39,574.35 251.11,576.49 251.83,578.65 252.55,580.82 253.27,583.01 253.99,585.20 254.71,587.42 255.43,589.64 256.15,591.87 256.87,594.11 257.59,596.37 258.32,598.63 259.04,600.90 259.76,603.18 260.48,605.47 261.20,607.76 261.92,610.06 262.64,612.36 263.36,614.67 264.08,616.98 264.80,619.30 265.52,621.62 266.25,623.94 266.97,626.27 267.69,628.59 268.41,630.92 269.13,633.24 269.85,635.57 270.57,637.89 271.29,640.22 272.01,642.54 272.73,644.85 273.45,647.17 274.18,649.48 274.90,651.78 275.62,654.08 276.34,656.38 277.06,658.66 277.78,660.95 278.50,663.22 279.22,665.48 279.94,667.74 280.66,669.99 281.39,672.23 282.11,674.46 282.83,676.67 283.55,678.88 284.27,681.08 284.99,683.26 285.71,685.43 286.43,687.59 287.15,689.73 287.87,691.86 288.59,693.97 289.32,696.07 290.04,698.16 290.76,700.22 291.48,702.28 292.20,704.31 292.92,706.33 293.64,708.33 294.36,710.31 295.08,712.27 295.80,714.21 296.52,716.14 297.25,718.04 297.97,719.92 298.69,721.79 299.41,723.63 300.13,725.45 300.85,727.25 301.57,729.02 302.29,730.78 303.01,732.51 303.73,734.21 304.45,735.90 305.18,737.56 305.90,739.19 306.62,740.80 307.34,742.39 308.06,743.95 308.78,745.48 309.50,746.99 310.22,748.47 310.94,749.92 311.66,751.35 312.38,752.75 313.11,754.13 313.83,755.47 314.55,756.79 315.27,758.08 315.99,759.35 316.71,760.58 317.43,761.78 318.15,762.96 318.87,764.11 319.59,765.22 320.32,766.31 321.04,767.37 321.76,768.40 322.48,769.39 323.20,770.36 323.92,771.30 324.64,772.20 326.08,773.92 327.52,775.52 328.97,776.99 330.41,778.33 331.85,779.55 333.29,780.64 334.73,781.60 336.18,782.43 337.62,783.13 339.06,783.71 340.50,784.15 341.94,784.47 343.38,784.66 345.55,784.70 347.71,784.45 349.15,784.13 350.59,783.67 352.04,783.10 353.48,782.39 354.92,781.57 356.36,780.62 357.80,779.54 359.25,778.35 360.69,777.04 362.13,775.61 363.57,774.06 365.01,772.39 366.45,770.62 367.18,769.69 367.90,768.73 368.62,767.74 369.34,766.73 370.06,765.69 370.78,764.62 371.50,763.53 372.22,762.41 372.94,761.26 373.66,760.09 374.38,758.89 375.11,757.67 375.83,756.42 376.55,755.15 377.27,753.85 377.99,752.53 378.71,751.19 379.43,749.82 380.15,748.43 380.87,747.01 381.59,745.58 382.31,744.12 383.04,742.64 383.76,741.13 384.48,739.61 385.20,738.06 385.92,736.50 386.64,734.91 387.36,733.30 388.08,731.67 388.80,730.03 389.52,728.36 390.25,726.68 390.97,724.98 391.69,723.26 392.41,721.52 393.13,719.76 393.85,717.99 394.57,716.20 395.29,714.39 396.01,712.57 396.73,710.74 397.45,708.88 398.18,707.02 398.90,705.14 399.62,703.24 400.34,701.33 401.06,699.41 401.78,697.47 402.50,695.52 403.22,693.56 403.94,691.59 404.66,689.61 405.38,687.61 406.11,685.61 406.83,683.59 407.55,681.57 408.27,679.53 408.99,677.49 409.71,675.44 410.43,673.38 411.15,671.31 411.87,669.23 412.59,667.15 413.31,665.06 414.04,662.96 414.76,660.86 415.48,658.75 416.20,656.64 416.92,654.52 417.64,652.40 418.36,650.27 419.08,648.14 419.80,646.01 420.52,643.87 421.24,641.74 421.97,639.60 422.69,637.45 423.41,635.31 424.13,633.17 424.85,631.02 425.57,628.88 426.29,626.74 427.01,624.59 427.73,622.45 428.45,620.31 429.18,618.17 429.90,616.04 430.62,613.90 431.34,611.77 432.06,609.65 432.78,607.53 433.50,605.41 434.22,603.29 434.94,601.18 435.66,599.08 436.38,596.98 437.11,594.89 437.83,592.81 438.55,590.73 439.27,588.66 439.99,586.59 440.71,584.54 441.43,582.49 442.15,580.45 442.87,578.42 443.59,576.40 444.31,574.39 445.04,572.39 445.76,570.40 446.48,568.42 447.20,566.45 447.92,564.50 448.64,562.55 449.36,560.62 450.08,558.70 450.80,556.79 451.52,554.90 452.24,553.01 452.97,551.15 453.69,549.29 454.41,547.46 455.13,545.63 455.85,543.82 456.57,542.03 457.29,540.25 458.01,538.49 458.73,536.74 459.45,535.01 460.17,533.30 460.90,531.60 461.62,529.92 462.34,528.26 463.06,526.62 463.78,524.99 464.50,523.39 465.22,521.80 465.94,520.23 466.66,518.68 467.38,517.15 468.11,515.64 468.83,514.15 469.55,512.68 470.27,511.23 470.99,509.80 471.71,508.39 472.43,507.01 473.15,505.64 473.87,504.30 474.59,502.97 475.31,501.67 476.04,500.39 476.76,499.14 477.48,497.91 478.20,496.70 478.92,495.51 479.64,494.34 480.36,493.20 481.08,492.09 481.80,490.99 482.52,489.92 483.24,488.88 483.97,487.85 484.69,486.86 485.41,485.88 486.13,484.94 486.85,484.01 487.57,483.11 489.01,481.39 490.45,479.77 491.90,478.25 493.34,476.84 494.78,475.53 496.22,474.32 497.66,473.22 499.11,472.22 500.55,471.33 501.99,470.55 503.43,469.87 504.87,469.31 506.31,468.85 507.76,468.49 509.20,468.25 511.36,468.08 513.52,468.16 514.97,468.35 516.41,468.64 517.85,469.04 519.29,469.55 520.73,470.16 522.17,470.88 523.62,471.70 525.06,472.63 526.50,473.66 527.94,474.79 529.38,476.03 530.83,477.36 532.27,478.80 533.71,480.34 535.15,481.97 536.59,483.70 537.31,484.60 538.04,485.52 538.76,486.47 539.48,487.44 540.20,488.43 540.92,489.45 541.64,490.49 542.36,491.55 543.08,492.64 543.80,493.74 544.52,494.87 545.24,496.02 545.97,497.19 546.69,498.39 547.41,499.60 548.13,500.84 548.85,502.10 549.57,503.37 550.29,504.67 551.01,505.99 551.73,507.33 552.45,508.69 553.17,510.06 553.90,511.46 554.62,512.88 555.34,514.31 556.06,515.76 556.78,517.23 557.50,518.72 558.22,520.23 558.94,521.76 559.66,523.30 560.38,524.86 561.10,526.43 561.83,528.03 562.55,529.64 563.27,531.26 563.99,532.90 564.71,534.56 565.43,536.23 566.15,537.91 566.87,539.62 567.59,541.33 568.31,543.06 569.03,544.80 569.76,546.56 570.48,548.33 571.20,550.12 571.92,551.91 572.64,553.72 573.36,555.54 574.08,557.37 574.80,559.22 575.52,561.07 576.24,562.94 576.97,564.81 577.69,566.70 578.41,568.60 579.13,570.50 579.85,572.42 580.57,574.35 581.29,576.28 582.01,578.22 582.73,580.17 583.45,582.13 584.17,584.10 584.90,586.07 585.62,588.05 586.34,590.04 587.06,592.04 587.78,594.04 588.50,596.04" fill="none" stroke="#000000" stroke-width="1.5" stroke-dasharray="0.01 5.2" stroke-linecap="round" clip-path="url(#cp2)"/>
<polyline points="85.60,985.22 87.60,985.79 89.60,986.36 91.60,986.94 93.60,987.51 95.60,988.08 97.60,988.65 99.60,989.22 101.60,989.79 103.60,990.36 105.60,990.93 107.60,991.50 109.60,992.08 111.60,992.65 113.60,993.22 115.60,993.79 117.60,994.36 119.60,994.93 121.60,995.50 123.60,996.07 125.60,996.65 127.60,997.22 129.60,997.79 131.60,998.36 133.60,998.93 135.60,999.50 137.60,1000.07 139.60,1000.64 141.60,1001.22 143.60,1001.79 145.60,1002.36 147.60,1002.93 149.60,1003.50 151.60,1004.07 153.60,1004.64 155.60,1005.21 157.60,1005.79 159.60,1006.36 161.60,1006.93 163.60,1007.50 165.60,1008.07 167.60,1008.64 169.60,1009.21 171.60,1009.78 173.60,1010.36 175.60,1010.93 177.60,1011.50 179.60,1012.07 181.60,1012.64 183.60,1013.21 185.60,1013.78 187.60,1014.35 189.60,1014.92 191.60,1015.50 193.60,1016.07 195.60,1016.64 197.60,1017.21 199.60,1017.78 201.60,1018.35 203.60,1018.92 205.60,1019.49 207.60,1020.07 209.60,1020.64 211.60,1021.21 213.60,1021.78 215.60,1022.35 217.60,1022.92 219.60,1023.49 221.60,1024.06 223.60,1024.64 225.60,1025.21 227.60,1025.78 229.60,1026.35 231.60,1026.92 233.60,1027.49 235.60,1028.06 237.60,1028.63 239.60,1029.21 241.60,1029.78 243.60,1030.34 245.60,1030.91 247.60,1031.48 249.60,1032.04 251.60,1032.61 253.60,1033.17 255.60,1033.74 257.60,1034.30 259.60,1034.86 261.60,1035.43 263.60,1036.00 265.60,1036.57 267.60,1037.14 269.60,1037.72 271.60,1038.30 273.60,1038.88 275.60,1039.47 277.60,1040.06 279.60,1040.66 281.60,1041.26 283.60,1041.87 285.60,1042.48 287.60,1043.10 289.60,1043.72 291.60,1044.35 293.60,1044.98 295.60,1045.61 297.60,1046.25 299.60,1046.88 301.60,1047.52 303.60,1048.16 305.60,1048.80 307.60,1049.44 309.60,1050.09 311.60,1050.74 313.60,1051.40 315.60,1052.06 317.60,1052.72 319.60,1053.38 321.60,1054.05 323.60,1054.72 325.60,1055.40 327.60,1056.08 329.60,1056.76 331.60,1057.45 333.60,1058.14 335.60,1058.83 337.60,1059.53 339.60,1060.23 341.60,1060.94 343.60,1061.65 345.60,1062.37 347.60,1063.08 349.60,1063.81 351.60,1064.53 353.60,1065.27 355.60,1066.00 357.60,1066.75 359.60,1067.49 361.60,1068.25 363.60,1069.01 365.60,1069.78 367.60,1070.55 369.60,1071.33 371.60,1072.12 373.60,1072.92 375.60,1073.73 377.60,1074.55 379.60,1075.37 381.60,1076.21 383.60,1077.06 385.60,1077.91 387.60,1078.78 389.60,1079.66 391.60,1080.55 393.60,1081.46 395.60,1082.37 397.60,1083.30 399.60,1084.25 401.60,1085.20 403.60,1086.17 405.60,1087.16 407.60,1088.16 409.60,1089.17 411.60,1090.21 413.60,1091.25 415.60,1092.32 417.60,1093.40 419.60,1094.49 421.60,1095.61 423.60,1096.74 425.60,1097.89 427.60,1099.06 429.60,1100.25 431.60,1101.46 433.60,1102.69 435.60,1103.94 437.60,1105.21 439.60,1106.49 441.60,1107.81 443.60,1109.14 445.60,1110.49 447.60,1111.87 449.60,1113.27 451.60,1114.70 453.60,1116.14 455.60,1117.61 457.60,1119.11 459.60,1120.63 461.60,1122.18 463.60,1123.75 465.60,1125.34 467.60,1126.97 469.60,1128.62 471.60,1130.29 473.60,1132.00 475.60,1133.73 477.60,1135.49 479.60,1137.28 481.60,1139.10 483.60,1140.94 485.60,1142.82 487.60,1144.72 489.60,1146.65 491.60,1148.61 493.60,1150.59 495.60,1152.59 497.60,1154.62 499.60,1156.68 501.60,1158.76 503.60,1160.86 505.60,1162.98 507.60,1165.13 509.60,1167.30 511.60,1169.48 513.60,1171.69 515.60,1173.92 517.60,1176.17 519.60,1178.43 521.60,1180.72 523.60,1183.02 525.60,1185.34 527.60,1187.67 529.60,1190.02 531.60,1192.39 533.60,1194.77 535.60,1197.16 537.60,1199.57 539.60,1201.99 541.60,1204.42 543.60,1206.87 545.60,1209.33 547.60,1211.79 549.60,1214.27 551.60,1216.76 553.60,1219.26 555.60,1221.76 557.60,1224.27 559.60,1226.79 561.60,1229.32 563.60,1231.85 565.60,1234.39 567.60,1236.94 569.60,1239.49 571.60,1242.04 573.60,1244.60 575.60,1247.16 577.60,1249.72 579.60,1252.29 581.60,1254.85 583.60,1257.42 585.60,1259.98 587.60,1262.55 589.60,1265.12 591.60,1267.68 593.60,1270.24" fill="none" stroke="#7020d4" stroke-width="1.25" stroke-linejoin="round" clip-path="url(#cp3)"/>
<polyline points="501.60,1159.46 503.60,1161.56 505.60,1163.68 507.60,1165.83 509.60,1168.00 511.60,1170.18 513.60,1172.39 515.60,1174.62 517.60,1176.87 519.60,1179.13 521.60,1181.42 523.60,1183.72 525.60,1186.04 527.60,1188.37 529.60,1190.72 531.60,1193.09 533.60,1195.47 535.60,1197.86 537.60,1200.27 539.60,1202.69 541.60,1205.12 543.60,1207.57 545.60,1210.03 547.60,1212.49 549.60,1214.97 551.60,1217.46 553.60,1219.96 555.60,1222.46 557.60,1224.97 559.60,1227.49 561.60,1230.02 563.60,1232.55 565.60,1235.09 567.60,1237.64 569.60,1240.19 571.60,1242.74 573.60,1245.30 575.60,1247.86 577.60,1250.42 579.60,1252.99 581.60,1255.55 583.60,1258.12 585.60,1260.68 587.60,1263.25 589.60,1265.82 591.60,1268.38 593.60,1270.94" fill="none" stroke="#7020d4" stroke-width="1.5" stroke-dasharray="0.01 5.4" stroke-linecap="round" clip-path="url(#cp3)"/>
<polyline points="85.60,969.19 87.60,969.76 89.60,970.33 91.60,970.90 93.60,971.47 95.60,972.04 97.60,972.61 99.60,973.18 101.60,973.76 103.60,974.33 105.60,974.90 107.60,975.47 109.60,976.04 111.60,976.61 113.60,977.18 115.60,977.75 117.60,978.33 119.60,978.90 121.60,979.47 123.60,980.04 125.60,980.61 127.60,981.18 129.60,981.75 131.60,982.32 133.60,982.89 135.60,983.47 137.60,984.04 139.60,984.61 141.60,985.18 143.60,985.75 145.60,986.32 147.60,986.89 149.60,987.46 151.60,988.04 153.60,988.61 155.60,989.18 157.60,989.75 159.60,990.32 161.60,990.89 163.60,991.46 165.60,992.03 167.60,992.61 169.60,993.18 171.60,993.75 173.60,994.32 175.60,994.89 177.60,995.46 179.60,996.03 181.60,996.60 183.60,997.18 185.60,997.75 187.60,998.32 189.60,998.89 191.60,999.46 193.60,1000.03 195.60,1000.60 197.60,1001.17 199.60,1001.75 201.60,1002.32 203.60,1002.89 205.60,1003.46 207.60,1004.03 209.60,1004.60 211.60,1005.17 213.60,1005.74 215.60,1006.31 217.60,1006.89 219.60,1007.46 221.60,1008.03 223.60,1008.60 225.60,1009.17 227.60,1009.74 229.60,1010.31 231.60,1010.88 233.60,1011.46 235.60,1012.03 237.60,1012.60 239.60,1013.17 241.60,1013.74 243.60,1014.31 245.60,1014.88 247.60,1015.45 249.60,1016.02 251.60,1016.59 253.60,1017.17 255.60,1017.74 257.60,1018.31 259.60,1018.88 261.60,1019.45 263.60,1020.03 265.60,1020.60 267.60,1021.18 269.60,1021.76 271.60,1022.34 273.60,1022.92 275.60,1023.50 277.60,1024.08 279.60,1024.66 281.60,1025.25 283.60,1025.84 285.60,1026.42 287.60,1027.01 289.60,1027.60 291.60,1028.19 293.60,1028.79 295.60,1029.38 297.60,1029.97 299.60,1030.56 301.60,1031.15 303.60,1031.75 305.60,1032.34 307.60,1032.93 309.60,1033.53 311.60,1034.13 313.60,1034.72 315.60,1035.32 317.60,1035.92 319.60,1036.52 321.60,1037.12 323.60,1037.72 325.60,1038.32 327.60,1038.93 329.60,1039.53 331.60,1040.14 333.60,1040.74 335.60,1041.35 337.60,1041.96 339.60,1042.57 341.60,1043.18 343.60,1043.79 345.60,1044.41 347.60,1045.02 349.60,1045.64 351.60,1046.26 353.60,1046.88 355.60,1047.51 357.60,1048.14 359.60,1048.77 361.60,1049.40 363.60,1050.04 365.60,1050.68 367.60,1051.33 369.60,1051.98 371.60,1052.64 373.60,1053.30 375.60,1053.96 377.60,1054.63 379.60,1055.31 381.60,1055.99 383.60,1056.68 385.60,1057.38 387.60,1058.08 389.60,1058.79 391.60,1059.50 393.60,1060.23 395.60,1060.96 397.60,1061.70 399.60,1062.44 401.60,1063.20 403.60,1063.96 405.60,1064.73 407.60,1065.51 409.60,1066.30 411.60,1067.10 413.60,1067.91 415.60,1068.73 417.60,1069.56 419.60,1070.40 421.60,1071.25 423.60,1072.12 425.60,1072.99 427.60,1073.87 429.60,1074.77 431.60,1075.68 433.60,1076.60 435.60,1077.53 437.60,1078.47 439.60,1079.43 441.60,1080.40 443.60,1081.39 445.60,1082.39 447.60,1083.40 449.60,1084.42 451.60,1085.46 453.60,1086.52 455.60,1087.59 457.60,1088.67 459.60,1089.77 461.60,1090.89 463.60,1092.02 465.60,1093.17 467.60,1094.33 469.60,1095.51 471.60,1096.71 473.60,1097.92 475.60,1099.15 477.60,1100.40 479.60,1101.67 481.60,1102.95 483.60,1104.25 485.60,1105.57 487.60,1106.91 489.60,1108.27 491.60,1109.65 493.60,1111.05 495.60,1112.46 497.60,1113.90 499.60,1115.36 501.60,1116.83 503.60,1118.33 505.60,1119.85 507.60,1121.38 509.60,1122.94 511.60,1124.51 513.60,1126.10 515.60,1127.71 517.60,1129.34 519.60,1130.99 521.60,1132.65 523.60,1134.33 525.60,1136.03 527.60,1137.74 529.60,1139.47 531.60,1141.21 533.60,1142.97 535.60,1144.75 537.60,1146.54 539.60,1148.34 541.60,1150.16 543.60,1151.99 545.60,1153.83 547.60,1155.69 549.60,1157.56 551.60,1159.44 553.60,1161.33 555.60,1163.24 557.60,1165.15 559.60,1167.08 561.60,1169.02 563.60,1170.97 565.60,1172.93 567.60,1174.90 569.60,1176.87 571.60,1178.86 573.60,1180.85 575.60,1182.86 577.60,1184.87 579.60,1186.89 581.60,1188.91 583.60,1190.95 585.60,1192.99 587.60,1195.03 589.60,1197.09 591.60,1199.14 593.60,1201.21" fill="none" stroke="#e27a2c" stroke-width="1.25" stroke-linejoin="round" clip-path="url(#cp3)"/>
<polyline points="521.60,1133.35 523.60,1135.03 525.60,1136.73 527.60,1138.44 529.60,1140.17 531.60,1141.91 533.60,1143.67 535.60,1145.45 537.60,1147.24 539.60,1149.04 541.60,1150.86 543.60,1152.69 545.60,1154.53 547.60,1156.39 549.60,1158.26 551.60,1160.14 553.60,1162.03 555.60,1163.94 557.60,1165.85 559.60,1167.78 561.60,1169.72 563.60,1171.67 565.60,1173.63 567.60,1175.60 569.60,1177.57 571.60,1179.56 573.60,1181.55 575.60,1183.56 577.60,1185.57 579.60,1187.59 581.60,1189.61 583.60,1191.65 585.60,1193.69 587.60,1195.73 589.60,1197.79 591.60,1199.84 593.60,1201.91" fill="none" stroke="#e27a2c" stroke-width="1.5" stroke-dasharray="0.01 5.4" stroke-linecap="round" clip-path="url(#cp3)"/>
<polyline points="85.60,963.31 87.60,963.89 89.60,964.46 91.60,965.03 93.60,965.60 95.60,966.17 97.60,966.74 99.60,967.31 101.60,967.88 103.60,968.46 105.60,969.03 107.60,969.60 109.60,970.17 111.60,970.74 113.60,971.31 115.60,971.88 117.60,972.45 119.60,973.03 121.60,973.60 123.60,974.17 125.60,974.74 127.60,975.31 129.60,975.88 131.60,976.45 133.60,977.02 135.60,977.59 137.60,978.17 139.60,978.74 141.60,979.31 143.60,979.88 145.60,980.45 147.60,981.02 149.60,981.59 151.60,982.16 153.60,982.74 155.60,983.31 157.60,983.88 159.60,984.45 161.60,985.02 163.60,985.59 165.60,986.16 167.60,986.73 169.60,987.31 171.60,987.88 173.60,988.45 175.60,989.02 177.60,989.59 179.60,990.16 181.60,990.73 183.60,991.30 185.60,991.88 187.60,992.45 189.60,993.02 191.60,993.59 193.60,994.16 195.60,994.73 197.60,995.30 199.60,995.87 201.60,996.45 203.60,997.02 205.60,997.59 207.60,998.16 209.60,998.73 211.60,999.30 213.60,999.87 215.60,1000.44 217.60,1001.01 219.60,1001.59 221.60,1002.16 223.60,1002.73 225.60,1003.30 227.60,1003.87 229.60,1004.44 231.60,1005.01 233.60,1005.58 235.60,1006.16 237.60,1006.73 239.60,1007.30 241.60,1007.87 243.60,1008.44 245.60,1009.01 247.60,1009.58 249.60,1010.15 251.60,1010.72 253.60,1011.29 255.60,1011.86 257.60,1012.43 259.60,1013.00 261.60,1013.57 263.60,1014.14 265.60,1014.71 267.60,1015.28 269.60,1015.86 271.60,1016.43 273.60,1017.00 275.60,1017.57 277.60,1018.14 279.60,1018.72 281.60,1019.29 283.60,1019.86 285.60,1020.44 287.60,1021.01 289.60,1021.59 291.60,1022.16 293.60,1022.74 295.60,1023.32 297.60,1023.89 299.60,1024.47 301.60,1025.05 303.60,1025.62 305.60,1026.20 307.60,1026.78 309.60,1027.36 311.60,1027.94 313.60,1028.52 315.60,1029.09 317.60,1029.67 319.60,1030.25 321.60,1030.83 323.60,1031.42 325.60,1032.00 327.60,1032.58 329.60,1033.16 331.60,1033.74 333.60,1034.32 335.60,1034.91 337.60,1035.49 339.60,1036.07 341.60,1036.66 343.60,1037.24 345.60,1037.83 347.60,1038.41 349.60,1039.00 351.60,1039.59 353.60,1040.18 355.60,1040.77 357.60,1041.36 359.60,1041.95 361.60,1042.54 363.60,1043.14 365.60,1043.74 367.60,1044.33 369.60,1044.93 371.60,1045.54 373.60,1046.14 375.60,1046.75 377.60,1047.36 379.60,1047.97 381.60,1048.58 383.60,1049.20 385.60,1049.81 387.60,1050.44 389.60,1051.06 391.60,1051.69 393.60,1052.32 395.60,1052.95 397.60,1053.58 399.60,1054.22 401.60,1054.87 403.60,1055.51 405.60,1056.16 407.60,1056.82 409.60,1057.47 411.60,1058.14 413.60,1058.80 415.60,1059.47 417.60,1060.15 419.60,1060.82 421.60,1061.51 423.60,1062.19 425.60,1062.89 427.60,1063.58 429.60,1064.28 431.60,1064.99 433.60,1065.70 435.60,1066.42 437.60,1067.14 439.60,1067.87 441.60,1068.60 443.60,1069.34 445.60,1070.08 447.60,1070.83 449.60,1071.59 451.60,1072.35 453.60,1073.12 455.60,1073.89 457.60,1074.67 459.60,1075.46 461.60,1076.25 463.60,1077.05 465.60,1077.85 467.60,1078.67 469.60,1079.49 471.60,1080.31 473.60,1081.15 475.60,1081.99 477.60,1082.83 479.60,1083.69 481.60,1084.55 483.60,1085.42 485.60,1086.30 487.60,1087.19 489.60,1088.09 491.60,1088.99 493.60,1089.90 495.60,1090.83 497.60,1091.76 499.60,1092.71 501.60,1093.66 503.60,1094.63 505.60,1095.61 507.60,1096.59 509.60,1097.60 511.60,1098.61 513.60,1099.64 515.60,1100.67 517.60,1101.73 519.60,1102.79 521.60,1103.87 523.60,1104.97 525.60,1106.08 527.60,1107.20 529.60,1108.34 531.60,1109.49 533.60,1110.66 535.60,1111.85 537.60,1113.05 539.60,1114.27 541.60,1115.51 543.60,1116.76 545.60,1118.04 547.60,1119.33 549.60,1120.65 551.60,1121.99 553.60,1123.35 555.60,1124.73 557.60,1126.15 559.60,1127.58 561.60,1129.05 563.60,1130.54 565.60,1132.06 567.60,1133.61 569.60,1135.20 571.60,1136.82 573.60,1138.47 575.60,1140.15 577.60,1141.87 579.60,1143.63 581.60,1145.42 583.60,1147.25 585.60,1149.13 587.60,1151.04 589.60,1153.00 591.60,1154.99 593.60,1157.04" fill="none" stroke="#9c9c9c" stroke-width="1.25" stroke-linejoin="round" clip-path="url(#cp3)"/>
<polyline points="85.60,958.69 87.60,959.26 89.60,959.83 91.60,960.40 93.60,960.97 95.60,961.54 97.60,962.11 99.60,962.68 101.60,963.26 103.60,963.83 105.60,964.40 107.60,964.97 109.60,965.54 111.60,966.11 113.60,966.68 115.60,967.25 117.60,967.83 119.60,968.40 121.60,968.97 123.60,969.54 125.60,970.11 127.60,970.68 129.60,971.25 131.60,971.82 133.60,972.39 135.60,972.97 137.60,973.54 139.60,974.11 141.60,974.68 143.60,975.25 145.60,975.82 147.60,976.39 149.60,976.96 151.60,977.54 153.60,978.11 155.60,978.68 157.60,979.25 159.60,979.82 161.60,980.39 163.60,980.96 165.60,981.53 167.60,982.11 169.60,982.68 171.60,983.25 173.60,983.82 175.60,984.39 177.60,984.96 179.60,985.53 181.60,986.10 183.60,986.68 185.60,987.25 187.60,987.82 189.60,988.39 191.60,988.96 193.60,989.53 195.60,990.10 197.60,990.67 199.60,991.25 201.60,991.82 203.60,992.39 205.60,992.96 207.60,993.53 209.60,994.10 211.60,994.67 213.60,995.24 215.60,995.81 217.60,996.39 219.60,996.96 221.60,997.53 223.60,998.10 225.60,998.67 227.60,999.24 229.60,999.81 231.60,1000.38 233.60,1000.96 235.60,1001.53 237.60,1002.10 239.60,1002.67 241.60,1003.24 243.60,1003.81 245.60,1004.38 247.60,1004.95 249.60,1005.53 251.60,1006.10 253.60,1006.67 255.60,1007.24 257.60,1007.81 259.60,1008.39 261.60,1008.96 263.60,1009.53 265.60,1010.11 267.60,1010.68 269.60,1011.25 271.60,1011.83 273.60,1012.41 275.60,1012.98 277.60,1013.56 279.60,1014.13 281.60,1014.71 283.60,1015.29 285.60,1015.87 287.60,1016.45 289.60,1017.03 291.60,1017.60 293.60,1018.18 295.60,1018.76 297.60,1019.34 299.60,1019.92 301.60,1020.50 303.60,1021.08 305.60,1021.66 307.60,1022.24 309.60,1022.81 311.60,1023.39 313.60,1023.97 315.60,1024.55 317.60,1025.14 319.60,1025.72 321.60,1026.30 323.60,1026.88 325.60,1027.46 327.60,1028.04 329.60,1028.63 331.60,1029.21 333.60,1029.79 335.60,1030.37 337.60,1030.96 339.60,1031.54 341.60,1032.13 343.60,1032.71 345.60,1033.30 347.60,1033.88 349.60,1034.47 351.60,1035.05 353.60,1035.64 355.60,1036.23 357.60,1036.81 359.60,1037.40 361.60,1037.99 363.60,1038.58 365.60,1039.17 367.60,1039.76 369.60,1040.35 371.60,1040.94 373.60,1041.53 375.60,1042.12 377.60,1042.71 379.60,1043.30 381.60,1043.89 383.60,1044.49 385.60,1045.08 387.60,1045.67 389.60,1046.27 391.60,1046.86 393.60,1047.45 395.60,1048.05 397.60,1048.65 399.60,1049.24 401.60,1049.84 403.60,1050.44 405.60,1051.03 407.60,1051.63 409.60,1052.23 411.60,1052.84 413.60,1053.44 415.60,1054.05 417.60,1054.66 419.60,1055.27 421.60,1055.88 423.60,1056.50 425.60,1057.12 427.60,1057.75 429.60,1058.38 431.60,1059.01 433.60,1059.65 435.60,1060.29 437.60,1060.94 439.60,1061.59 441.60,1062.25 443.60,1062.92 445.60,1063.59 447.60,1064.26 449.60,1064.95 451.60,1065.64 453.60,1066.33 455.60,1067.04 457.60,1067.75 459.60,1068.47 461.60,1069.20 463.60,1069.94 465.60,1070.68 467.60,1071.43 469.60,1072.20 471.60,1072.97 473.60,1073.75 475.60,1074.54 477.60,1075.35 479.60,1076.16 481.60,1076.98 483.60,1077.82 485.60,1078.66 487.60,1079.52 489.60,1080.39 491.60,1081.27 493.60,1082.16 495.60,1083.06 497.60,1083.98 499.60,1084.91 501.60,1085.85 503.60,1086.81 505.60,1087.78 507.60,1088.77 509.60,1089.77 511.60,1090.78 513.60,1091.81 515.60,1092.85 517.60,1093.91 519.60,1094.98 521.60,1096.07 523.60,1097.18 525.60,1098.30 527.60,1099.44 529.60,1100.59 531.60,1101.77 533.60,1102.96 535.60,1104.16 537.60,1105.39 539.60,1106.63 541.60,1107.89 543.60,1109.17 545.60,1110.47 547.60,1111.79 549.60,1113.13 551.60,1114.48 553.60,1115.86 555.60,1117.26 557.60,1118.68 559.60,1120.11 561.60,1121.57 563.60,1123.05 565.60,1124.55 567.60,1126.08 569.60,1127.62 571.60,1129.19 573.60,1130.78 575.60,1132.39 577.60,1134.02 579.60,1135.68 581.60,1137.36 583.60,1139.07 585.60,1140.80 587.60,1142.55 589.60,1144.33 591.60,1146.13 593.60,1147.96" fill="none" stroke="#30dc84" stroke-width="1.25" stroke-linejoin="round" clip-path="url(#cp3)"/>
<polyline points="85.60,928.82 87.60,929.39 89.60,929.96 91.60,930.53 93.60,931.11 95.60,931.68 97.60,932.25 99.60,932.82 101.60,933.39 103.60,933.96 105.60,934.53 107.60,935.10 109.60,935.68 111.60,936.25 113.60,936.82 115.60,937.39 117.60,937.96 119.60,938.53 121.60,939.10 123.60,939.67 125.60,940.24 127.60,940.82 129.60,941.39 131.60,941.96 133.60,942.53 135.60,943.10 137.60,943.67 139.60,944.24 141.60,944.81 143.60,945.39 145.60,945.96 147.60,946.53 149.60,947.10 151.60,947.67 153.60,948.24 155.60,948.81 157.60,949.38 159.60,949.96 161.60,950.53 163.60,951.10 165.60,951.67 167.60,952.24 169.60,952.81 171.60,953.38 173.60,953.95 175.60,954.53 177.60,955.10 179.60,955.67 181.60,956.24 183.60,956.81 185.60,957.38 187.60,957.95 189.60,958.52 191.60,959.09 193.60,959.67 195.60,960.24 197.60,960.81 199.60,961.38 201.60,961.95 203.60,962.52 205.60,963.09 207.60,963.66 209.60,964.24 211.60,964.81 213.60,965.38 215.60,965.95 217.60,966.52 219.60,967.09 221.60,967.66 223.60,968.23 225.60,968.81 227.60,969.38 229.60,969.95 231.60,970.52 233.60,971.09 235.60,971.66 237.60,972.23 239.60,972.80 241.60,973.37 243.60,973.94 245.60,974.51 247.60,975.08 249.60,975.65 251.60,976.22 253.60,976.78 255.60,977.36 257.60,977.93 259.60,978.50 261.60,979.08 263.60,979.66 265.60,980.25 267.60,980.84 269.60,981.44 271.60,982.04 273.60,982.65 275.60,983.27 277.60,983.89 279.60,984.52 281.60,985.16 283.60,985.81 285.60,986.46 287.60,987.12 289.60,987.78 291.60,988.45 293.60,989.12 295.60,989.79 297.60,990.46 299.60,991.13 301.60,991.81 303.60,992.48 305.60,993.16 307.60,993.84 309.60,994.53 311.60,995.22 313.60,995.92 315.60,996.62 317.60,997.33 319.60,998.04 321.60,998.75 323.60,999.47 325.60,1000.19 327.60,1000.92 329.60,1001.66 331.60,1002.39 333.60,1003.14 335.60,1003.89 337.60,1004.64 339.60,1005.40 341.60,1006.17 343.60,1006.94 345.60,1007.71 347.60,1008.49 349.60,1009.28 351.60,1010.07 353.60,1010.87 355.60,1011.68 357.60,1012.49 359.60,1013.30 361.60,1014.12 363.60,1014.95 365.60,1015.79 367.60,1016.63 369.60,1017.48 371.60,1018.33 373.60,1019.19 375.60,1020.05 377.60,1020.93 379.60,1021.81 381.60,1022.69 383.60,1023.59 385.60,1024.49 387.60,1025.39 389.60,1026.31 391.60,1027.23 393.60,1028.16 395.60,1029.09 397.60,1030.04 399.60,1030.99 401.60,1031.96 403.60,1032.94 405.60,1033.93 407.60,1034.94 409.60,1035.96 411.60,1037.00 413.60,1038.05 415.60,1039.12 417.60,1040.21 419.60,1041.32 421.60,1042.45 423.60,1043.61 425.60,1044.78 427.60,1045.98 429.60,1047.20 431.60,1048.45 433.60,1049.72 435.60,1051.02 437.60,1052.35 439.60,1053.71 441.60,1055.10 443.60,1056.52 445.60,1057.97 447.60,1059.45 449.60,1060.97 451.60,1062.51 453.60,1064.09 455.60,1065.70 457.60,1067.33 459.60,1068.99 461.60,1070.68 463.60,1072.39 465.60,1074.13 467.60,1075.89 469.60,1077.67 471.60,1079.48 473.60,1081.30 475.60,1083.14 477.60,1085.00 479.60,1086.88 481.60,1088.78 483.60,1090.69 485.60,1092.61 487.60,1094.55 489.60,1096.50 491.60,1098.46 493.60,1100.43 495.60,1102.41 497.60,1104.40 499.60,1106.39 501.60,1108.40 503.60,1110.41 505.60,1112.42 507.60,1114.45 509.60,1116.49 511.60,1118.55 513.60,1120.62 515.60,1122.71 517.60,1124.81 519.60,1126.94 521.60,1129.09 523.60,1131.27 525.60,1133.47 527.60,1135.69 529.60,1137.95 531.60,1140.24 533.60,1142.56 535.60,1144.91 537.60,1147.30 539.60,1149.72 541.60,1152.19 543.60,1154.69 545.60,1157.22 547.60,1159.78 549.60,1162.37 551.60,1164.98 553.60,1167.61 555.60,1170.26 557.60,1172.91 559.60,1175.58 561.60,1178.24 563.60,1180.91 565.60,1183.58 567.60,1186.24 569.60,1188.89 571.60,1191.52 573.60,1194.14 575.60,1196.74 577.60,1199.32 579.60,1201.86 581.60,1204.38 583.60,1206.86 585.60,1209.30 587.60,1211.70 589.60,1214.06 591.60,1216.36 593.60,1218.61" fill="none" stroke="#e020e0" stroke-width="1.25" stroke-linejoin="round" clip-path="url(#cp3)"/>
<polyline points="481.60,1089.48 483.60,1091.39 485.60,1093.31 487.60,1095.25 489.60,1097.20 491.60,1099.16 493.60,1101.13 495.60,1103.11 497.60,1105.10 499.60,1107.09 501.60,1109.10 503.60,1111.11 505.60,1113.12 507.60,1115.15 509.60,1117.19 511.60,1119.25 513.60,1121.32 515.60,1123.41 517.60,1125.51 519.60,1127.64 521.60,1129.79 523.60,1131.97 525.60,1134.17 527.60,1136.39 529.60,1138.65 531.60,1140.94 533.60,1143.26 535.60,1145.61 537.60,1148.00 539.60,1150.42 541.60,1152.89 543.60,1155.39 545.60,1157.92 547.60,1160.48 549.60,1163.07 551.60,1165.68 553.60,1168.31 555.60,1170.96 557.60,1173.61 559.60,1176.28 561.60,1178.94 563.60,1181.61 565.60,1184.28 567.60,1186.94 569.60,1189.59 571.60,1192.22 573.60,1194.84 575.60,1197.44 577.60,1200.02 579.60,1202.56 581.60,1205.08 583.60,1207.56 585.60,1210.00 587.60,1212.40 589.60,1214.76 591.60,1217.06 593.60,1219.31" fill="none" stroke="#e020e0" stroke-width="1.5" stroke-dasharray="0.01 5.4" stroke-linecap="round" clip-path="url(#cp3)"/>
<polyline points="85.60,921.25 87.60,921.82 89.60,922.40 91.60,922.97 93.60,923.54 95.60,924.11 97.60,924.68 99.60,925.25 101.60,925.82 103.60,926.39 105.60,926.97 107.60,927.54 109.60,928.11 111.60,928.68 113.60,929.25 115.60,929.82 117.60,930.39 119.60,930.96 121.60,931.54 123.60,932.11 125.60,932.68 127.60,933.25 129.60,933.82 131.60,934.39 133.60,934.96 135.60,935.53 137.60,936.11 139.60,936.68 141.60,937.25 143.60,937.82 145.60,938.39 147.60,938.96 149.60,939.53 151.60,940.10 153.60,940.68 155.60,941.25 157.60,941.82 159.60,942.39 161.60,942.96 163.60,943.53 165.60,944.10 167.60,944.67 169.60,945.24 171.60,945.82 173.60,946.39 175.60,946.96 177.60,947.53 179.60,948.10 181.60,948.67 183.60,949.24 185.60,949.81 187.60,950.39 189.60,950.96 191.60,951.53 193.60,952.10 195.60,952.67 197.60,953.24 199.60,953.81 201.60,954.38 203.60,954.96 205.60,955.53 207.60,956.10 209.60,956.67 211.60,957.24 213.60,957.81 215.60,958.38 217.60,958.95 219.60,959.53 221.60,960.10 223.60,960.67 225.60,961.24 227.60,961.81 229.60,962.38 231.60,962.95 233.60,963.52 235.60,964.09 237.60,964.67 239.60,965.24 241.60,965.81 243.60,966.38 245.60,966.94 247.60,967.51 249.60,968.07 251.60,968.63 253.60,969.19 255.60,969.74 257.60,970.29 259.60,970.84 261.60,971.39 263.60,971.93 265.60,972.47 267.60,973.01 269.60,973.55 271.60,974.08 273.60,974.61 275.60,975.14 277.60,975.67 279.60,976.20 281.60,976.73 283.60,977.27 285.60,977.80 287.60,978.33 289.60,978.86 291.60,979.40 293.60,979.94 295.60,980.49 297.60,981.04 299.60,981.59 301.60,982.15 303.60,982.71 305.60,983.26 307.60,983.82 309.60,984.39 311.60,984.95 313.60,985.51 315.60,986.07 317.60,986.63 319.60,987.20 321.60,987.76 323.60,988.33 325.60,988.90 327.60,989.46 329.60,990.03 331.60,990.60 333.60,991.17 335.60,991.74 337.60,992.32 339.60,992.89 341.60,993.46 343.60,994.04 345.60,994.62 347.60,995.19 349.60,995.77 351.60,996.35 353.60,996.93 355.60,997.52 357.60,998.10 359.60,998.68 361.60,999.27 363.60,999.86 365.60,1000.44 367.60,1001.03 369.60,1001.63 371.60,1002.22 373.60,1002.81 375.60,1003.41 377.60,1004.00 379.60,1004.60 381.60,1005.20 383.60,1005.80 385.60,1006.41 387.60,1007.01 389.60,1007.62 391.60,1008.22 393.60,1008.83 395.60,1009.44 397.60,1010.05 399.60,1010.67 401.60,1011.28 403.60,1011.90 405.60,1012.52 407.60,1013.14 409.60,1013.77 411.60,1014.39 413.60,1015.02 415.60,1015.65 417.60,1016.29 419.60,1016.92 421.60,1017.56 423.60,1018.20 425.60,1018.84 427.60,1019.49 429.60,1020.14 431.60,1020.79 433.60,1021.44 435.60,1022.10 437.60,1022.76 439.60,1023.42 441.60,1024.09 443.60,1024.76 445.60,1025.43 447.60,1026.11 449.60,1026.79 451.60,1027.47 453.60,1028.15 455.60,1028.84 457.60,1029.54 459.60,1030.23 461.60,1030.93 463.60,1031.64 465.60,1032.35 467.60,1033.06 469.60,1033.77 471.60,1034.49 473.60,1035.22 475.60,1035.94 477.60,1036.68 479.60,1037.41 481.60,1038.15 483.60,1038.90 485.60,1039.65 487.60,1040.40 489.60,1041.16 491.60,1041.92 493.60,1042.69 495.60,1043.46 497.60,1044.24 499.60,1045.02 501.60,1045.81 503.60,1046.60 505.60,1047.40 507.60,1048.20 509.60,1049.01 511.60,1049.82 513.60,1050.64 515.60,1051.46 517.60,1052.29 519.60,1053.12 521.60,1053.96 523.60,1054.81 525.60,1055.66 527.60,1056.52 529.60,1057.38 531.60,1058.25 533.60,1059.12 535.60,1060.00 537.60,1060.89 539.60,1061.78 541.60,1062.68 543.60,1063.58 545.60,1064.49 547.60,1065.41 549.60,1066.33 551.60,1067.26 553.60,1068.20 555.60,1069.14 557.60,1070.09 559.60,1071.05 561.60,1072.01 563.60,1072.98 565.60,1073.96 567.60,1074.94 569.60,1075.93 571.60,1076.93 573.60,1077.93 575.60,1078.95 577.60,1079.97 579.60,1080.99 581.60,1082.03 583.60,1083.07 585.60,1084.12 587.60,1085.17 589.60,1086.24 591.60,1087.31 593.60,1088.39" fill="none" stroke="#cc2030" stroke-width="1.25" stroke-linejoin="round" clip-path="url(#cp3)"/>
<polyline points="85.60,919.12 87.60,919.69 89.60,920.26 91.60,920.84 93.60,921.41 95.60,921.98 97.60,922.55 99.60,923.12 101.60,923.69 103.60,924.26 105.60,924.83 107.60,925.40 109.60,925.98 111.60,926.55 113.60,927.12 115.60,927.69 117.60,928.26 119.60,928.83 121.60,929.40 123.60,929.97 125.60,930.55 127.60,931.12 129.60,931.69 131.60,932.26 133.60,932.83 135.60,933.40 137.60,933.97 139.60,934.54 141.60,935.12 143.60,935.69 145.60,936.26 147.60,936.83 149.60,937.40 151.60,937.97 153.60,938.54 155.60,939.11 157.60,939.69 159.60,940.26 161.60,940.83 163.60,941.40 165.60,941.97 167.60,942.54 169.60,943.11 171.60,943.68 173.60,944.26 175.60,944.83 177.60,945.40 179.60,945.97 181.60,946.54 183.60,947.11 185.60,947.68 187.60,948.25 189.60,948.82 191.60,949.40 193.60,949.97 195.60,950.54 197.60,951.11 199.60,951.68 201.60,952.25 203.60,952.82 205.60,953.39 207.60,953.97 209.60,954.54 211.60,955.11 213.60,955.68 215.60,956.25 217.60,956.82 219.60,957.39 221.60,957.96 223.60,958.54 225.60,959.11 227.60,959.68 229.60,960.25 231.60,960.82 233.60,961.39 235.60,961.96 237.60,962.53 239.60,963.11 241.60,963.68 243.60,964.25 245.60,964.81 247.60,965.38 249.60,965.95 251.60,966.51 253.60,967.08 255.60,967.64 257.60,968.21 259.60,968.78 261.60,969.34 263.60,969.91 265.60,970.48 267.60,971.06 269.60,971.63 271.60,972.21 273.60,972.79 275.60,973.38 277.60,973.97 279.60,974.56 281.60,975.16 283.60,975.76 285.60,976.36 287.60,976.97 289.60,977.58 291.60,978.20 293.60,978.82 295.60,979.44 297.60,980.06 299.60,980.69 301.60,981.31 303.60,981.94 305.60,982.57 307.60,983.20 309.60,983.83 311.60,984.47 313.60,985.11 315.60,985.75 317.60,986.40 319.60,987.05 321.60,987.70 323.60,988.35 325.60,989.01 327.60,989.67 329.60,990.33 331.60,991.00 333.60,991.67 335.60,992.34 337.60,993.02 339.60,993.69 341.60,994.38 343.60,995.06 345.60,995.75 347.60,996.44 349.60,997.14 351.60,997.84 353.60,998.54 355.60,999.25 357.60,999.96 359.60,1000.67 361.60,1001.39 363.60,1002.11 365.60,1002.84 367.60,1003.57 369.60,1004.30 371.60,1005.04 373.60,1005.78 375.60,1006.53 377.60,1007.28 379.60,1008.03 381.60,1008.79 383.60,1009.55 385.60,1010.32 387.60,1011.09 389.60,1011.86 391.60,1012.64 393.60,1013.43 395.60,1014.22 397.60,1015.01 399.60,1015.81 401.60,1016.61 403.60,1017.42 405.60,1018.23 407.60,1019.05 409.60,1019.88 411.60,1020.71 413.60,1021.55 415.60,1022.40 417.60,1023.25 419.60,1024.11 421.60,1024.99 423.60,1025.87 425.60,1026.76 427.60,1027.66 429.60,1028.58 431.60,1029.50 433.60,1030.44 435.60,1031.39 437.60,1032.35 439.60,1033.32 441.60,1034.31 443.60,1035.31 445.60,1036.32 447.60,1037.35 449.60,1038.40 451.60,1039.46 453.60,1040.54 455.60,1041.63 457.60,1042.74 459.60,1043.87 461.60,1045.01 463.60,1046.17 465.60,1047.36 467.60,1048.56 469.60,1049.78 471.60,1051.02 473.60,1052.28 475.60,1053.56 477.60,1054.87 479.60,1056.19 481.60,1057.54 483.60,1058.91 485.60,1060.30 487.60,1061.71 489.60,1063.14 491.60,1064.58 493.60,1066.05 495.60,1067.53 497.60,1069.02 499.60,1070.54 501.60,1072.06 503.60,1073.60 505.60,1075.15 507.60,1076.71 509.60,1078.29 511.60,1079.87 513.60,1081.46 515.60,1083.07 517.60,1084.68 519.60,1086.30 521.60,1087.94 523.60,1089.58 525.60,1091.24 527.60,1092.90 529.60,1094.58 531.60,1096.27 533.60,1097.97 535.60,1099.68 537.60,1101.40 539.60,1103.14 541.60,1104.89 543.60,1106.64 545.60,1108.42 547.60,1110.20 549.60,1112.00 551.60,1113.81 553.60,1115.63 555.60,1117.47 557.60,1119.33 559.60,1121.20 561.60,1123.10 563.60,1125.02 565.60,1126.96 567.60,1128.93 569.60,1130.92 571.60,1132.94 573.60,1134.99 575.60,1137.08 577.60,1139.19 579.60,1141.34 581.60,1143.53 583.60,1145.75 585.60,1148.02 587.60,1150.32 589.60,1152.67 591.60,1155.06 593.60,1157.50" fill="none" stroke="#2272d2" stroke-width="1.25" stroke-linejoin="round" clip-path="url(#cp3)"/>
<polyline points="541.60,1105.59 543.60,1107.34 545.60,1109.12 547.60,1110.90 549.60,1112.70 551.60,1114.51 553.60,1116.33 555.60,1118.17 557.60,1120.03 559.60,1121.90 561.60,1123.80 563.60,1125.72 565.60,1127.66 567.60,1129.63 569.60,1131.62 571.60,1133.64 573.60,1135.69 575.60,1137.78 577.60,1139.89 579.60,1142.04 581.60,1144.23 583.60,1146.45 585.60,1148.72 587.60,1151.02 589.60,1153.37 591.60,1155.76 593.60,1158.20" fill="none" stroke="#2272d2" stroke-width="1.5" stroke-dasharray="0.01 5.4" stroke-linecap="round" clip-path="url(#cp3)"/>
<polyline points="85.60,920.60 87.60,921.17 89.60,921.75 91.60,922.32 93.60,922.89 95.60,923.46 97.60,924.03 99.60,924.60 101.60,925.17 103.60,925.74 105.60,926.32 107.60,926.89 109.60,927.46 111.60,928.03 113.60,928.60 115.60,929.17 117.60,929.74 119.60,930.31 121.60,930.89 123.60,931.46 125.60,932.03 127.60,932.60 129.60,933.17 131.60,933.74 133.60,934.31 135.60,934.88 137.60,935.45 139.60,936.03 141.60,936.60 143.60,937.17 145.60,937.74 147.60,938.31 149.60,938.88 151.60,939.45 153.60,940.02 155.60,940.60 157.60,941.17 159.60,941.74 161.60,942.31 163.60,942.88 165.60,943.45 167.60,944.02 169.60,944.59 171.60,945.17 173.60,945.74 175.60,946.31 177.60,946.88 179.60,947.45 181.60,948.02 183.60,948.59 185.60,949.16 187.60,949.74 189.60,950.31 191.60,950.88 193.60,951.45 195.60,952.02 197.60,952.59 199.60,953.16 201.60,953.73 203.60,954.30 205.60,954.88 207.60,955.45 209.60,956.02 211.60,956.59 213.60,957.16 215.60,957.73 217.60,958.30 219.60,958.87 221.60,959.45 223.60,960.02 225.60,960.59 227.60,961.16 229.60,961.73 231.60,962.30 233.60,962.87 235.60,963.44 237.60,964.02 239.60,964.59 241.60,965.16 243.60,965.73 245.60,966.30 247.60,966.87 249.60,967.44 251.60,968.01 253.60,968.59 255.60,969.16 257.60,969.73 259.60,970.31 261.60,970.88 263.60,971.46 265.60,972.04 267.60,972.62 269.60,973.20 271.60,973.78 273.60,974.37 275.60,974.95 277.60,975.54 279.60,976.13 281.60,976.72 283.60,977.31 285.60,977.91 287.60,978.50 289.60,979.10 291.60,979.70 293.60,980.29 295.60,980.89 297.60,981.49 299.60,982.09 301.60,982.68 303.60,983.28 305.60,983.88 307.60,984.48 309.60,985.07 311.60,985.68 313.60,986.28 315.60,986.88 317.60,987.48 319.60,988.09 321.60,988.69 323.60,989.30 325.60,989.91 327.60,990.52 329.60,991.12 331.60,991.74 333.60,992.35 335.60,992.96 337.60,993.57 339.60,994.19 341.60,994.81 343.60,995.42 345.60,996.04 347.60,996.66 349.60,997.28 351.60,997.91 353.60,998.53 355.60,999.15 357.60,999.78 359.60,1000.41 361.60,1001.04 363.60,1001.66 365.60,1002.30 367.60,1002.93 369.60,1003.56 371.60,1004.20 373.60,1004.83 375.60,1005.47 377.60,1006.11 379.60,1006.75 381.60,1007.39 383.60,1008.04 385.60,1008.68 387.60,1009.33 389.60,1009.98 391.60,1010.63 393.60,1011.28 395.60,1011.93 397.60,1012.58 399.60,1013.24 401.60,1013.90 403.60,1014.56 405.60,1015.22 407.60,1015.88 409.60,1016.55 411.60,1017.22 413.60,1017.89 415.60,1018.56 417.60,1019.24 419.60,1019.93 421.60,1020.61 423.60,1021.31 425.60,1022.00 427.60,1022.70 429.60,1023.41 431.60,1024.13 433.60,1024.85 435.60,1025.57 437.60,1026.30 439.60,1027.04 441.60,1027.79 443.60,1028.54 445.60,1029.30 447.60,1030.07 449.60,1030.85 451.60,1031.63 453.60,1032.43 455.60,1033.23 457.60,1034.04 459.60,1034.87 461.60,1035.70 463.60,1036.54 465.60,1037.40 467.60,1038.26 469.60,1039.13 471.60,1040.02 473.60,1040.92 475.60,1041.83 477.60,1042.75 479.60,1043.68 481.60,1044.63 483.60,1045.59 485.60,1046.56 487.60,1047.55 489.60,1048.55 491.60,1049.56 493.60,1050.59 495.60,1051.63 497.60,1052.69 499.60,1053.77 501.60,1054.85 503.60,1055.96 505.60,1057.08 507.60,1058.22 509.60,1059.37 511.60,1060.54 513.60,1061.73 515.60,1062.93 517.60,1064.16 519.60,1065.40 521.60,1066.66 523.60,1067.93 525.60,1069.22 527.60,1070.53 529.60,1071.85 531.60,1073.19 533.60,1074.55 535.60,1075.91 537.60,1077.30 539.60,1078.69 541.60,1080.10 543.60,1081.53 545.60,1082.96 547.60,1084.41 549.60,1085.87 551.60,1087.34 553.60,1088.83 555.60,1090.32 557.60,1091.83 559.60,1093.34 561.60,1094.86 563.60,1096.39 565.60,1097.92 567.60,1099.45 569.60,1100.98 571.60,1102.52 573.60,1104.05 575.60,1105.57 577.60,1107.10 579.60,1108.61 581.60,1110.11 583.60,1111.61 585.60,1113.09 587.60,1114.55 589.60,1116.01 591.60,1117.44 593.60,1118.86" fill="none" stroke="#38dde6" stroke-width="1.25" stroke-linejoin="round" clip-path="url(#cp3)"/>
<polyline points="561.60,1095.56 563.60,1097.09 565.60,1098.62 567.60,1100.15 569.60,1101.68 571.60,1103.22 573.60,1104.75 575.60,1106.27 577.60,1107.80 579.60,1109.31 581.60,1110.81 583.60,1112.31 585.60,1113.79 587.60,1115.25 589.60,1116.71 591.60,1118.14 593.60,1119.56" fill="none" stroke="#38dde6" stroke-width="1.5" stroke-dasharray="0.01 5.4" stroke-linecap="round" clip-path="url(#cp3)"/>
<polyline points="85.60,908.92 87.60,909.49 89.60,910.06 91.60,910.64 93.60,911.21 95.60,911.78 97.60,912.35 99.60,912.92 101.60,913.49 103.60,914.06 105.60,914.63 107.60,915.20 109.60,915.78 111.60,916.35 113.60,916.92 115.60,917.49 117.60,918.06 119.60,918.63 121.60,919.20 123.60,919.77 125.60,920.35 127.60,920.92 129.60,921.49 131.60,922.06 133.60,922.63 135.60,923.20 137.60,923.77 139.60,924.34 141.60,924.92 143.60,925.49 145.60,926.06 147.60,926.63 149.60,927.20 151.60,927.77 153.60,928.34 155.60,928.91 157.60,929.49 159.60,930.06 161.60,930.63 163.60,931.20 165.60,931.77 167.60,932.34 169.60,932.91 171.60,933.48 173.60,934.06 175.60,934.63 177.60,935.20 179.60,935.77 181.60,936.34 183.60,936.91 185.60,937.48 187.60,938.05 189.60,938.62 191.60,939.20 193.60,939.77 195.60,940.34 197.60,940.91 199.60,941.48 201.60,942.05 203.60,942.62 205.60,943.19 207.60,943.77 209.60,944.34 211.60,944.91 213.60,945.48 215.60,946.05 217.60,946.62 219.60,947.19 221.60,947.76 223.60,948.34 225.60,948.91 227.60,949.48 229.60,950.05 231.60,950.62 233.60,951.19 235.60,951.76 237.60,952.33 239.60,952.91 241.60,953.48 243.60,954.05 245.60,954.61 247.60,955.18 249.60,955.74 251.60,956.30 253.60,956.86 255.60,957.42 257.60,957.98 259.60,958.53 261.60,959.09 263.60,959.64 265.60,960.19 267.60,960.74 269.60,961.29 271.60,961.84 273.60,962.39 275.60,962.94 277.60,963.49 279.60,964.04 281.60,964.59 283.60,965.15 285.60,965.70 287.60,966.26 289.60,966.82 291.60,967.39 293.60,967.95 295.60,968.52 297.60,969.10 299.60,969.68 301.60,970.26 303.60,970.84 305.60,971.42 307.60,972.00 309.60,972.59 311.60,973.17 313.60,973.76 315.60,974.35 317.60,974.94 319.60,975.53 321.60,976.13 323.60,976.72 325.60,977.32 327.60,977.91 329.60,978.51 331.60,979.11 333.60,979.72 335.60,980.32 337.60,980.92 339.60,981.53 341.60,982.14 343.60,982.75 345.60,983.36 347.60,983.98 349.60,984.59 351.60,985.21 353.60,985.83 355.60,986.45 357.60,987.07 359.60,987.70 361.60,988.33 363.60,988.96 365.60,989.59 367.60,990.22 369.60,990.86 371.60,991.49 373.60,992.13 375.60,992.78 377.60,993.42 379.60,994.07 381.60,994.71 383.60,995.37 385.60,996.02 387.60,996.67 389.60,997.33 391.60,997.99 393.60,998.65 395.60,999.32 397.60,999.99 399.60,1000.66 401.60,1001.33 403.60,1002.01 405.60,1002.69 407.60,1003.38 409.60,1004.06 411.60,1004.76 413.60,1005.45 415.60,1006.15 417.60,1006.86 419.60,1007.57 421.60,1008.28 423.60,1009.00 425.60,1009.73 427.60,1010.46 429.60,1011.19 431.60,1011.93 433.60,1012.68 435.60,1013.44 437.60,1014.19 439.60,1014.96 441.60,1015.73 443.60,1016.51 445.60,1017.30 447.60,1018.09 449.60,1018.89 451.60,1019.70 453.60,1020.51 455.60,1021.33 457.60,1022.16 459.60,1023.00 461.60,1023.85 463.60,1024.70 465.60,1025.56 467.60,1026.44 469.60,1027.32 471.60,1028.21 473.60,1029.10 475.60,1030.01 477.60,1030.93 479.60,1031.86 481.60,1032.79 483.60,1033.74 485.60,1034.70 487.60,1035.67 489.60,1036.65 491.60,1037.63 493.60,1038.63 495.60,1039.64 497.60,1040.67 499.60,1041.70 501.60,1042.74 503.60,1043.80 505.60,1044.87 507.60,1045.95 509.60,1047.04 511.60,1048.15 513.60,1049.27 515.60,1050.40 517.60,1051.54 519.60,1052.70 521.60,1053.86 523.60,1055.05 525.60,1056.24 527.60,1057.45 529.60,1058.67 531.60,1059.91 533.60,1061.15 535.60,1062.41 537.60,1063.69 539.60,1064.97 541.60,1066.28 543.60,1067.59 545.60,1068.91 547.60,1070.25 549.60,1071.61 551.60,1072.97 553.60,1074.35 555.60,1075.75 557.60,1077.15 559.60,1078.57 561.60,1080.00 563.60,1081.45 565.60,1082.91 567.60,1084.38 569.60,1085.87 571.60,1087.37 573.60,1088.88 575.60,1090.41 577.60,1091.95 579.60,1093.50 581.60,1095.07 583.60,1096.65 585.60,1098.25 587.60,1099.86 589.60,1101.48 591.60,1103.11 593.60,1104.76" fill="none" stroke="#1414a8" stroke-width="1.25" stroke-linejoin="round" clip-path="url(#cp3)"/>
<polyline points="561.60,1080.70 563.60,1082.15 565.60,1083.61 567.60,1085.08 569.60,1086.57 571.60,1088.07 573.60,1089.58 575.60,1091.11 577.60,1092.65 579.60,1094.20 581.60,1095.77 583.60,1097.35 585.60,1098.95 587.60,1100.56 589.60,1102.18 591.60,1103.81 593.60,1105.46" fill="none" stroke="#1414a8" stroke-width="1.5" stroke-dasharray="0.01 5.4" stroke-linecap="round" clip-path="url(#cp3)"/>
<polyline points="85.60,899.32 87.60,899.89 89.60,900.46 91.60,901.04 93.60,901.61 95.60,902.18 97.60,902.75 99.60,903.32 101.60,903.89 103.60,904.46 105.60,905.03 107.60,905.60 109.60,906.18 111.60,906.75 113.60,907.32 115.60,907.89 117.60,908.46 119.60,909.03 121.60,909.60 123.60,910.17 125.60,910.75 127.60,911.32 129.60,911.89 131.60,912.46 133.60,913.03 135.60,913.60 137.60,914.17 139.60,914.74 141.60,915.32 143.60,915.89 145.60,916.46 147.60,917.03 149.60,917.60 151.60,918.17 153.60,918.74 155.60,919.31 157.60,919.89 159.60,920.46 161.60,921.03 163.60,921.60 165.60,922.17 167.60,922.74 169.60,923.31 171.60,923.88 173.60,924.46 175.60,925.03 177.60,925.60 179.60,926.17 181.60,926.74 183.60,927.31 185.60,927.88 187.60,928.45 189.60,929.02 191.60,929.60 193.60,930.17 195.60,930.74 197.60,931.31 199.60,931.88 201.60,932.45 203.60,933.02 205.60,933.59 207.60,934.17 209.60,934.74 211.60,935.31 213.60,935.88 215.60,936.45 217.60,937.02 219.60,937.59 221.60,938.16 223.60,938.74 225.60,939.31 227.60,939.88 229.60,940.45 231.60,941.02 233.60,941.59 235.60,942.16 237.60,942.73 239.60,943.31 241.60,943.88 243.60,944.44 245.60,945.01 247.60,945.58 249.60,946.14 251.60,946.69 253.60,947.25 255.60,947.80 257.60,948.35 259.60,948.89 261.60,949.44 263.60,949.97 265.60,950.51 267.60,951.04 269.60,951.57 271.60,952.10 273.60,952.62 275.60,953.15 277.60,953.67 279.60,954.19 281.60,954.71 283.60,955.23 285.60,955.76 287.60,956.28 289.60,956.81 291.60,957.34 293.60,957.87 295.60,958.41 297.60,958.95 299.60,959.50 301.60,960.05 303.60,960.60 305.60,961.16 307.60,961.72 309.60,962.27 311.60,962.83 313.60,963.39 315.60,963.94 317.60,964.50 319.60,965.06 321.60,965.62 323.60,966.19 325.60,966.75 327.60,967.31 329.60,967.88 331.60,968.44 333.60,969.01 335.60,969.58 337.60,970.15 339.60,970.72 341.60,971.29 343.60,971.86 345.60,972.43 347.60,973.01 349.60,973.58 351.60,974.16 353.60,974.74 355.60,975.32 357.60,975.90 359.60,976.48 361.60,977.07 363.60,977.65 365.60,978.24 367.60,978.82 369.60,979.41 371.60,980.00 373.60,980.60 375.60,981.19 377.60,981.79 379.60,982.38 381.60,982.98 383.60,983.58 385.60,984.18 387.60,984.79 389.60,985.39 391.60,986.00 393.60,986.61 395.60,987.22 397.60,987.83 399.60,988.45 401.60,989.06 403.60,989.68 405.60,990.30 407.60,990.92 409.60,991.55 411.60,992.18 413.60,992.80 415.60,993.44 417.60,994.07 419.60,994.70 421.60,995.34 423.60,995.98 425.60,996.62 427.60,997.27 429.60,997.92 431.60,998.57 433.60,999.22 435.60,999.87 437.60,1000.53 439.60,1001.19 441.60,1001.85 443.60,1002.52 445.60,1003.19 447.60,1003.86 449.60,1004.53 451.60,1005.21 453.60,1005.89 455.60,1006.57 457.60,1007.26 459.60,1007.95 461.60,1008.64 463.60,1009.34 465.60,1010.03 467.60,1010.73 469.60,1011.44 471.60,1012.15 473.60,1012.86 475.60,1013.57 477.60,1014.29 479.60,1015.01 481.60,1015.74 483.60,1016.47 485.60,1017.20 487.60,1017.93 489.60,1018.67 491.60,1019.41 493.60,1020.16 495.60,1020.91 497.60,1021.66 499.60,1022.42 501.60,1023.18 503.60,1023.95 505.60,1024.72 507.60,1025.49 509.60,1026.27 511.60,1027.05 513.60,1027.83 515.60,1028.62 517.60,1029.42 519.60,1030.21 521.60,1031.02 523.60,1031.82 525.60,1032.63 527.60,1033.45 529.60,1034.27 531.60,1035.09 533.60,1035.92 535.60,1036.75 537.60,1037.59 539.60,1038.43 541.60,1039.28 543.60,1040.13 545.60,1040.98 547.60,1041.84 549.60,1042.71 551.60,1043.58 553.60,1044.45 555.60,1045.33 557.60,1046.21 559.60,1047.10 561.60,1048.00 563.60,1048.90 565.60,1049.80 567.60,1050.71 569.60,1051.63 571.60,1052.55 573.60,1053.47 575.60,1054.40 577.60,1055.34 579.60,1056.28 581.60,1057.22 583.60,1058.18 585.60,1059.13 587.60,1060.09 589.60,1061.06 591.60,1062.04 593.60,1063.02" fill="none" stroke="#000000" stroke-width="1.25" stroke-linejoin="round" clip-path="url(#cp3)"/>
<polyline points="85.60,963.33 87.60,963.90 89.60,964.48 91.60,965.05 93.60,965.62 95.60,966.19 97.60,966.76 99.60,967.33 101.60,967.90 103.60,968.47 105.60,969.04 107.60,969.62 109.60,970.19 111.60,970.76 113.60,971.33 115.60,971.90 117.60,972.47 119.60,973.04 121.60,973.61 123.60,974.19 125.60,974.76 127.60,975.33 129.60,975.90 131.60,976.47 133.60,977.04 135.60,977.61 137.60,978.18 139.60,978.76 141.60,979.33 143.60,979.90 145.60,980.47 147.60,981.04 149.60,981.61 151.60,982.18 153.60,982.75 155.60,983.33 157.60,983.90 159.60,984.47 161.60,985.04 163.60,985.61 165.60,986.18 167.60,986.75 169.60,987.32 171.60,987.89 173.60,988.47 175.60,989.04 177.60,989.61 179.60,990.18 181.60,990.75 183.60,991.32 185.60,991.89 187.60,992.46 189.60,993.04 191.60,993.61 193.60,994.18 195.60,994.75 197.60,995.32 199.60,995.89 201.60,996.46 203.60,997.03 205.60,997.61 207.60,998.18 209.60,998.75 211.60,999.32 213.60,999.89 215.60,1000.46 217.60,1001.03 219.60,1001.60 221.60,1002.18 223.60,1002.75 225.60,1003.32 227.60,1003.89 229.60,1004.46 231.60,1005.03 233.60,1005.60 235.60,1006.17 237.60,1006.75 239.60,1007.32 241.60,1007.89 243.60,1008.46 245.60,1009.03 247.60,1009.60 249.60,1010.17 251.60,1010.74 253.60,1011.31 255.60,1011.88 257.60,1012.45 259.60,1013.02 261.60,1013.59 263.60,1014.16 265.60,1014.73 267.60,1015.30 269.60,1015.87 271.60,1016.44 273.60,1017.01 275.60,1017.58 277.60,1018.15 279.60,1018.72 281.60,1019.29 283.60,1019.86 285.60,1020.43 287.60,1021.00 289.60,1021.57 291.60,1022.14 293.60,1022.71 295.60,1023.29 297.60,1023.86 299.60,1024.43 301.60,1025.00 303.60,1025.58 305.60,1026.15 307.60,1026.72 309.60,1027.30 311.60,1027.87 313.60,1028.44 315.60,1029.02 317.60,1029.59 319.60,1030.16 321.60,1030.74 323.60,1031.31 325.60,1031.89 327.60,1032.46 329.60,1033.04 331.60,1033.61 333.60,1034.19 335.60,1034.76 337.60,1035.34 339.60,1035.91 341.60,1036.49 343.60,1037.07 345.60,1037.64 347.60,1038.22 349.60,1038.80 351.60,1039.37 353.60,1039.95 355.60,1040.53 357.60,1041.11 359.60,1041.68 361.60,1042.26 363.60,1042.84 365.60,1043.42 367.60,1044.00 369.60,1044.58 371.60,1045.15 373.60,1045.73 375.60,1046.31 377.60,1046.89 379.60,1047.47 381.60,1048.05 383.60,1048.63 385.60,1049.21 387.60,1049.80 389.60,1050.38 391.60,1050.96 393.60,1051.54 395.60,1052.12 397.60,1052.71 399.60,1053.29 401.60,1053.87 403.60,1054.46 405.60,1055.05 407.60,1055.64 409.60,1056.23 411.60,1056.82 413.60,1057.42 415.60,1058.02 417.60,1058.62 419.60,1059.22 421.60,1059.83 423.60,1060.43 425.60,1061.05 427.60,1061.66 429.60,1062.28 431.60,1062.91 433.60,1063.53 435.60,1064.17 437.60,1064.80 439.60,1065.45 441.60,1066.09 443.60,1066.74 445.60,1067.40 447.60,1068.06 449.60,1068.73 451.60,1069.40 453.60,1070.08 455.60,1070.77 457.60,1071.46 459.60,1072.16 461.60,1072.86 463.60,1073.58 465.60,1074.29 467.60,1075.02 469.60,1075.76 471.60,1076.50 473.60,1077.25 475.60,1078.00 477.60,1078.77 479.60,1079.55 481.60,1080.33 483.60,1081.12 485.60,1081.92 487.60,1082.73 489.60,1083.55 491.60,1084.38 493.60,1085.22 495.60,1086.07 497.60,1086.93 499.60,1087.80 501.60,1088.68 503.60,1089.57 505.60,1090.47 507.60,1091.38 509.60,1092.31 511.60,1093.24 513.60,1094.19 515.60,1095.15 517.60,1096.12 519.60,1097.11 521.60,1098.11 523.60,1099.12 525.60,1100.14 527.60,1101.18 529.60,1102.24 531.60,1103.31 533.60,1104.40 535.60,1105.51 537.60,1106.64 539.60,1107.78 541.60,1108.94 543.60,1110.13 545.60,1111.33 547.60,1112.56 549.60,1113.80 551.60,1115.07 553.60,1116.36 555.60,1117.68 557.60,1119.02 559.60,1120.38 561.60,1121.78 563.60,1123.20 565.60,1124.65 567.60,1126.13 569.60,1127.64 571.60,1129.18 573.60,1130.76 575.60,1132.37 577.60,1134.01 579.60,1135.69 581.60,1137.41 583.60,1139.16 585.60,1140.95 587.60,1142.78 589.60,1144.65 591.60,1146.57 593.60,1148.52" fill="none" stroke="#9c9c9c" stroke-width="1.5" stroke-dasharray="0.01 5.4" stroke-linecap="round" clip-path="url(#cp3)"/>
<polyline points="85.60,952.39 87.60,952.96 89.60,953.53 91.60,954.10 93.60,954.67 95.60,955.25 97.60,955.82 99.60,956.39 101.60,956.96 103.60,957.53 105.60,958.10 107.60,958.67 109.60,959.24 111.60,959.82 113.60,960.39 115.60,960.96 117.60,961.53 119.60,962.10 121.60,962.67 123.60,963.24 125.60,963.81 127.60,964.38 129.60,964.96 131.60,965.53 133.60,966.10 135.60,966.67 137.60,967.24 139.60,967.81 141.60,968.38 143.60,968.95 145.60,969.53 147.60,970.10 149.60,970.67 151.60,971.24 153.60,971.81 155.60,972.38 157.60,972.95 159.60,973.52 161.60,974.10 163.60,974.67 165.60,975.24 167.60,975.81 169.60,976.38 171.60,976.95 173.60,977.52 175.60,978.09 177.60,978.67 179.60,979.24 181.60,979.81 183.60,980.38 185.60,980.95 187.60,981.52 189.60,982.09 191.60,982.66 193.60,983.24 195.60,983.81 197.60,984.38 199.60,984.95 201.60,985.52 203.60,986.09 205.60,986.66 207.60,987.23 209.60,987.80 211.60,988.38 213.60,988.95 215.60,989.52 217.60,990.09 219.60,990.66 221.60,991.23 223.60,991.80 225.60,992.37 227.60,992.95 229.60,993.52 231.60,994.09 233.60,994.66 235.60,995.23 237.60,995.80 239.60,996.37 241.60,996.94 243.60,997.51 245.60,998.08 247.60,998.64 249.60,999.20 251.60,999.76 253.60,1000.31 255.60,1000.87 257.60,1001.41 259.60,1001.96 261.60,1002.50 263.60,1003.04 265.60,1003.57 267.60,1004.11 269.60,1004.64 271.60,1005.17 273.60,1005.69 275.60,1006.22 277.60,1006.74 279.60,1007.27 281.60,1007.79 283.60,1008.32 285.60,1008.84 287.60,1009.37 289.60,1009.90 291.60,1010.44 293.60,1010.98 295.60,1011.52 297.60,1012.07 299.60,1012.62 301.60,1013.18 303.60,1013.74 305.60,1014.30 307.60,1014.86 309.60,1015.42 311.60,1015.99 313.60,1016.55 315.60,1017.12 317.60,1017.68 319.60,1018.25 321.60,1018.82 323.60,1019.39 325.60,1019.96 327.60,1020.53 329.60,1021.10 331.60,1021.68 333.60,1022.25 335.60,1022.83 337.60,1023.41 339.60,1023.99 341.60,1024.57 343.60,1025.15 345.60,1025.73 347.60,1026.32 349.60,1026.91 351.60,1027.50 353.60,1028.09 355.60,1028.68 357.60,1029.27 359.60,1029.86 361.60,1030.46 363.60,1031.06 365.60,1031.66 367.60,1032.26 369.60,1032.86 371.60,1033.47 373.60,1034.08 375.60,1034.68 377.60,1035.30 379.60,1035.91 381.60,1036.52 383.60,1037.14 385.60,1037.76 387.60,1038.38 389.60,1039.00 391.60,1039.63 393.60,1040.25 395.60,1040.88 397.60,1041.51 399.60,1042.15 401.60,1042.78 403.60,1043.42 405.60,1044.06 407.60,1044.70 409.60,1045.35 411.60,1046.00 413.60,1046.65 415.60,1047.30 417.60,1047.96 419.60,1048.62 421.60,1049.29 423.60,1049.96 425.60,1050.63 427.60,1051.30 429.60,1051.98 431.60,1052.67 433.60,1053.35 435.60,1054.05 437.60,1054.74 439.60,1055.44 441.60,1056.15 443.60,1056.86 445.60,1057.57 447.60,1058.29 449.60,1059.02 451.60,1059.75 453.60,1060.49 455.60,1061.23 457.60,1061.98 459.60,1062.73 461.60,1063.49 463.60,1064.25 465.60,1065.02 467.60,1065.80 469.60,1066.58 471.60,1067.38 473.60,1068.17 475.60,1068.98 477.60,1069.79 479.60,1070.60 481.60,1071.43 483.60,1072.26 485.60,1073.10 487.60,1073.95 489.60,1074.80 491.60,1075.66 493.60,1076.53 495.60,1077.41 497.60,1078.30 499.60,1079.19 501.60,1080.09 503.60,1081.00 505.60,1081.92 507.60,1082.85 509.60,1083.79 511.60,1084.73 513.60,1085.69 515.60,1086.65 517.60,1087.63 519.60,1088.61 521.60,1089.60 523.60,1090.61 525.60,1091.62 527.60,1092.64 529.60,1093.67 531.60,1094.71 533.60,1095.77 535.60,1096.83 537.60,1097.90 539.60,1098.99 541.60,1100.08 543.60,1101.19 545.60,1102.30 547.60,1103.43 549.60,1104.57 551.60,1105.72 553.60,1106.89 555.60,1108.06 557.60,1109.24 559.60,1110.44 561.60,1111.65 563.60,1112.87 565.60,1114.11 567.60,1115.35 569.60,1116.61 571.60,1117.88 573.60,1119.17 575.60,1120.47 577.60,1121.78 579.60,1123.10 581.60,1124.44 583.60,1125.79 585.60,1127.15 587.60,1128.53 589.60,1129.92 591.60,1131.32 593.60,1132.74" fill="none" stroke="#30dc84" stroke-width="1.5" stroke-dasharray="0.01 5.4" stroke-linecap="round" clip-path="url(#cp3)"/>
<polyline points="85.60,921.89 87.60,922.46 89.60,923.03 91.60,923.60 93.60,924.17 95.60,924.74 97.60,925.31 99.60,925.88 101.60,926.46 103.60,927.03 105.60,927.60 107.60,928.17 109.60,928.74 111.60,929.31 113.60,929.88 115.60,930.45 117.60,931.03 119.60,931.60 121.60,932.17 123.60,932.74 125.60,933.31 127.60,933.88 129.60,934.45 131.60,935.02 133.60,935.59 135.60,936.17 137.60,936.74 139.60,937.31 141.60,937.88 143.60,938.45 145.60,939.02 147.60,939.59 149.60,940.16 151.60,940.74 153.60,941.31 155.60,941.88 157.60,942.45 159.60,943.02 161.60,943.59 163.60,944.16 165.60,944.73 167.60,945.31 169.60,945.88 171.60,946.45 173.60,947.02 175.60,947.59 177.60,948.16 179.60,948.73 181.60,949.30 183.60,949.88 185.60,950.45 187.60,951.02 189.60,951.59 191.60,952.16 193.60,952.73 195.60,953.30 197.60,953.87 199.60,954.45 201.60,955.02 203.60,955.59 205.60,956.16 207.60,956.73 209.60,957.30 211.60,957.87 213.60,958.44 215.60,959.01 217.60,959.59 219.60,960.16 221.60,960.73 223.60,961.30 225.60,961.87 227.60,962.44 229.60,963.01 231.60,963.58 233.60,964.16 235.60,964.73 237.60,965.30 239.60,965.87 241.60,966.44 243.60,967.01 245.60,967.58 247.60,968.14 249.60,968.71 251.60,969.27 253.60,969.83 255.60,970.38 257.60,970.94 259.60,971.48 261.60,972.03 263.60,972.57 265.60,973.10 267.60,973.64 269.60,974.16 271.60,974.69 273.60,975.21 275.60,975.73 277.60,976.24 279.60,976.75 281.60,977.26 283.60,977.77 285.60,978.28 287.60,978.79 289.60,979.30 291.60,979.81 293.60,980.32 295.60,980.84 297.60,981.36 299.60,981.89 301.60,982.42 303.60,982.95 305.60,983.49 307.60,984.02 309.60,984.55 311.60,985.09 313.60,985.62 315.60,986.16 317.60,986.69 319.60,987.23 321.60,987.76 323.60,988.30 325.60,988.83 327.60,989.37 329.60,989.91 331.60,990.45 333.60,990.99 335.60,991.53 337.60,992.07 339.60,992.61 341.60,993.15 343.60,993.70 345.60,994.24 347.60,994.79 349.60,995.33 351.60,995.88 353.60,996.43 355.60,996.98 357.60,997.53 359.60,998.08 361.60,998.64 363.60,999.19 365.60,999.75 367.60,1000.31 369.60,1000.87 371.60,1001.43 373.60,1001.99 375.60,1002.55 377.60,1003.12 379.60,1003.68 381.60,1004.25 383.60,1004.82 385.60,1005.39 387.60,1005.97 389.60,1006.54 391.60,1007.12 393.60,1007.70 395.60,1008.28 397.60,1008.86 399.60,1009.45 401.60,1010.03 403.60,1010.62 405.60,1011.21 407.60,1011.81 409.60,1012.40 411.60,1013.00 413.60,1013.60 415.60,1014.21 417.60,1014.81 419.60,1015.42 421.60,1016.03 423.60,1016.64 425.60,1017.25 427.60,1017.87 429.60,1018.49 431.60,1019.12 433.60,1019.74 435.60,1020.37 437.60,1021.00 439.60,1021.63 441.60,1022.27 443.60,1022.91 445.60,1023.55 447.60,1024.20 449.60,1024.85 451.60,1025.50 453.60,1026.15 455.60,1026.81 457.60,1027.47 459.60,1028.14 461.60,1028.80 463.60,1029.47 465.60,1030.15 467.60,1030.82 469.60,1031.51 471.60,1032.19 473.60,1032.88 475.60,1033.57 477.60,1034.26 479.60,1034.96 481.60,1035.66 483.60,1036.37 485.60,1037.08 487.60,1037.79 489.60,1038.51 491.60,1039.23 493.60,1039.95 495.60,1040.68 497.60,1041.42 499.60,1042.15 501.60,1042.89 503.60,1043.64 505.60,1044.39 507.60,1045.14 509.60,1045.90 511.60,1046.66 513.60,1047.43 515.60,1048.20 517.60,1048.97 519.60,1049.75 521.60,1050.53 523.60,1051.32 525.60,1052.11 527.60,1052.91 529.60,1053.71 531.60,1054.52 533.60,1055.33 535.60,1056.14 537.60,1056.96 539.60,1057.79 541.60,1058.62 543.60,1059.45 545.60,1060.29 547.60,1061.14 549.60,1061.99 551.60,1062.84 553.60,1063.70 555.60,1064.57 557.60,1065.44 559.60,1066.31 561.60,1067.19 563.60,1068.08 565.60,1068.97 567.60,1069.87 569.60,1070.77 571.60,1071.68 573.60,1072.59 575.60,1073.51 577.60,1074.43 579.60,1075.36 581.60,1076.30 583.60,1077.24 585.60,1078.18 587.60,1079.14 589.60,1080.09 591.60,1081.06 593.60,1082.03" fill="none" stroke="#cc2030" stroke-width="1.5" stroke-dasharray="0.01 5.4" stroke-linecap="round" clip-path="url(#cp3)"/>
<polyline points="85.60,896.68 87.60,897.25 89.60,897.82 91.60,898.39 93.60,898.96 95.60,899.53 97.60,900.10 99.60,900.68 101.60,901.25 103.60,901.82 105.60,902.39 107.60,902.96 109.60,903.53 111.60,904.10 113.60,904.67 115.60,905.25 117.60,905.82 119.60,906.39 121.60,906.96 123.60,907.53 125.60,908.10 127.60,908.67 129.60,909.24 131.60,909.82 133.60,910.39 135.60,910.96 137.60,911.53 139.60,912.10 141.60,912.67 143.60,913.24 145.60,913.81 147.60,914.39 149.60,914.96 151.60,915.53 153.60,916.10 155.60,916.67 157.60,917.24 159.60,917.81 161.60,918.38 163.60,918.95 165.60,919.53 167.60,920.10 169.60,920.67 171.60,921.24 173.60,921.81 175.60,922.38 177.60,922.95 179.60,923.52 181.60,924.10 183.60,924.67 185.60,925.24 187.60,925.81 189.60,926.38 191.60,926.95 193.60,927.52 195.60,928.09 197.60,928.67 199.60,929.24 201.60,929.81 203.60,930.38 205.60,930.95 207.60,931.52 209.60,932.09 211.60,932.66 213.60,933.24 215.60,933.81 217.60,934.38 219.60,934.95 221.60,935.52 223.60,936.09 225.60,936.66 227.60,937.23 229.60,937.80 231.60,938.38 233.60,938.95 235.60,939.52 237.60,940.09 239.60,940.66 241.60,941.23 243.60,941.80 245.60,942.37 247.60,942.93 249.60,943.50 251.60,944.05 253.60,944.61 255.60,945.17 257.60,945.72 259.60,946.27 261.60,946.81 263.60,947.35 265.60,947.89 267.60,948.43 269.60,948.97 271.60,949.50 273.60,950.03 275.60,950.56 277.60,951.09 279.60,951.62 281.60,952.15 283.60,952.68 285.60,953.21 287.60,953.74 289.60,954.28 291.60,954.82 293.60,955.35 295.60,955.90 297.60,956.45 299.60,957.00 301.60,957.56 303.60,958.12 305.60,958.67 307.60,959.23 309.60,959.79 311.60,960.35 313.60,960.92 315.60,961.48 317.60,962.04 319.60,962.60 321.60,963.17 323.60,963.73 325.60,964.30 327.60,964.87 329.60,965.43 331.60,966.00 333.60,966.57 335.60,967.14 337.60,967.72 339.60,968.29 341.60,968.86 343.60,969.44 345.60,970.01 347.60,970.59 349.60,971.17 351.60,971.75 353.60,972.33 355.60,972.91 357.60,973.49 359.60,974.08 361.60,974.66 363.60,975.25 365.60,975.84 367.60,976.42 369.60,977.01 371.60,977.61 373.60,978.20 375.60,978.79 377.60,979.39 379.60,979.99 381.60,980.59 383.60,981.19 385.60,981.79 387.60,982.39 389.60,983.00 391.60,983.60 393.60,984.21 395.60,984.82 397.60,985.43 399.60,986.05 401.60,986.66 403.60,987.28 405.60,987.90 407.60,988.52 409.60,989.14 411.60,989.76 413.60,990.39 415.60,991.02 417.60,991.64 419.60,992.28 421.60,992.91 423.60,993.54 425.60,994.18 427.60,994.82 429.60,995.46 431.60,996.10 433.60,996.75 435.60,997.40 437.60,998.05 439.60,998.70 441.60,999.35 443.60,1000.01 445.60,1000.66 447.60,1001.32 449.60,1001.99 451.60,1002.65 453.60,1003.32 455.60,1003.99 457.60,1004.66 459.60,1005.33 461.60,1006.01 463.60,1006.69 465.60,1007.37 467.60,1008.05 469.60,1008.74 471.60,1009.42 473.60,1010.12 475.60,1010.81 477.60,1011.50 479.60,1012.20 481.60,1012.90 483.60,1013.61 485.60,1014.31 487.60,1015.02 489.60,1015.73 491.60,1016.45 493.60,1017.17 495.60,1017.88 497.60,1018.61 499.60,1019.33 501.60,1020.06 503.60,1020.79 505.60,1021.53 507.60,1022.26 509.60,1023.00 511.60,1023.74 513.60,1024.49 515.60,1025.24 517.60,1025.99 519.60,1026.74 521.60,1027.50 523.60,1028.26 525.60,1029.02 527.60,1029.79 529.60,1030.56 531.60,1031.33 533.60,1032.11 535.60,1032.89 537.60,1033.67 539.60,1034.46 541.60,1035.25 543.60,1036.04 545.60,1036.83 547.60,1037.63 549.60,1038.43 551.60,1039.24 553.60,1040.05 555.60,1040.86 557.60,1041.68 559.60,1042.50 561.60,1043.32 563.60,1044.15 565.60,1044.98 567.60,1045.81 569.60,1046.65 571.60,1047.49 573.60,1048.33 575.60,1049.18 577.60,1050.03 579.60,1050.88 581.60,1051.74 583.60,1052.60 585.60,1053.47 587.60,1054.34 589.60,1055.21 591.60,1056.09 593.60,1056.97" fill="none" stroke="#000000" stroke-width="1.5" stroke-dasharray="0.01 5.4" stroke-linecap="round" clip-path="url(#cp3)"/>
<rect x="87.80" y="6.90" width="495.50" height="367.50" fill="none" stroke="#000" stroke-width="1.25"/>
<rect x="84.50" y="443.70" width="504.00" height="374.50" fill="none" stroke="#000" stroke-width="1.25"/>
<rect x="85.60" y="888.50" width="509.70" height="378.50" fill="none" stroke="#000" stroke-width="1.25"/>
<text transform="matrix(0.7200 0 0 0.8073 66.775 12.148)" fill="#000" font-family='"Liberation Serif"' font-size="20.0">1</text>
<text transform="matrix(1.0003 0 0 0.8218 49.475 73.343)" fill="#000" font-family='"Liberation Serif"' font-size="20.0">0</text>
<text transform="matrix(0.8558 0 0 0.8218 60.263 73.343)" fill="#000" font-family='"Liberation Serif"' font-size="20.0">.</text>
<text transform="matrix(0.7391 0 0 0.8218 66.402 73.343)" fill="#000" font-family='"Liberation Serif"' font-size="20.0">1</text>
<text transform="matrix(1.0151 0 0 0.8291 38.866 134.741)" fill="#000" font-family='"Liberation Serif"' font-size="20.0">0</text>
<text transform="matrix(0.8685 0 0 0.8291 49.813 134.741)" fill="#000" font-family='"Liberation Serif"' font-size="20.0">.</text>
<text transform="matrix(1.0151 0 0 0.8291 54.953 134.741)" fill="#000" font-family='"Liberation Serif"' font-size="20.0">0</text>
<text transform="matrix(0.7501 0 0 0.8291 66.702 134.741)" fill="#000" font-family='"Liberation Serif"' font-size="20.0">1</text>
<text transform="matrix(0.7328 0 0 0.8364 41.155 196.139)" fill="#000" font-family='"Liberation Serif"' font-size="20.0">1</text>
<text transform="matrix(0.9917 0 0 0.8364 50.502 196.139)" fill="#000" font-family='"Liberation Serif"' font-size="20.0">0</text>
<text transform="matrix(0.9190 0 0 0.5891 61.638 187.666)" fill="#000" font-family='"Liberation Serif"' font-size="20.0">−</text>
<text transform="matrix(0.6969 0 0 0.5891 71.966 187.666)" fill="#000" font-family='"Liberation Serif"' font-size="20.0">3</text>
<text transform="matrix(0.7328 0 0 0.8364 41.155 257.389)" fill="#000" font-family='"Liberation Serif"' font-size="20.0">1</text>
<text transform="matrix(0.9917 0 0 0.8364 50.502 257.389)" fill="#000" font-family='"Liberation Serif"' font-size="20.0">0</text>
<text transform="matrix(0.9035 0 0 0.5891 61.653 248.916)" fill="#000" font-family='"Liberation Serif"' font-size="20.0">−</text>
<text transform="matrix(0.6741 0 0 0.5891 71.970 248.916)" fill="#000" font-family='"Liberation Serif"' font-size="20.0">4</text>
<text transform="matrix(0.7328 0 0 0.8364 41.155 318.639)" fill="#000" font-family='"Liberation Serif"' font-size="20.0">1</text>
<text transform="matrix(0.9917 0 0 0.8364 50.502 318.639)" fill="#000" font-family='"Liberation Serif"' font-size="20.0">0</text>
<text transform="matrix(0.9190 0 0 0.5891 61.638 310.166)" fill="#000" font-family='"Liberation Serif"' font-size="20.0">−</text>
<text transform="matrix(0.6969 0 0 0.5891 71.966 310.166)" fill="#000" font-family='"Liberation Serif"' font-size="20.0">5</text>
<text transform="matrix(0.7328 0 0 0.8364 41.155 379.889)" fill="#000" font-family='"Liberation Serif"' font-size="20.0">1</text>
<text transform="matrix(0.9917 0 0 0.8364 50.502 379.889)" fill="#000" font-family='"Liberation Serif"' font-size="20.0">0</text>
<text transform="matrix(0.9190 0 0 0.5891 61.638 371.416)" fill="#000" font-family='"Liberation Serif"' font-size="20.0">−</text>
<text transform="matrix(0.6489 0 0 0.5891 72.214 371.416)" fill="#000" font-family='"Liberation Serif"' font-size="20.0">6</text>
<text transform="matrix(0.9371 0 0 0.8436 83.214 395.336)" fill="#000" font-family='"Liberation Serif"' font-size="20.0">0</text>
<text transform="matrix(1.0245 0 0 0.8436 200.940 395.336)" fill="#000" font-family='"Liberation Serif"' font-size="20.0">5</text>
<text transform="matrix(1.0338 0 0 0.8436 211.908 395.336)" fill="#000" font-family='"Liberation Serif"' font-size="20.0">0</text>
<text transform="matrix(0.7823 0 0 0.8436 319.428 395.336)" fill="#000" font-family='"Liberation Serif"' font-size="20.0">1</text>
<text transform="matrix(1.0588 0 0 0.8436 329.407 395.336)" fill="#000" font-family='"Liberation Serif"' font-size="20.0">0</text>
<text transform="matrix(1.0588 0 0 0.8436 340.524 395.336)" fill="#000" font-family='"Liberation Serif"' font-size="20.0">0</text>
<text transform="matrix(0.7823 0 0 0.8436 443.303 395.336)" fill="#000" font-family='"Liberation Serif"' font-size="20.0">1</text>
<text transform="matrix(1.0492 0 0 0.8436 453.166 395.336)" fill="#000" font-family='"Liberation Serif"' font-size="20.0">5</text>
<text transform="matrix(1.0588 0 0 0.8436 464.399 395.336)" fill="#000" font-family='"Liberation Serif"' font-size="20.0">0</text>
<text transform="matrix(0.9991 0 0 0.8436 567.576 395.336)" fill="#000" font-family='"Liberation Serif"' font-size="20.0">2</text>
<text transform="matrix(1.0083 0 0 0.8436 577.961 395.336)" fill="#000" font-family='"Liberation Serif"' font-size="20.0">0</text>
<text transform="matrix(1.0083 0 0 0.8436 588.547 395.336)" fill="#000" font-family='"Liberation Serif"' font-size="20.0">0</text>
<text transform="matrix(0.8649 0 0 0.8364 95.859 31.339)" fill="#000000" font-family='"Liberation Serif"' font-size="20.0">GS</text>
<text transform="matrix(0.9846 0 0 0.8727 509.292 99.027)" fill="#7020d4" font-family='"Liberation Serif"' font-size="20.0">4F</text>
<text transform="matrix(1.0057 0 0 0.8364 452.257 126.239)" fill="#1c18c0" font-family='"Liberation Serif"' font-size="20.0">3P</text>
<text transform="matrix(0.8767 0 0 0.8509 410.178 151.034)" fill="#9c9c9c" font-family='"Liberation Serif"' font-size="20.0">3D</text>
<text transform="matrix(0.9703 0 0 0.8509 368.394 178.434)" fill="#cc2030" font-family='"Liberation Serif"' font-size="20.0">2S</text>
<text transform="matrix(1.0200 0 0 0.8727 323.363 203.027)" fill="#30dc84" font-family='"Liberation Serif"' font-size="20.0">2P</text>
<text transform="matrix(1.0327 0 0 0.8582 45.355 449.332)" fill="#000" font-family='"Liberation Serif"' font-size="20.0">0</text>
<text transform="matrix(0.8835 0 0 0.8582 56.492 449.332)" fill="#000" font-family='"Liberation Serif"' font-size="20.0">.</text>
<text transform="matrix(0.9868 0 0 0.8582 61.949 449.332)" fill="#000" font-family='"Liberation Serif"' font-size="20.0">8</text>
<text transform="matrix(1.0327 0 0 0.8582 45.355 496.144)" fill="#000" font-family='"Liberation Serif"' font-size="20.0">0</text>
<text transform="matrix(0.8835 0 0 0.8582 56.492 496.144)" fill="#000" font-family='"Liberation Serif"' font-size="20.0">.</text>
<text transform="matrix(0.9527 0 0 0.8582 61.970 496.144)" fill="#000" font-family='"Liberation Serif"' font-size="20.0">6</text>
<text transform="matrix(1.0165 0 0 0.8582 45.365 542.957)" fill="#000" font-family='"Liberation Serif"' font-size="20.0">0</text>
<text transform="matrix(0.8696 0 0 0.8582 56.327 542.957)" fill="#000" font-family='"Liberation Serif"' font-size="20.0">.</text>
<text transform="matrix(0.9909 0 0 0.8582 61.601 542.957)" fill="#000" font-family='"Liberation Serif"' font-size="20.0">4</text>
<text transform="matrix(1.0327 0 0 0.8582 45.355 589.769)" fill="#000" font-family='"Liberation Serif"' font-size="20.0">0</text>
<text transform="matrix(0.8835 0 0 0.8582 56.492 589.769)" fill="#000" font-family='"Liberation Serif"' font-size="20.0">.</text>
<text transform="matrix(1.0233 0 0 0.8582 61.926 589.769)" fill="#000" font-family='"Liberation Serif"' font-size="20.0">2</text>
<text transform="matrix(0.9943 0 0 0.8436 61.679 636.486)" fill="#000" font-family='"Liberation Serif"' font-size="20.0">0</text>
<text transform="matrix(1.2932 0 0 0.8582 31.488 683.394)" fill="#000" font-family='"Liberation Serif"' font-size="20.0">−</text>
<text transform="matrix(0.9897 0 0 0.8582 46.130 683.394)" fill="#000" font-family='"Liberation Serif"' font-size="20.0">0</text>
<text transform="matrix(0.8468 0 0 0.8582 56.804 683.394)" fill="#000" font-family='"Liberation Serif"' font-size="20.0">.</text>
<text transform="matrix(0.9807 0 0 0.8582 62.012 683.394)" fill="#000" font-family='"Liberation Serif"' font-size="20.0">2</text>
<text transform="matrix(1.2803 0 0 0.8582 31.500 730.207)" fill="#000" font-family='"Liberation Serif"' font-size="20.0">−</text>
<text transform="matrix(0.9798 0 0 0.8582 45.996 730.207)" fill="#000" font-family='"Liberation Serif"' font-size="20.0">0</text>
<text transform="matrix(0.8383 0 0 0.8582 56.563 730.207)" fill="#000" font-family='"Liberation Serif"' font-size="20.0">.</text>
<text transform="matrix(0.9552 0 0 0.8582 61.647 730.207)" fill="#000" font-family='"Liberation Serif"' font-size="20.0">4</text>
<text transform="matrix(1.2932 0 0 0.8582 31.488 777.019)" fill="#000" font-family='"Liberation Serif"' font-size="20.0">−</text>
<text transform="matrix(0.9897 0 0 0.8582 46.130 777.019)" fill="#000" font-family='"Liberation Serif"' font-size="20.0">0</text>
<text transform="matrix(0.8468 0 0 0.8582 56.804 777.019)" fill="#000" font-family='"Liberation Serif"' font-size="20.0">.</text>
<text transform="matrix(0.9131 0 0 0.8582 62.054 777.019)" fill="#000" font-family='"Liberation Serif"' font-size="20.0">6</text>
<text transform="matrix(1.2932 0 0 0.8582 31.488 823.832)" fill="#000" font-family='"Liberation Serif"' font-size="20.0">−</text>
<text transform="matrix(0.9897 0 0 0.8582 46.130 823.832)" fill="#000" font-family='"Liberation Serif"' font-size="20.0">0</text>
<text transform="matrix(0.8468 0 0 0.8582 56.804 823.832)" fill="#000" font-family='"Liberation Serif"' font-size="20.0">.</text>
<text transform="matrix(0.9457 0 0 0.8582 62.034 823.832)" fill="#000" font-family='"Liberation Serif"' font-size="20.0">8</text>
<text transform="matrix(0.9600 0 0 0.8582 79.700 839.132)" fill="#000" font-family='"Liberation Serif"' font-size="20.0">0</text>
<text transform="matrix(0.7621 0 0 0.8582 146.409 839.132)" fill="#000" font-family='"Liberation Serif"' font-size="20.0">1</text>
<text transform="matrix(1.0314 0 0 0.8582 156.131 839.132)" fill="#000" font-family='"Liberation Serif"' font-size="20.0">0</text>
<text transform="matrix(0.9465 0 0 0.8582 219.008 839.132)" fill="#000" font-family='"Liberation Serif"' font-size="20.0">2</text>
<text transform="matrix(0.9551 0 0 0.8582 228.846 839.132)" fill="#000" font-family='"Liberation Serif"' font-size="20.0">0</text>
<text transform="matrix(0.9465 0 0 0.8582 290.713 839.132)" fill="#000" font-family='"Liberation Serif"' font-size="20.0">3</text>
<text transform="matrix(0.9551 0 0 0.8582 300.846 839.132)" fill="#000" font-family='"Liberation Serif"' font-size="20.0">0</text>
<text transform="matrix(0.9124 0 0 0.8582 363.315 839.132)" fill="#000" font-family='"Liberation Serif"' font-size="20.0">4</text>
<text transform="matrix(0.9360 0 0 0.8582 373.025 839.132)" fill="#000" font-family='"Liberation Serif"' font-size="20.0">0</text>
<text transform="matrix(0.9465 0 0 0.8582 434.713 839.132)" fill="#000" font-family='"Liberation Serif"' font-size="20.0">5</text>
<text transform="matrix(0.9551 0 0 0.8582 444.846 839.132)" fill="#000" font-family='"Liberation Serif"' font-size="20.0">0</text>
<text transform="matrix(0.8812 0 0 0.8582 507.049 839.132)" fill="#000" font-family='"Liberation Serif"' font-size="20.0">6</text>
<text transform="matrix(0.9551 0 0 0.8582 516.846 839.132)" fill="#000" font-family='"Liberation Serif"' font-size="20.0">0</text>
<text transform="matrix(0.9805 0 0 0.8582 578.374 839.132)" fill="#000" font-family='"Liberation Serif"' font-size="20.0">7</text>
<text transform="matrix(0.9455 0 0 0.8582 588.936 839.132)" fill="#000" font-family='"Liberation Serif"' font-size="20.0">0</text>
<text transform="matrix(1.1120 0 0 0.8696 192.652 488.228)" fill="#000000" font-family='"Liberation Serif"' font-size="20.0">l=0</text>
<text transform="matrix(1.0826 0 0 0.8818 293.662 472.400)" fill="#cc2030" font-family='"Liberation Serif"' font-size="20.0">l=1</text>
<text transform="matrix(1.1217 0 0 0.8676 394.649 462.800)" fill="#30dc84" font-family='"Liberation Serif"' font-size="20.0">l=2</text>
<text transform="matrix(1.1275 0 0 0.8487 538.448 469.535)" fill="#1c18c0" font-family='"Liberation Serif"' font-size="20.0">l=3</text>
<text transform="matrix(0.7160 0 0 0.8582 31.081 1272.632)" fill="#000" font-family='"Liberation Serif"' font-size="20.0">1</text>
<text transform="matrix(0.9691 0 0 0.8582 40.215 1272.632)" fill="#000" font-family='"Liberation Serif"' font-size="20.0">0</text>
<text transform="matrix(0.9494 0 0 0.5964 52.110 1263.814)" fill="#000" font-family='"Liberation Serif"' font-size="20.0">−</text>
<text transform="matrix(0.5369 0 0 0.5964 63.640 1263.814)" fill="#000" font-family='"Liberation Serif"' font-size="20.0">1</text>
<text transform="matrix(0.7266 0 0 0.5964 70.488 1263.814)" fill="#000" font-family='"Liberation Serif"' font-size="20.0">0</text>
<text transform="matrix(0.7705 0 0 0.8582 37.296 1243.516)" fill="#000" font-family='"Liberation Serif"' font-size="20.0">1</text>
<text transform="matrix(1.0427 0 0 0.8582 47.124 1243.516)" fill="#000" font-family='"Liberation Serif"' font-size="20.0">0</text>
<text transform="matrix(0.9362 0 0 0.5818 58.422 1234.703)" fill="#000" font-family='"Liberation Serif"' font-size="20.0">−</text>
<text transform="matrix(0.6846 0 0 0.5818 69.182 1234.703)" fill="#000" font-family='"Liberation Serif"' font-size="20.0">9</text>
<text transform="matrix(0.7705 0 0 0.8582 37.296 1214.401)" fill="#000" font-family='"Liberation Serif"' font-size="20.0">1</text>
<text transform="matrix(1.0427 0 0 0.8582 47.124 1214.401)" fill="#000" font-family='"Liberation Serif"' font-size="20.0">0</text>
<text transform="matrix(0.9362 0 0 0.5818 58.422 1205.587)" fill="#000" font-family='"Liberation Serif"' font-size="20.0">−</text>
<text transform="matrix(0.6846 0 0 0.5818 69.182 1205.587)" fill="#000" font-family='"Liberation Serif"' font-size="20.0">8</text>
<text transform="matrix(0.7705 0 0 0.8582 37.296 1185.286)" fill="#000" font-family='"Liberation Serif"' font-size="20.0">1</text>
<text transform="matrix(1.0427 0 0 0.8582 47.124 1185.286)" fill="#000" font-family='"Liberation Serif"' font-size="20.0">0</text>
<text transform="matrix(0.9283 0 0 0.5818 58.430 1176.472)" fill="#000" font-family='"Liberation Serif"' font-size="20.0">−</text>
<text transform="matrix(0.7367 0 0 0.5818 68.463 1176.472)" fill="#000" font-family='"Liberation Serif"' font-size="20.0">7</text>
<text transform="matrix(0.7705 0 0 0.8582 37.296 1156.170)" fill="#000" font-family='"Liberation Serif"' font-size="20.0">1</text>
<text transform="matrix(1.0427 0 0 0.8582 47.124 1156.170)" fill="#000" font-family='"Liberation Serif"' font-size="20.0">0</text>
<text transform="matrix(0.9362 0 0 0.5818 58.422 1147.357)" fill="#000" font-family='"Liberation Serif"' font-size="20.0">−</text>
<text transform="matrix(0.6610 0 0 0.5818 69.196 1147.357)" fill="#000" font-family='"Liberation Serif"' font-size="20.0">6</text>
<text transform="matrix(0.7705 0 0 0.8582 37.296 1127.055)" fill="#000" font-family='"Liberation Serif"' font-size="20.0">1</text>
<text transform="matrix(1.0427 0 0 0.8582 47.124 1127.055)" fill="#000" font-family='"Liberation Serif"' font-size="20.0">0</text>
<text transform="matrix(0.9362 0 0 0.5818 58.422 1118.241)" fill="#000" font-family='"Liberation Serif"' font-size="20.0">−</text>
<text transform="matrix(0.7100 0 0 0.5818 68.944 1118.241)" fill="#000" font-family='"Liberation Serif"' font-size="20.0">5</text>
<text transform="matrix(0.7705 0 0 0.8582 37.296 1097.940)" fill="#000" font-family='"Liberation Serif"' font-size="20.0">1</text>
<text transform="matrix(1.0427 0 0 0.8582 47.124 1097.940)" fill="#000" font-family='"Liberation Serif"' font-size="20.0">0</text>
<text transform="matrix(0.9205 0 0 0.5818 58.437 1089.126)" fill="#000" font-family='"Liberation Serif"' font-size="20.0">−</text>
<text transform="matrix(0.6867 0 0 0.5818 68.948 1089.126)" fill="#000" font-family='"Liberation Serif"' font-size="20.0">4</text>
<text transform="matrix(0.7705 0 0 0.8582 37.296 1068.824)" fill="#000" font-family='"Liberation Serif"' font-size="20.0">1</text>
<text transform="matrix(1.0427 0 0 0.8582 47.124 1068.824)" fill="#000" font-family='"Liberation Serif"' font-size="20.0">0</text>
<text transform="matrix(0.9362 0 0 0.5818 58.422 1060.010)" fill="#000" font-family='"Liberation Serif"' font-size="20.0">−</text>
<text transform="matrix(0.7100 0 0 0.5818 68.944 1060.010)" fill="#000" font-family='"Liberation Serif"' font-size="20.0">3</text>
<text transform="matrix(1.0539 0 0 0.8582 35.041 1039.709)" fill="#000" font-family='"Liberation Serif"' font-size="20.0">0</text>
<text transform="matrix(0.9017 0 0 0.8582 46.408 1039.709)" fill="#000" font-family='"Liberation Serif"' font-size="20.0">.</text>
<text transform="matrix(1.0539 0 0 0.8582 51.743 1039.709)" fill="#000" font-family='"Liberation Serif"' font-size="20.0">0</text>
<text transform="matrix(0.7788 0 0 0.8582 63.943 1039.709)" fill="#000" font-family='"Liberation Serif"' font-size="20.0">1</text>
<text transform="matrix(1.0568 0 0 0.8582 46.039 1010.593)" fill="#000" font-family='"Liberation Serif"' font-size="20.0">0</text>
<text transform="matrix(0.9042 0 0 0.8582 57.437 1010.593)" fill="#000" font-family='"Liberation Serif"' font-size="20.0">.</text>
<text transform="matrix(0.7809 0 0 0.8582 63.923 1010.593)" fill="#000" font-family='"Liberation Serif"' font-size="20.0">1</text>
<text transform="matrix(0.8133 0 0 0.8582 63.529 981.478)" fill="#000" font-family='"Liberation Serif"' font-size="20.0">1</text>
<text transform="matrix(0.7495 0 0 0.8582 52.629 952.363)" fill="#000" font-family='"Liberation Serif"' font-size="20.0">1</text>
<text transform="matrix(1.0144 0 0 0.8582 62.190 952.363)" fill="#000" font-family='"Liberation Serif"' font-size="20.0">0</text>
<text transform="matrix(0.7718 0 0 0.8582 41.194 923.247)" fill="#000" font-family='"Liberation Serif"' font-size="20.0">1</text>
<text transform="matrix(1.0446 0 0 0.8582 51.039 923.247)" fill="#000" font-family='"Liberation Serif"' font-size="20.0">0</text>
<text transform="matrix(1.0446 0 0 0.8582 62.007 923.247)" fill="#000" font-family='"Liberation Serif"' font-size="20.0">0</text>
<text transform="matrix(0.7667 0 0 0.8582 30.502 894.132)" fill="#000" font-family='"Liberation Serif"' font-size="20.0">1</text>
<text transform="matrix(1.0376 0 0 0.8582 40.282 894.132)" fill="#000" font-family='"Liberation Serif"' font-size="20.0">0</text>
<text transform="matrix(1.0376 0 0 0.8582 51.177 894.132)" fill="#000" font-family='"Liberation Serif"' font-size="20.0">0</text>
<text transform="matrix(1.0376 0 0 0.8582 62.072 894.132)" fill="#000" font-family='"Liberation Serif"' font-size="20.0">0</text>
<text transform="matrix(0.7453 0 0 0.8582 68.335 1288.332)" fill="#000" font-family='"Liberation Serif"' font-size="20.0">1</text>
<text transform="matrix(1.0087 0 0 0.8582 77.843 1288.332)" fill="#000" font-family='"Liberation Serif"' font-size="20.0">0</text>
<text transform="matrix(0.9305 0 0 0.5818 89.528 1279.618)" fill="#000" font-family='"Liberation Serif"' font-size="20.0">−</text>
<text transform="matrix(0.7056 0 0 0.5818 99.985 1279.618)" fill="#000" font-family='"Liberation Serif"' font-size="20.0">5</text>
<text transform="matrix(0.7453 0 0 0.8582 170.275 1288.332)" fill="#000" font-family='"Liberation Serif"' font-size="20.0">1</text>
<text transform="matrix(1.0087 0 0 0.8582 179.783 1288.332)" fill="#000" font-family='"Liberation Serif"' font-size="20.0">0</text>
<text transform="matrix(0.9148 0 0 0.5818 191.482 1279.618)" fill="#000" font-family='"Liberation Serif"' font-size="20.0">−</text>
<text transform="matrix(0.6825 0 0 0.5818 201.928 1279.618)" fill="#000" font-family='"Liberation Serif"' font-size="20.0">4</text>
<text transform="matrix(0.7453 0 0 0.8582 272.215 1288.332)" fill="#000" font-family='"Liberation Serif"' font-size="20.0">1</text>
<text transform="matrix(1.0087 0 0 0.8582 281.723 1288.332)" fill="#000" font-family='"Liberation Serif"' font-size="20.0">0</text>
<text transform="matrix(0.9305 0 0 0.5818 293.408 1279.618)" fill="#000" font-family='"Liberation Serif"' font-size="20.0">−</text>
<text transform="matrix(0.7056 0 0 0.5818 303.865 1279.618)" fill="#000" font-family='"Liberation Serif"' font-size="20.0">3</text>
<text transform="matrix(1.0330 0 0 0.8582 372.354 1288.332)" fill="#000" font-family='"Liberation Serif"' font-size="20.0">0</text>
<text transform="matrix(0.8838 0 0 0.8582 383.496 1288.332)" fill="#000" font-family='"Liberation Serif"' font-size="20.0">.</text>
<text transform="matrix(1.0330 0 0 0.8582 388.725 1288.332)" fill="#000" font-family='"Liberation Serif"' font-size="20.0">0</text>
<text transform="matrix(0.7633 0 0 0.8582 400.683 1288.332)" fill="#000" font-family='"Liberation Serif"' font-size="20.0">1</text>
<text transform="matrix(1.0525 0 0 0.8582 479.942 1288.332)" fill="#000" font-family='"Liberation Serif"' font-size="20.0">0</text>
<text transform="matrix(0.9005 0 0 0.8582 491.293 1288.332)" fill="#000" font-family='"Liberation Serif"' font-size="20.0">.</text>
<text transform="matrix(0.7777 0 0 0.8582 497.752 1288.332)" fill="#000" font-family='"Liberation Serif"' font-size="20.0">1</text>
<text transform="matrix(0.7467 0 0 0.8582 591.733 1288.332)" fill="#000" font-family='"Liberation Serif"' font-size="20.0">1</text>
<text transform="matrix(0.9980 0 0 0.8582 106.841 1121.132)" fill="#000000" font-family='"Liberation Serif"' font-size="20.0">1S</text>
<text transform="matrix(1.0323 0 0 0.8582 106.355 1150.132)" fill="#cc2030" font-family='"Liberation Serif"' font-size="20.0">2S</text>
<text transform="matrix(1.0450 0 0 0.8582 106.147 1179.132)" fill="#30dc84" font-family='"Liberation Serif"' font-size="20.0">2P</text>
<text transform="matrix(1.0450 0 0 0.8582 106.147 1208.232)" fill="#1414a8" font-family='"Liberation Serif"' font-size="20.0">2P</text>
<text transform="matrix(1.0616 0 0 0.8582 105.805 1237.432)" fill="#9c9c9c" font-family='"Liberation Serif"' font-size="20.0">3P</text>
<text transform="matrix(1.0616 0 0 0.8582 238.405 1121.132)" fill="#38dde6" font-family='"Liberation Serif"' font-size="20.0">3P</text>
<text transform="matrix(0.9162 0 0 0.8582 238.541 1150.132)" fill="#e27a2c" font-family='"Liberation Serif"' font-size="20.0">3D</text>
<text transform="matrix(0.9162 0 0 0.8582 238.541 1179.132)" fill="#2272d2" font-family='"Liberation Serif"' font-size="20.0">3D</text>
<text transform="matrix(1.0289 0 0 0.8582 239.078 1208.232)" fill="#7020d4" font-family='"Liberation Serif"' font-size="20.0">4F</text>
<text transform="matrix(1.0289 0 0 0.8582 239.078 1237.432)" fill="#e020e0" font-family='"Liberation Serif"' font-size="20.0">4F</text>
<text transform="matrix(1.2096 0 0 0.8750 292.642 430.300)" fill="#000" font-family='"Liberation Serif"' font-size="20.0">r</text>
<text transform="matrix(0.7822 0 0 0.9600 310.611 430.000)" fill="#000" font-family='"Liberation Serif"' font-size="20.0">(</text>
<text transform="matrix(0.9741 0 0 0.8750 316.496 430.300)" fill="#000" font-family='"Liberation Serif"' font-size="20.0">fm</text>
<text transform="matrix(0.8282 0 0 0.9600 341.582 430.000)" fill="#000" font-family='"Liberation Serif"' font-size="20.0">)</text>
<text transform="matrix(0 -1.0368 0.8750 0 19.500 254.664)" fill="#000" font-family='"Liberation Serif"' font-size="20.0">r</text>
<text transform="matrix(0 -0.9600 0.9546 0 18.524 246.200)" fill="#000" font-family='"Liberation Serif"' font-size="20.0">|</text>
<text transform="matrix(0 -0.9095 0.8750 0 19.500 242.553)" fill="#000" font-family='"Liberation Serif"' font-size="20.0" font-style="italic">ψ</text>
<text transform="matrix(0 -0.7822 0.9546 0 18.524 228.689)" fill="#000" font-family='"Liberation Serif"' font-size="20.0">(</text>
<text transform="matrix(0 -1.0800 0.8750 0 19.500 222.162)" fill="#000" font-family='"Liberation Serif"' font-size="20.0">r</text>
<text transform="matrix(0 -0.8471 0.9546 0 18.524 213.129)" fill="#000" font-family='"Liberation Serif"' font-size="20.0">)</text>
<text transform="matrix(0 -0.8800 0.9546 0 18.524 205.700)" fill="#000" font-family='"Liberation Serif"' font-size="20.0">|</text>
<text transform="matrix(0 -0.8356 0.9546 0 18.524 192.322)" fill="#000" font-family='"Liberation Serif"' font-size="20.0">(</text>
<text transform="matrix(0 -1.0572 0.8750 0 19.500 185.330)" fill="#000" font-family='"Liberation Serif"' font-size="20.0">fm</text>
<text transform="matrix(0 -0.8533 0.9600 0 12.900 161.200)" fill="#000" font-family='"Liberation Serif"' font-size="20.0">−</text>
<text transform="matrix(0 -0.6133 0.6400 0 10.700 150.558)" fill="#000" font-family='"Liberation Serif"' font-size="20.0">1</text>
<text transform="matrix(0 -1.3511 0.9600 0 13.000 142.600)" fill="#000" font-family='"Liberation Serif"' font-size="20.0">/</text>
<text transform="matrix(0 -0.8059 0.6995 0 10.900 134.504)" fill="#000" font-family='"Liberation Serif"' font-size="20.0">2</text>
<text transform="matrix(0 -0.8094 0.9546 0 18.724 126.006)" fill="#000" font-family='"Liberation Serif"' font-size="20.0">)</text>
<text transform="matrix(1.1952 0 0 0.8750 292.742 875.100)" fill="#000" font-family='"Liberation Serif"' font-size="20.0">r</text>
<text transform="matrix(0.7822 0 0 0.9654 310.911 874.576)" fill="#000" font-family='"Liberation Serif"' font-size="20.0">(</text>
<text transform="matrix(1.0803 0 0 0.8750 316.862 875.100)" fill="#000" font-family='"Liberation Serif"' font-size="20.0">fm</text>
<text transform="matrix(0.7718 0 0 0.9654 342.518 874.576)" fill="#000" font-family='"Liberation Serif"' font-size="20.0">)</text>
<text transform="matrix(0 -0.9648 0.8750 0 14.900 677.966)" fill="#000" font-family='"Liberation Serif"' font-size="20.0">r</text>
<text transform="matrix(0 -1.0779 0.8750 0 14.900 671.311)" fill="#000" font-family='"Liberation Serif"' font-size="20.0" font-style="italic">ψ</text>
<text transform="matrix(0 -1.0667 0.9763 0 14.029 656.067)" fill="#000" font-family='"Liberation Serif"' font-size="20.0">(</text>
<text transform="matrix(0 -1.1952 0.8750 0 14.900 648.859)" fill="#000" font-family='"Liberation Serif"' font-size="20.0">r</text>
<text transform="matrix(0 -1.0541 0.9763 0 14.029 639.959)" fill="#000" font-family='"Liberation Serif"' font-size="20.0">)</text>
<text transform="matrix(0 -0.9956 0.9763 0 14.029 622.322)" fill="#000" font-family='"Liberation Serif"' font-size="20.0">(</text>
<text transform="matrix(0 -1.0849 0.8750 0 14.900 615.439)" fill="#000" font-family='"Liberation Serif"' font-size="20.0">fm</text>
<text transform="matrix(0 -0.9600 0.9763 0 14.029 591.200)" fill="#000" font-family='"Liberation Serif"' font-size="20.0">)</text>
<text transform="matrix(0.9143 0 0 0.9067 282.014 1324.400)" fill="#000" font-family='"Liberation Serif"' font-size="20.0">E</text>
<text transform="matrix(0.5858 0 0 0.6473 293.534 1330.398)" fill="#000" font-family='"Liberation Serif"' font-size="20.0">CM</text>
<text transform="matrix(0.7644 0 0 0.9817 322.122 1323.505)" fill="#000" font-family='"Liberation Serif"' font-size="20.0">(</text>
<text transform="matrix(0.8423 0 0 0.8856 328.337 1323.823)" fill="#000" font-family='"Liberation Serif"' font-size="20.0">MeV</text>
<text transform="matrix(0.8094 0 0 0.9817 364.094 1323.505)" fill="#000" font-family='"Liberation Serif"' font-size="20.0">)</text>
<text transform="matrix(0 -0.8921 0.8188 0 14.344 1109.079)" fill="#000" font-family='"Liberation Serif"' font-size="20.0" font-style="italic">σ</text>
<text transform="matrix(0 -0.9067 0.9980 0 14.234 1088.767)" fill="#000" font-family='"Liberation Serif"' font-size="20.0">(</text>
<text transform="matrix(0 -1.0867 0.8750 0 14.500 1081.940)" fill="#000" font-family='"Liberation Serif"' font-size="20.0">m</text>
<text transform="matrix(0 -0.9920 0.8750 0 14.500 1063.500)" fill="#000" font-family='"Liberation Serif"' font-size="20.0">b</text>
<text transform="matrix(0 -0.9035 0.9980 0 14.234 1052.465)" fill="#000" font-family='"Liberation Serif"' font-size="20.0">)</text>
<text transform="matrix(0.8533 0 0 0.9925 138.567 1179.458)" fill="#30dc84" font-family='"Liberation Serif"' font-size="20.0">(</text>
<text transform="matrix(1.0981 0 0 0.8750 145.214 1179.600)" fill="#30dc84" font-family='"Liberation Serif"' font-size="20.0">s−wave</text>
<text transform="matrix(0.9035 0 0 0.9925 213.335 1179.458)" fill="#30dc84" font-family='"Liberation Serif"' font-size="20.0">)</text>
<text transform="matrix(0.8533 0 0 0.9925 138.567 1208.558)" fill="#1414a8" font-family='"Liberation Serif"' font-size="20.0">(</text>
<text transform="matrix(1.0927 0 0 0.8750 145.217 1208.700)" fill="#1414a8" font-family='"Liberation Serif"' font-size="20.0">d−wave</text>
<text transform="matrix(0.9035 0 0 0.9925 215.435 1208.558)" fill="#1414a8" font-family='"Liberation Serif"' font-size="20.0">)</text>
<text transform="matrix(0.8533 0 0 0.9925 138.567 1237.758)" fill="#9c9c9c" font-family='"Liberation Serif"' font-size="20.0">(</text>
<text transform="matrix(1.0981 0 0 0.8750 145.214 1237.900)" fill="#9c9c9c" font-family='"Liberation Serif"' font-size="20.0">s−wave</text>
<text transform="matrix(0.9035 0 0 0.9925 213.335 1237.758)" fill="#9c9c9c" font-family='"Liberation Serif"' font-size="20.0">)</text>
<text transform="matrix(0.8533 0 0 0.9925 271.167 1121.458)" fill="#38dde6" font-family='"Liberation Serif"' font-size="20.0">(</text>
<text transform="matrix(1.0895 0 0 0.8750 277.819 1121.600)" fill="#38dde6" font-family='"Liberation Serif"' font-size="20.0">d−wave</text>
<text transform="matrix(0.9035 0 0 0.9925 347.835 1121.458)" fill="#38dde6" font-family='"Liberation Serif"' font-size="20.0">)</text>
<text transform="matrix(0.8533 0 0 0.9925 271.167 1150.458)" fill="#e27a2c" font-family='"Liberation Serif"' font-size="20.0">(</text>
<text transform="matrix(1.0841 0 0 0.8750 278.161 1150.600)" fill="#e27a2c" font-family='"Liberation Serif"' font-size="20.0">p−wave</text>
<text transform="matrix(0.9035 0 0 0.9925 347.835 1150.458)" fill="#e27a2c" font-family='"Liberation Serif"' font-size="20.0">)</text>
<text transform="matrix(0.8533 0 0 0.9925 271.167 1179.458)" fill="#2272d2" font-family='"Liberation Serif"' font-size="20.0">(</text>
<text transform="matrix(1.0878 0 0 0.8750 278.160 1179.600)" fill="#2272d2" font-family='"Liberation Serif"' font-size="20.0">f−wave</text>
<text transform="matrix(0.9035 0 0 0.9925 344.435 1179.458)" fill="#2272d2" font-family='"Liberation Serif"' font-size="20.0">)</text>
<text transform="matrix(0.8533 0 0 0.9925 271.167 1208.558)" fill="#7020d4" font-family='"Liberation Serif"' font-size="20.0">(</text>
<text transform="matrix(1.0751 0 0 0.8750 277.828 1208.700)" fill="#7020d4" font-family='"Liberation Serif"' font-size="20.0">d−wave</text>
<text transform="matrix(0.9035 0 0 0.9925 346.935 1208.558)" fill="#7020d4" font-family='"Liberation Serif"' font-size="20.0">)</text>
<text transform="matrix(0.8533 0 0 0.9925 271.167 1237.758)" fill="#e020e0" font-family='"Liberation Serif"' font-size="20.0">(</text>
<text transform="matrix(1.0751 0 0 0.8750 277.828 1237.900)" fill="#e020e0" font-family='"Liberation Serif"' font-size="20.0">g−wave</text>
<text transform="matrix(0.9035 0 0 0.9925 346.935 1237.758)" fill="#e020e0" font-family='"Liberation Serif"' font-size="20.0">)</text>
</svg></body></html>
